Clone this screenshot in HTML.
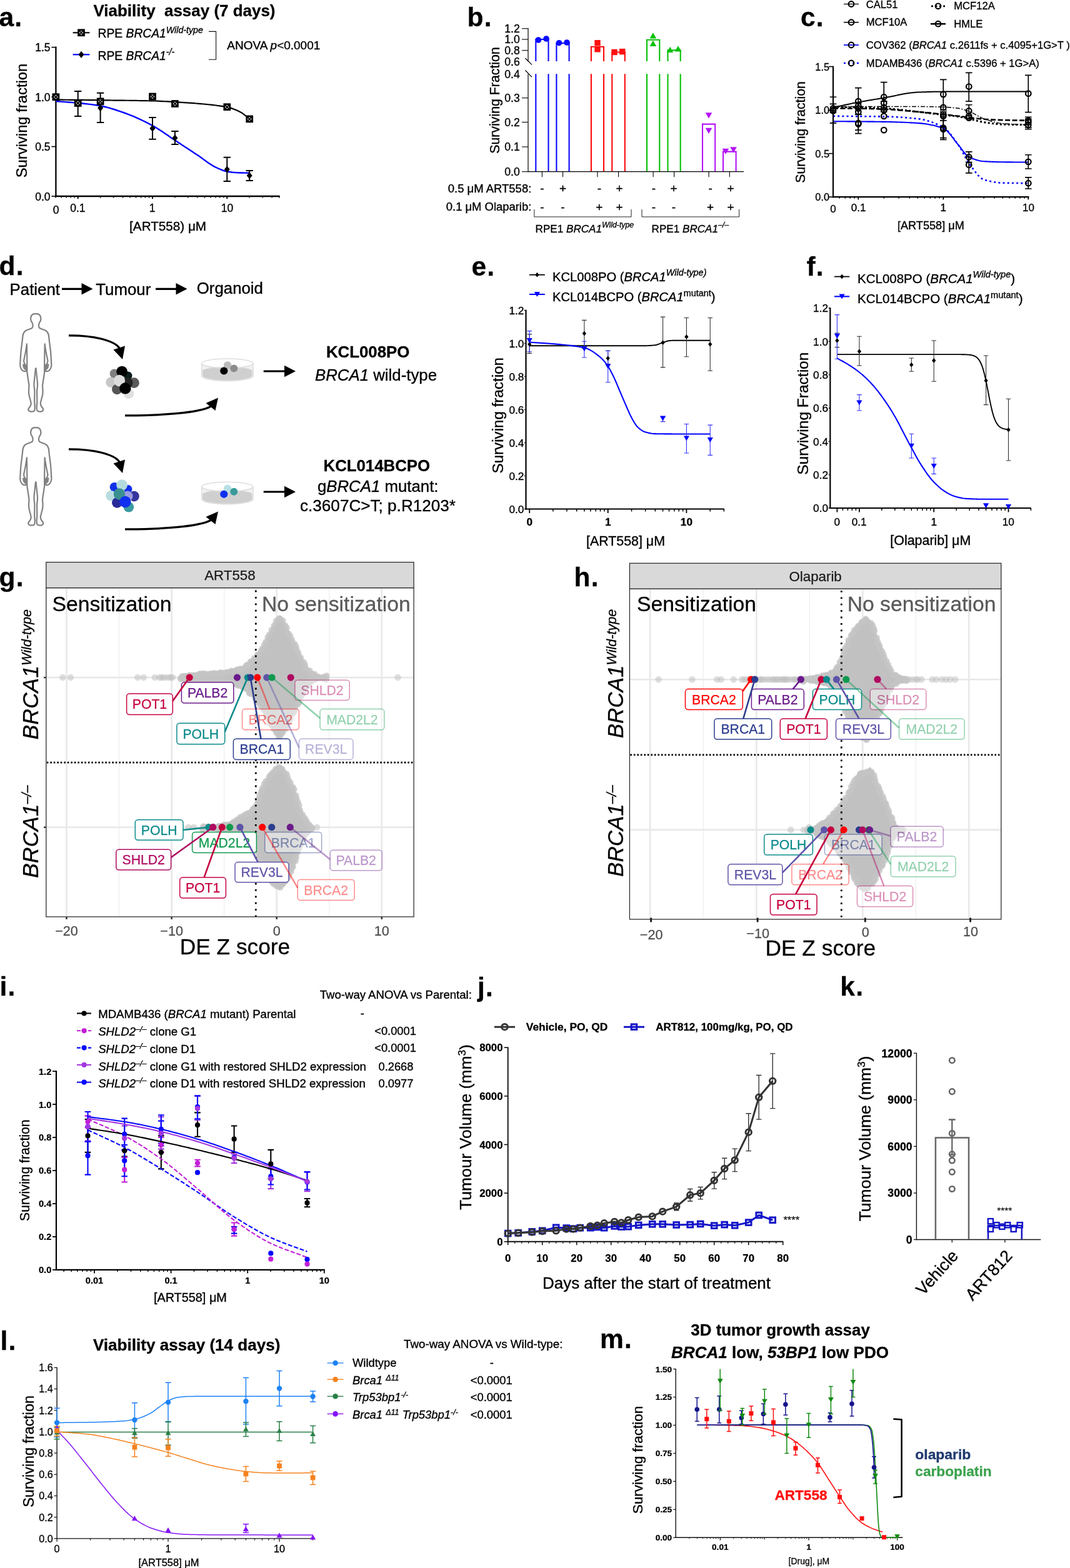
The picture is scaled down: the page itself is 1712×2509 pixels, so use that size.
<!DOCTYPE html>
<html lang="en">
<head>
<meta charset="utf-8">
<title>Figure</title>
<style>
html,body{margin:0;padding:0;background:#fff;}
body{width:1712px;height:2509px;overflow:hidden;}
svg{display:block;font-family:"Liberation Sans", sans-serif;}
svg text{font-family:"Liberation Sans", sans-serif;}
</style>
</head>
<body>
<svg width="1712" height="2509" viewBox="0 0 1712 2509" role="img" aria-label="Figure with panels a to m">
<rect x="0" y="0" width="1712" height="2509" fill="#ffffff"/>
<g id="panel-a">
<text x="-1.5" y="42.2" font-size="42.5" stroke="#000" stroke-width="0.3" font-weight="bold" letter-spacing="1.2">a.</text>
<text x="295" y="26" font-size="26" stroke="#000" stroke-width="0.3" text-anchor="middle" font-weight="bold" textLength="291" lengthAdjust="spacingAndGlyphs" xml:space="preserve">Viability  assay (7 days)</text>
<line x1="89.4" y1="74.55" x2="89.4" y2="315.15" stroke="#000" stroke-width="2.3" />
<line x1="88.3" y1="314" x2="447.7" y2="314" stroke="#000" stroke-width="2.3" />
<line x1="82.4" y1="314" x2="89.4" y2="314" stroke="#000" stroke-width="1.6" />
<text x="80.5" y="320.5" font-size="17.5" stroke="#000" stroke-width="0.34" text-anchor="end">0.0</text>
<line x1="82.4" y1="234.55" x2="89.4" y2="234.55" stroke="#000" stroke-width="1.6" />
<text x="80.5" y="241.05" font-size="17.5" stroke="#000" stroke-width="0.34" text-anchor="end">0.5</text>
<line x1="82.4" y1="155.1" x2="89.4" y2="155.1" stroke="#000" stroke-width="1.6" />
<text x="80.5" y="161.6" font-size="17.5" stroke="#000" stroke-width="0.34" text-anchor="end">1.0</text>
<line x1="82.4" y1="75.65" x2="89.4" y2="75.65" stroke="#000" stroke-width="1.6" />
<text x="80.5" y="82.15" font-size="17.5" stroke="#000" stroke-width="0.34" text-anchor="end">1.5</text>
<line x1="88.79" y1="314" x2="88.79" y2="316.6" stroke="#000" stroke-width="1.5" />
<line x1="98.23" y1="314" x2="98.23" y2="316.6" stroke="#000" stroke-width="1.5" />
<line x1="106.22" y1="314" x2="106.22" y2="316.6" stroke="#000" stroke-width="1.5" />
<line x1="113.14" y1="314" x2="113.14" y2="316.6" stroke="#000" stroke-width="1.5" />
<line x1="119.24" y1="314" x2="119.24" y2="316.6" stroke="#000" stroke-width="1.5" />
<line x1="124.7" y1="314" x2="124.7" y2="318.2" stroke="#000" stroke-width="2" />
<line x1="160.61" y1="314" x2="160.61" y2="316.6" stroke="#000" stroke-width="1.5" />
<line x1="181.62" y1="314" x2="181.62" y2="316.6" stroke="#000" stroke-width="1.5" />
<line x1="196.53" y1="314" x2="196.53" y2="316.6" stroke="#000" stroke-width="1.5" />
<line x1="208.09" y1="314" x2="208.09" y2="316.6" stroke="#000" stroke-width="1.5" />
<line x1="217.53" y1="314" x2="217.53" y2="316.6" stroke="#000" stroke-width="1.5" />
<line x1="225.52" y1="314" x2="225.52" y2="316.6" stroke="#000" stroke-width="1.5" />
<line x1="232.44" y1="314" x2="232.44" y2="316.6" stroke="#000" stroke-width="1.5" />
<line x1="238.54" y1="314" x2="238.54" y2="316.6" stroke="#000" stroke-width="1.5" />
<line x1="244" y1="314" x2="244" y2="318.2" stroke="#000" stroke-width="2" />
<line x1="279.91" y1="314" x2="279.91" y2="316.6" stroke="#000" stroke-width="1.5" />
<line x1="300.92" y1="314" x2="300.92" y2="316.6" stroke="#000" stroke-width="1.5" />
<line x1="315.83" y1="314" x2="315.83" y2="316.6" stroke="#000" stroke-width="1.5" />
<line x1="327.39" y1="314" x2="327.39" y2="316.6" stroke="#000" stroke-width="1.5" />
<line x1="336.83" y1="314" x2="336.83" y2="316.6" stroke="#000" stroke-width="1.5" />
<line x1="344.82" y1="314" x2="344.82" y2="316.6" stroke="#000" stroke-width="1.5" />
<line x1="351.74" y1="314" x2="351.74" y2="316.6" stroke="#000" stroke-width="1.5" />
<line x1="357.84" y1="314" x2="357.84" y2="316.6" stroke="#000" stroke-width="1.5" />
<line x1="363.3" y1="314" x2="363.3" y2="318.2" stroke="#000" stroke-width="2" />
<line x1="399.21" y1="314" x2="399.21" y2="316.6" stroke="#000" stroke-width="1.5" />
<line x1="420.22" y1="314" x2="420.22" y2="316.6" stroke="#000" stroke-width="1.5" />
<line x1="435.13" y1="314" x2="435.13" y2="316.6" stroke="#000" stroke-width="1.5" />
<line x1="446.69" y1="314" x2="446.69" y2="316.6" stroke="#000" stroke-width="1.5" />
<text x="89.6" y="341.5" font-size="17.5" stroke="#000" stroke-width="0.34" text-anchor="middle">0</text>
<text x="124.4" y="339" font-size="17.5" stroke="#000" stroke-width="0.34" text-anchor="middle">0.1</text>
<text x="243.7" y="339" font-size="17.5" stroke="#000" stroke-width="0.34" text-anchor="middle">1</text>
<text x="363.5" y="339" font-size="17.5" stroke="#000" stroke-width="0.34" text-anchor="middle">10</text>
<text x="268.6" y="369.3" font-size="20.5" stroke="#000" stroke-width="0.35" text-anchor="middle" textLength="123" lengthAdjust="spacingAndGlyphs">[ART558) μM</text>
<text x="0" y="0" font-size="23.8" stroke="#000" stroke-width="0.35" text-anchor="middle" transform="translate(43 193) rotate(-90)">Surviving fraction</text>
<path d="M89.4 159.6 L93.28 159.63 L97.15 159.66 L101.03 159.7 L104.9 159.73 L108.78 159.76 L112.65 159.79 L116.53 159.82 L120.4 159.86 L124.28 159.89 L128.15 159.93 L132.03 159.97 L135.9 160.01 L139.78 160.05 L143.65 160.1 L147.53 160.14 L151.4 160.19 L155.28 160.23 L159.15 160.28 L163.03 160.32 L166.9 160.37 L170.78 160.41 L174.65 160.45 L178.53 160.49 L182.4 160.53 L186.28 160.57 L190.15 160.61 L194.03 160.65 L197.9 160.69 L201.78 160.73 L205.65 160.77 L209.53 160.82 L213.4 160.87 L217.28 160.92 L221.15 160.98 L225.03 161.04 L228.9 161.1 L232.78 161.17 L236.65 161.24 L240.53 161.32 L244.4 161.41 L248.28 161.52 L252.15 161.66 L256.02 161.83 L259.9 162.03 L263.77 162.24 L267.65 162.46 L271.52 162.69 L275.4 162.93 L279.27 163.16 L283.15 163.38 L287.02 163.62 L290.9 163.85 L294.77 164.1 L298.65 164.35 L302.52 164.62 L306.4 164.9 L310.27 165.19 L314.15 165.5 L318.02 165.83 L321.9 166.17 L325.77 166.52 L329.65 166.87 L333.52 167.25 L337.4 167.64 L341.27 168.07 L345.15 168.53 L349.02 169.04 L352.9 169.6 L356.77 170.21 L360.65 170.89 L364.52 171.66 L368.4 172.65 L372.27 173.91 L376.15 175.39 L380.02 177.08 L383.9 178.94 L387.77 181.16 L391.65 184.06 L395.52 187.28 L399.4 190.4" stroke="#000" stroke-width="2.2" fill="none" stroke-linejoin="round" />
<path d="M89.4 162 L93.28 162.3 L97.15 162.58 L101.03 162.86 L104.9 163.14 L108.78 163.43 L112.65 163.73 L116.53 164.04 L120.4 164.37 L124.28 164.73 L128.15 165.11 L132.03 165.51 L135.9 165.94 L139.78 166.39 L143.65 166.86 L147.53 167.38 L151.4 167.93 L155.28 168.53 L159.15 169.17 L163.03 169.88 L166.9 170.71 L170.78 171.64 L174.65 172.67 L178.53 173.79 L182.4 174.98 L186.28 176.24 L190.15 177.54 L194.03 178.89 L197.9 180.25 L201.78 181.64 L205.65 183.09 L209.53 184.62 L213.4 186.21 L217.28 187.88 L221.15 189.61 L225.03 191.4 L228.9 193.25 L232.78 195.16 L236.65 197.13 L240.53 199.15 L244.4 201.22 L248.28 203.41 L252.15 205.76 L256.02 208.24 L259.9 210.81 L263.77 213.44 L267.65 216.11 L271.52 218.78 L275.4 221.43 L279.27 224.02 L283.15 226.56 L287.02 229.1 L290.9 231.65 L294.77 234.19 L298.65 236.74 L302.52 239.29 L306.4 241.84 L310.27 244.39 L314.15 246.94 L318.02 249.55 L321.9 252.29 L325.77 255.1 L329.65 257.91 L333.52 260.65 L337.4 263.25 L341.27 265.62 L345.15 267.71 L349.02 269.51 L352.9 271.22 L356.77 272.74 L360.65 273.94 L364.52 274.7 L368.4 275.26 L372.27 275.73 L376.15 276.07 L380.02 276.3 L383.9 276.44 L387.77 276.55 L391.65 276.63 L395.52 276.71 L399.4 276.8" stroke="#0000ff" stroke-width="2.4" fill="none" stroke-linejoin="round" />
<path d="M124.7 146V186M119 146H130.4M119 186H130.4" stroke="#000" stroke-width="2" fill="none"/>
<path d="M160.61 148.8V196M154.91 148.8H166.31M154.91 196H166.31" stroke="#000" stroke-width="2" fill="none"/>
<path d="M244 188V222.7M238.3 188H249.7M238.3 222.7H249.7" stroke="#000" stroke-width="2" fill="none"/>
<path d="M279.91 210V231M274.21 210H285.61M274.21 231H285.61" stroke="#000" stroke-width="2" fill="none"/>
<path d="M363.3 251.7V290M357.6 251.7H369M357.6 290H369" stroke="#000" stroke-width="2" fill="none"/>
<path d="M399.21 273V289M393.51 273H404.91M393.51 289H404.91" stroke="#000" stroke-width="2" fill="none"/>
<path d="M160.61 167.2L165.09 172.8L160.61 178.4L156.13 172.8Z" fill="#000"/>
<path d="M244 199.8L248.48 205.4L244 211L239.52 205.4Z" fill="#000"/>
<path d="M279.91 215.2L284.39 220.8L279.91 226.4L275.43 220.8Z" fill="#000"/>
<path d="M363.3 265.4L367.78 271L363.3 276.6L358.82 271Z" fill="#000"/>
<path d="M399.21 275.4L403.69 281L399.21 286.6L394.73 281Z" fill="#000"/>
<rect x="85" y="150.8" width="8.8" height="8.8" fill="#fff" stroke="#000" stroke-width="2.9" rx="0" /><path d="M85 150.8L93.8 159.6M93.8 150.8L85 159.6" stroke="#000" stroke-width="1.9"/>
<rect x="120.3" y="160.6" width="8.8" height="8.8" fill="#fff" stroke="#000" stroke-width="2.9" rx="0" /><path d="M120.3 160.6L129.1 169.4M129.1 160.6L120.3 169.4" stroke="#000" stroke-width="1.9"/>
<rect x="156.21" y="158" width="8.8" height="8.8" fill="#fff" stroke="#000" stroke-width="2.9" rx="0" /><path d="M156.21 158L165.01 166.8M165.01 158L156.21 166.8" stroke="#000" stroke-width="1.9"/>
<rect x="239.6" y="150.1" width="8.8" height="8.8" fill="#fff" stroke="#000" stroke-width="2.9" rx="0" /><path d="M239.6 150.1L248.4 158.9M248.4 150.1L239.6 158.9" stroke="#000" stroke-width="1.9"/>
<rect x="275.51" y="161.6" width="8.8" height="8.8" fill="#fff" stroke="#000" stroke-width="2.9" rx="0" /><path d="M275.51 161.6L284.31 170.4M284.31 161.6L275.51 170.4" stroke="#000" stroke-width="1.9"/>
<rect x="358.9" y="166.8" width="8.8" height="8.8" fill="#fff" stroke="#000" stroke-width="2.9" rx="0" /><path d="M358.9 166.8L367.7 175.6M367.7 166.8L358.9 175.6" stroke="#000" stroke-width="1.9"/>
<rect x="394.81" y="186" width="8.8" height="8.8" fill="#fff" stroke="#000" stroke-width="2.9" rx="0" /><path d="M394.81 186L403.61 194.8M403.61 186L394.81 194.8" stroke="#000" stroke-width="1.9"/>
<line x1="116.6" y1="52.3" x2="143.4" y2="52.3" stroke="#000" stroke-width="2.1" />
<rect x="125.6" y="47.9" width="8.8" height="8.8" fill="#fff" stroke="#000" stroke-width="2.9" rx="0" /><path d="M125.6 47.9L134.4 56.7M134.4 47.9L125.6 56.7" stroke="#000" stroke-width="1.9"/>
<line x1="116.6" y1="87.3" x2="143.4" y2="87.3" stroke="#0000ff" stroke-width="2.2" />
<path d="M130 81.7L134.48 87.3L130 92.9L125.52 87.3Z" fill="#000"/>
<text x="156.5" y="60.4" font-size="19.3" stroke="#000" stroke-width="0.35">RPE <tspan font-style="italic">BRCA1</tspan><tspan font-style="italic" font-size="14.2" dy="-7.6">Wild-type</tspan></text>
<text x="156.5" y="95.5" font-size="19.3" stroke="#000" stroke-width="0.35">RPE <tspan font-style="italic">BRCA1</tspan><tspan font-style="italic" font-size="14.2" dy="-7.6">-/-</tspan></text>
<path d="M334 50.4H345.6V95.2H334" stroke="#111" stroke-width="1.1" fill="none" />
<text x="363.3" y="78.8" font-size="19" stroke="#000" stroke-width="0.35" textLength="149" lengthAdjust="spacingAndGlyphs">ANOVA <tspan font-style="italic">p</tspan>&lt;0.0001</text>
</g>
<g id="panel-b">
<text x="747.5" y="42.2" font-size="42.5" stroke="#000" stroke-width="0.3" font-weight="bold" letter-spacing="1.2">b.</text>
<line x1="845" y1="45.1" x2="845" y2="98.4" stroke="#000" stroke-width="1.2" />
<line x1="845" y1="118.2" x2="845" y2="275.3" stroke="#000" stroke-width="1.2" />
<line x1="844.4" y1="274.7" x2="1190" y2="274.7" stroke="#000" stroke-width="1.2" />
<line x1="840.5" y1="93.2" x2="851" y2="103.6" stroke="#000" stroke-width="1.2" />
<line x1="840.5" y1="112.5" x2="851" y2="123.4" stroke="#000" stroke-width="1.2" />
<line x1="835" y1="45.7" x2="845" y2="45.7" stroke="#000" stroke-width="1.1" />
<text x="831.8" y="52" font-size="17.6" stroke="#000" stroke-width="0.34" text-anchor="end">1.2</text>
<line x1="835" y1="63" x2="845" y2="63" stroke="#000" stroke-width="1.1" />
<text x="831.8" y="69.3" font-size="17.6" stroke="#000" stroke-width="0.34" text-anchor="end">1.0</text>
<line x1="835" y1="80.7" x2="845" y2="80.7" stroke="#000" stroke-width="1.1" />
<text x="831.8" y="87" font-size="17.6" stroke="#000" stroke-width="0.34" text-anchor="end">0.8</text>
<text x="831.8" y="104.7" font-size="17.6" stroke="#000" stroke-width="0.34" text-anchor="end">0.6</text>
<text x="831.8" y="124.5" font-size="17.6" stroke="#000" stroke-width="0.34" text-anchor="end">0.4</text>
<line x1="835" y1="156.7" x2="845" y2="156.7" stroke="#000" stroke-width="1.1" />
<text x="831.8" y="163" font-size="17.6" stroke="#000" stroke-width="0.34" text-anchor="end">0.3</text>
<line x1="835" y1="195.5" x2="845" y2="195.5" stroke="#000" stroke-width="1.1" />
<text x="831.8" y="201.8" font-size="17.6" stroke="#000" stroke-width="0.34" text-anchor="end">0.2</text>
<line x1="835" y1="235" x2="845" y2="235" stroke="#000" stroke-width="1.1" />
<text x="831.8" y="241.3" font-size="17.6" stroke="#000" stroke-width="0.34" text-anchor="end">0.1</text>
<line x1="835" y1="274.7" x2="845" y2="274.7" stroke="#000" stroke-width="1.1" />
<text x="831.8" y="281" font-size="17.6" stroke="#000" stroke-width="0.34" text-anchor="end">0.0</text>
<text x="0" y="0" font-size="21.3" stroke="#000" stroke-width="0.35" text-anchor="middle" transform="translate(799 160.5) rotate(-90)">Surviving Fraction</text>
<path d="M857.3 98V63H877.5V98" stroke="#0a0aff" stroke-width="2.1" fill="none" />
<path d="M857.3 118.2V274.1M877.5 118.2V274.1" stroke="#0a0aff" stroke-width="2.1" fill="none" />
<line x1="867.4" y1="274.7" x2="867.4" y2="283.2" stroke="#000" stroke-width="1.1" />
<path d="M890.4 98V69H910.6V98" stroke="#0a0aff" stroke-width="2.1" fill="none" />
<path d="M890.4 118.2V274.1M910.6 118.2V274.1" stroke="#0a0aff" stroke-width="2.1" fill="none" />
<line x1="900.5" y1="274.7" x2="900.5" y2="283.2" stroke="#000" stroke-width="1.1" />
<path d="M945.9 98V74.7H966V98" stroke="#ff0a0a" stroke-width="2.1" fill="none" />
<path d="M945.9 118.2V274.1M966 118.2V274.1" stroke="#ff0a0a" stroke-width="2.1" fill="none" />
<line x1="955.95" y1="274.7" x2="955.95" y2="283.2" stroke="#000" stroke-width="1.1" />
<path d="M979.3 98V83.5H999.8V98" stroke="#ff0a0a" stroke-width="2.1" fill="none" />
<path d="M979.3 118.2V274.1M999.8 118.2V274.1" stroke="#ff0a0a" stroke-width="2.1" fill="none" />
<line x1="989.55" y1="274.7" x2="989.55" y2="283.2" stroke="#000" stroke-width="1.1" />
<path d="M1035 98V63.7H1055.3V98" stroke="#08c008" stroke-width="2.1" fill="none" />
<path d="M1035 118.2V274.1M1055.3 118.2V274.1" stroke="#08c008" stroke-width="2.1" fill="none" />
<line x1="1045.15" y1="274.7" x2="1045.15" y2="283.2" stroke="#000" stroke-width="1.1" />
<path d="M1068.5 98V80.4H1088.7V98" stroke="#08c008" stroke-width="2.1" fill="none" />
<path d="M1068.5 118.2V274.1M1088.7 118.2V274.1" stroke="#08c008" stroke-width="2.1" fill="none" />
<line x1="1078.6" y1="274.7" x2="1078.6" y2="283.2" stroke="#000" stroke-width="1.1" />
<path d="M1124 274.1V198.6H1144.2V274.1" stroke="#b414f5" stroke-width="2.1" fill="none" />
<line x1="1134.1" y1="274.7" x2="1134.1" y2="283.2" stroke="#000" stroke-width="1.1" />
<path d="M1157 274.1V242.6H1177.6V274.1" stroke="#b414f5" stroke-width="2.1" fill="none" />
<line x1="1167.3" y1="274.7" x2="1167.3" y2="283.2" stroke="#000" stroke-width="1.1" />
<circle cx="861.4" cy="64" r="4.8" fill="#0a0aff" stroke="none" stroke-width="0" />
<circle cx="874" cy="62" r="4.8" fill="#0a0aff" stroke="none" stroke-width="0" />
<circle cx="894.5" cy="68.7" r="4.8" fill="#0a0aff" stroke="none" stroke-width="0" />
<circle cx="907" cy="68" r="4.8" fill="#0a0aff" stroke="none" stroke-width="0" />
<rect x="951.3" y="64" width="9.4" height="9.4" fill="#ff1010" stroke="none" stroke-width="0" rx="0" />
<rect x="951.3" y="74.1" width="9.4" height="9.4" fill="#ff1010" stroke="none" stroke-width="0" rx="0" />
<rect x="978.3" y="78.8" width="9.4" height="9.4" fill="#ff1010" stroke="none" stroke-width="0" rx="0" />
<rect x="991" y="77.9" width="9.4" height="9.4" fill="#ff1010" stroke="none" stroke-width="0" rx="0" />
<path d="M1044.9 52.2L1050.2 61.48L1039.6 61.48Z" fill="#08c008"/>
<path d="M1044.9 64.7L1050.2 73.97L1039.6 73.97Z" fill="#08c008"/>
<path d="M1072 74.7L1077.3 83.97L1066.7 83.97Z" fill="#08c008"/>
<path d="M1085 73.2L1090.3 82.47L1079.7 82.47Z" fill="#08c008"/>
<path d="M1134 189.6L1139.3 180.33L1128.7 180.33Z" fill="#b414f5"/>
<path d="M1134 214L1139.3 204.72L1128.7 204.72Z" fill="#b414f5"/>
<path d="M1160.9 247.1L1166.2 237.83L1155.6 237.83Z" fill="#b414f5"/>
<path d="M1173.5 244.5L1178.8 235.22L1168.2 235.22Z" fill="#b414f5"/>
<text x="850.3" y="308" font-size="18" stroke="#000" stroke-width="0.35" text-anchor="end" textLength="133.5" lengthAdjust="spacingAndGlyphs">0.5 μM ART558:</text>
<text x="850.3" y="337" font-size="18" stroke="#000" stroke-width="0.35" text-anchor="end" textLength="136.5" lengthAdjust="spacingAndGlyphs">0.1 μM Olaparib:</text>
<text x="867.4" y="307.6" font-size="19" stroke="#000" stroke-width="0.35" text-anchor="middle">-</text>
<text x="900.5" y="307.8" font-size="19" stroke="#000" stroke-width="0.35" text-anchor="middle">+</text>
<text x="958.8" y="307.6" font-size="19" stroke="#000" stroke-width="0.35" text-anchor="middle">-</text>
<text x="991" y="307.8" font-size="19" stroke="#000" stroke-width="0.35" text-anchor="middle">+</text>
<text x="1045.8" y="307.6" font-size="19" stroke="#000" stroke-width="0.35" text-anchor="middle">-</text>
<text x="1078" y="307.8" font-size="19" stroke="#000" stroke-width="0.35" text-anchor="middle">+</text>
<text x="1136.6" y="307.6" font-size="19" stroke="#000" stroke-width="0.35" text-anchor="middle">-</text>
<text x="1169" y="307.8" font-size="19" stroke="#000" stroke-width="0.35" text-anchor="middle">+</text>
<text x="867.4" y="338.1" font-size="19" stroke="#000" stroke-width="0.35" text-anchor="middle">-</text>
<text x="900.5" y="338.1" font-size="19" stroke="#000" stroke-width="0.35" text-anchor="middle">-</text>
<text x="958.8" y="338.3" font-size="19" stroke="#000" stroke-width="0.35" text-anchor="middle">+</text>
<text x="991" y="338.3" font-size="19" stroke="#000" stroke-width="0.35" text-anchor="middle">+</text>
<text x="1045.8" y="338.1" font-size="19" stroke="#000" stroke-width="0.35" text-anchor="middle">-</text>
<text x="1078" y="338.1" font-size="19" stroke="#000" stroke-width="0.35" text-anchor="middle">-</text>
<text x="1136.6" y="338.3" font-size="19" stroke="#000" stroke-width="0.35" text-anchor="middle">+</text>
<text x="1169" y="338.3" font-size="19" stroke="#000" stroke-width="0.35" text-anchor="middle">+</text>
<path d="M854.8 335V347H1010V335" stroke="#222" stroke-width="1" fill="none" />
<path d="M1027 335V347H1182.6V335" stroke="#222" stroke-width="1" fill="none" />
<text x="856.6" y="371.8" font-size="17.1" stroke="#000" stroke-width="0.33">RPE1 <tspan font-style="italic">BRCA1</tspan><tspan font-style="italic" font-size="12.3" dy="-7.6">Wild-type</tspan></text>
<text x="1042.6" y="371.8" font-size="17.1" stroke="#000" stroke-width="0.33">RPE1 <tspan font-style="italic">BRCA1</tspan><tspan font-style="italic" font-size="12.3" dy="-7.6">–/–</tspan></text>
</g>
<g id="panel-c">
<text x="1281" y="42.2" font-size="42.5" stroke="#000" stroke-width="0.3" font-weight="bold" letter-spacing="1.2">c.</text>
<line x1="1333" y1="105.75" x2="1333" y2="316.3" stroke="#000" stroke-width="2.2" />
<line x1="1331.9" y1="315.2" x2="1646.4" y2="315.2" stroke="#000" stroke-width="2.2" />
<line x1="1326" y1="315.2" x2="1333" y2="315.2" stroke="#000" stroke-width="1.6" />
<text x="1327" y="321.2" font-size="16.3" stroke="#000" stroke-width="0.32" text-anchor="end">0.0</text>
<line x1="1326" y1="245.65" x2="1333" y2="245.65" stroke="#000" stroke-width="1.6" />
<text x="1327" y="251.65" font-size="16.3" stroke="#000" stroke-width="0.32" text-anchor="end">0.5</text>
<line x1="1326" y1="176.1" x2="1333" y2="176.1" stroke="#000" stroke-width="1.6" />
<text x="1327" y="182.1" font-size="16.3" stroke="#000" stroke-width="0.32" text-anchor="end">1.0</text>
<line x1="1326" y1="106.55" x2="1333" y2="106.55" stroke="#000" stroke-width="1.6" />
<text x="1327" y="112.55" font-size="16.3" stroke="#000" stroke-width="0.32" text-anchor="end">1.5</text>
<line x1="1343.13" y1="315.2" x2="1343.13" y2="317.8" stroke="#000" stroke-width="1.4" />
<line x1="1352.23" y1="315.2" x2="1352.23" y2="317.8" stroke="#000" stroke-width="1.4" />
<line x1="1360.12" y1="315.2" x2="1360.12" y2="317.8" stroke="#000" stroke-width="1.4" />
<line x1="1367.08" y1="315.2" x2="1367.08" y2="317.8" stroke="#000" stroke-width="1.4" />
<line x1="1373.3" y1="315.2" x2="1373.3" y2="319.4" stroke="#000" stroke-width="1.8" />
<line x1="1414.24" y1="315.2" x2="1414.24" y2="317.8" stroke="#000" stroke-width="1.4" />
<line x1="1438.19" y1="315.2" x2="1438.19" y2="317.8" stroke="#000" stroke-width="1.4" />
<line x1="1455.18" y1="315.2" x2="1455.18" y2="317.8" stroke="#000" stroke-width="1.4" />
<line x1="1468.36" y1="315.2" x2="1468.36" y2="317.8" stroke="#000" stroke-width="1.4" />
<line x1="1479.13" y1="315.2" x2="1479.13" y2="317.8" stroke="#000" stroke-width="1.4" />
<line x1="1488.23" y1="315.2" x2="1488.23" y2="317.8" stroke="#000" stroke-width="1.4" />
<line x1="1496.12" y1="315.2" x2="1496.12" y2="317.8" stroke="#000" stroke-width="1.4" />
<line x1="1503.08" y1="315.2" x2="1503.08" y2="317.8" stroke="#000" stroke-width="1.4" />
<line x1="1509.3" y1="315.2" x2="1509.3" y2="319.4" stroke="#000" stroke-width="1.8" />
<line x1="1550.24" y1="315.2" x2="1550.24" y2="317.8" stroke="#000" stroke-width="1.4" />
<line x1="1574.19" y1="315.2" x2="1574.19" y2="317.8" stroke="#000" stroke-width="1.4" />
<line x1="1591.18" y1="315.2" x2="1591.18" y2="317.8" stroke="#000" stroke-width="1.4" />
<line x1="1604.36" y1="315.2" x2="1604.36" y2="317.8" stroke="#000" stroke-width="1.4" />
<line x1="1615.13" y1="315.2" x2="1615.13" y2="317.8" stroke="#000" stroke-width="1.4" />
<line x1="1624.23" y1="315.2" x2="1624.23" y2="317.8" stroke="#000" stroke-width="1.4" />
<line x1="1632.12" y1="315.2" x2="1632.12" y2="317.8" stroke="#000" stroke-width="1.4" />
<line x1="1639.08" y1="315.2" x2="1639.08" y2="317.8" stroke="#000" stroke-width="1.4" />
<line x1="1645.3" y1="315.2" x2="1645.3" y2="319.4" stroke="#000" stroke-width="1.8" />
<text x="1333" y="340.3" font-size="17" stroke="#000" stroke-width="0.33" text-anchor="middle">0</text>
<text x="1373.6" y="337.7" font-size="17" stroke="#000" stroke-width="0.33" text-anchor="middle">0.1</text>
<text x="1509.3" y="337.7" font-size="17" stroke="#000" stroke-width="0.33" text-anchor="middle">1</text>
<text x="1645.4" y="337.7" font-size="17" stroke="#000" stroke-width="0.33" text-anchor="middle">10</text>
<text x="1489.4" y="366.7" font-size="19" stroke="#000" stroke-width="0.35" text-anchor="middle" textLength="107" lengthAdjust="spacingAndGlyphs">[ART558] μM</text>
<text x="0" y="0" font-size="21.2" stroke="#000" stroke-width="0.35" text-anchor="middle" transform="translate(1288 211.5) rotate(-90)">Surviving fraction</text>
<path d="M1333 171.93 L1335.6 171.38 L1338.2 170.84 L1340.81 170.29 L1343.41 169.73 L1346.01 169.17 L1348.62 168.62 L1351.22 168.06 L1353.82 167.51 L1356.42 166.96 L1359.03 166.42 L1361.63 165.88 L1364.23 165.35 L1366.83 164.83 L1369.43 164.32 L1372.04 163.82 L1374.64 163.33 L1377.24 162.86 L1379.85 162.39 L1382.45 161.93 L1385.05 161.48 L1387.65 161.04 L1390.25 160.6 L1392.86 160.16 L1395.46 159.73 L1398.06 159.3 L1400.66 158.87 L1403.27 158.45 L1405.87 158.02 L1408.47 157.59 L1411.08 157.16 L1413.68 156.72 L1416.28 156.27 L1418.88 155.8 L1421.48 155.3 L1424.09 154.79 L1426.69 154.26 L1429.29 153.72 L1431.89 153.17 L1434.5 152.63 L1437.1 152.09 L1439.7 151.56 L1442.31 151.04 L1444.91 150.54 L1447.51 150.06 L1450.11 149.61 L1452.71 149.19 L1455.32 148.81 L1457.92 148.46 L1460.52 148.17 L1463.12 147.92 L1465.73 147.72 L1468.33 147.59 L1470.93 147.48 L1473.53 147.39 L1476.14 147.3 L1478.74 147.21 L1481.34 147.13 L1483.94 147.06 L1486.55 146.99 L1489.15 146.93 L1491.75 146.87 L1494.36 146.82 L1496.96 146.77 L1499.56 146.73 L1502.16 146.69 L1504.76 146.66 L1507.37 146.63 L1509.97 146.6 L1512.57 146.58 L1515.17 146.56 L1517.78 146.54 L1520.38 146.52 L1522.98 146.5 L1525.59 146.49 L1528.19 146.48 L1530.79 146.47 L1533.39 146.47 L1535.99 146.47 L1538.6 146.47 L1541.2 146.47 L1543.8 146.47 L1546.4 146.47 L1549.01 146.47 L1551.61 146.47 L1554.21 146.47 L1556.82 146.47 L1559.42 146.47 L1562.02 146.47 L1564.62 146.47 L1567.22 146.47 L1569.83 146.47 L1572.43 146.47 L1575.03 146.47 L1577.63 146.47 L1580.24 146.47 L1582.84 146.47 L1585.44 146.47 L1588.05 146.47 L1590.65 146.47 L1593.25 146.47 L1595.85 146.47 L1598.45 146.47 L1601.06 146.47 L1603.66 146.47 L1606.26 146.47 L1608.87 146.47 L1611.47 146.47 L1614.07 146.47 L1616.67 146.47 L1619.27 146.47 L1621.88 146.47 L1624.48 146.47 L1627.08 146.47 L1629.68 146.47 L1632.29 146.47 L1634.89 146.47 L1637.49 146.47 L1640.1 146.47 L1642.7 146.47 L1645.3 146.47" stroke="#000" stroke-width="2" fill="none" stroke-linejoin="round" />
<path d="M1333 170.54 L1335.6 170.54 L1338.2 170.54 L1340.81 170.54 L1343.41 170.54 L1346.01 170.54 L1348.62 170.54 L1351.22 170.54 L1353.82 170.54 L1356.42 170.54 L1359.03 170.54 L1361.63 170.54 L1364.23 170.54 L1366.83 170.54 L1369.43 170.54 L1372.04 170.54 L1374.64 170.54 L1377.24 170.54 L1379.85 170.54 L1382.45 170.54 L1385.05 170.54 L1387.65 170.54 L1390.25 170.54 L1392.86 170.54 L1395.46 170.54 L1398.06 170.54 L1400.66 170.54 L1403.27 170.54 L1405.87 170.54 L1408.47 170.54 L1411.08 170.54 L1413.68 170.54 L1416.28 170.54 L1418.88 170.54 L1421.48 170.54 L1424.09 170.54 L1426.69 170.54 L1429.29 170.54 L1431.89 170.54 L1434.5 170.54 L1437.1 170.54 L1439.7 170.54 L1442.31 170.54 L1444.91 170.54 L1447.51 170.54 L1450.11 170.54 L1452.71 170.54 L1455.32 170.54 L1457.92 170.54 L1460.52 170.54 L1463.12 170.54 L1465.73 170.54 L1468.33 170.54 L1470.93 170.54 L1473.53 170.55 L1476.14 170.57 L1478.74 170.59 L1481.34 170.62 L1483.94 170.65 L1486.55 170.69 L1489.15 170.73 L1491.75 170.78 L1494.36 170.84 L1496.96 170.9 L1499.56 170.96 L1502.16 171.03 L1504.76 171.1 L1507.37 171.17 L1509.97 171.25 L1512.57 171.36 L1515.17 171.5 L1517.78 171.67 L1520.38 171.88 L1522.98 172.11 L1525.59 172.38 L1528.19 172.67 L1530.79 172.99 L1533.39 173.34 L1535.99 173.79 L1538.6 174.4 L1541.2 175.12 L1543.8 175.94 L1546.4 176.83 L1549.01 177.75 L1551.61 178.71 L1554.21 179.86 L1556.82 181.16 L1559.42 182.58 L1562.02 184.04 L1564.62 185.51 L1567.22 186.92 L1569.83 188.22 L1572.43 189.36 L1575.03 190.3 L1577.63 191.17 L1580.24 192.04 L1582.84 192.87 L1585.44 193.68 L1588.05 194.44 L1590.65 195.15 L1593.25 195.8 L1595.85 196.38 L1598.45 196.88 L1601.06 197.28 L1603.66 197.6 L1606.26 197.82 L1608.87 198.02 L1611.47 198.2 L1614.07 198.36 L1616.67 198.51 L1619.27 198.64 L1621.88 198.76 L1624.48 198.88 L1627.08 198.98 L1629.68 199.09 L1632.29 199.19 L1634.89 199.29 L1637.49 199.39 L1640.1 199.5 L1642.7 199.62 L1645.3 199.75" stroke="#000" stroke-width="1.5" fill="none" stroke-linejoin="round" stroke-dasharray="7 2.5 2 2.5"/>
<path d="M1333 173.32 L1335.6 173.34 L1338.2 173.35 L1340.81 173.37 L1343.41 173.38 L1346.01 173.4 L1348.62 173.41 L1351.22 173.43 L1353.82 173.44 L1356.42 173.46 L1359.03 173.47 L1361.63 173.49 L1364.23 173.51 L1366.83 173.53 L1369.43 173.56 L1372.04 173.58 L1374.64 173.61 L1377.24 173.65 L1379.85 173.69 L1382.45 173.74 L1385.05 173.79 L1387.65 173.85 L1390.25 173.91 L1392.86 173.98 L1395.46 174.06 L1398.06 174.13 L1400.66 174.22 L1403.27 174.3 L1405.87 174.4 L1408.47 174.49 L1411.08 174.59 L1413.68 174.69 L1416.28 174.79 L1418.88 174.92 L1421.48 175.05 L1424.09 175.2 L1426.69 175.37 L1429.29 175.54 L1431.89 175.72 L1434.5 175.92 L1437.1 176.12 L1439.7 176.33 L1442.31 176.55 L1444.91 176.77 L1447.51 177 L1450.11 177.23 L1452.71 177.47 L1455.32 177.7 L1457.92 177.94 L1460.52 178.18 L1463.12 178.41 L1465.73 178.65 L1468.33 178.88 L1470.93 179.11 L1473.53 179.35 L1476.14 179.6 L1478.74 179.85 L1481.34 180.1 L1483.94 180.36 L1486.55 180.63 L1489.15 180.89 L1491.75 181.17 L1494.36 181.44 L1496.96 181.72 L1499.56 182 L1502.16 182.28 L1504.76 182.56 L1507.37 182.84 L1509.97 183.13 L1512.57 183.42 L1515.17 183.71 L1517.78 184.01 L1520.38 184.31 L1522.98 184.62 L1525.59 184.92 L1528.19 185.23 L1530.79 185.54 L1533.39 185.85 L1535.99 186.17 L1538.6 186.49 L1541.2 186.81 L1543.8 187.14 L1546.4 187.46 L1549.01 187.78 L1551.61 188.09 L1554.21 188.42 L1556.82 188.76 L1559.42 189.11 L1562.02 189.45 L1564.62 189.77 L1567.22 190.07 L1569.83 190.34 L1572.43 190.58 L1575.03 190.76 L1577.63 190.93 L1580.24 191.09 L1582.84 191.23 L1585.44 191.37 L1588.05 191.5 L1590.65 191.62 L1593.25 191.73 L1595.85 191.83 L1598.45 191.92 L1601.06 192.01 L1603.66 192.08 L1606.26 192.14 L1608.87 192.2 L1611.47 192.26 L1614.07 192.31 L1616.67 192.36 L1619.27 192.4 L1621.88 192.44 L1624.48 192.48 L1627.08 192.52 L1629.68 192.56 L1632.29 192.59 L1634.89 192.63 L1637.49 192.67 L1640.1 192.71 L1642.7 192.75 L1645.3 192.79" stroke="#000" stroke-width="2.6" fill="none" stroke-linejoin="round" stroke-dasharray="8 3.5"/>
<path d="M1333 171.23 L1335.6 171.28 L1338.2 171.32 L1340.81 171.36 L1343.41 171.4 L1346.01 171.44 L1348.62 171.48 L1351.22 171.52 L1353.82 171.56 L1356.42 171.6 L1359.03 171.65 L1361.63 171.69 L1364.23 171.74 L1366.83 171.79 L1369.43 171.84 L1372.04 171.9 L1374.64 171.96 L1377.24 172.02 L1379.85 172.08 L1382.45 172.15 L1385.05 172.22 L1387.65 172.3 L1390.25 172.37 L1392.86 172.45 L1395.46 172.54 L1398.06 172.63 L1400.66 172.73 L1403.27 172.83 L1405.87 172.93 L1408.47 173.05 L1411.08 173.17 L1413.68 173.29 L1416.28 173.43 L1418.88 173.59 L1421.48 173.77 L1424.09 173.97 L1426.69 174.19 L1429.29 174.43 L1431.89 174.68 L1434.5 174.94 L1437.1 175.22 L1439.7 175.51 L1442.31 175.8 L1444.91 176.11 L1447.51 176.42 L1450.11 176.73 L1452.71 177.04 L1455.32 177.36 L1457.92 177.67 L1460.52 177.98 L1463.12 178.29 L1465.73 178.59 L1468.33 178.88 L1470.93 179.17 L1473.53 179.47 L1476.14 179.77 L1478.74 180.07 L1481.34 180.38 L1483.94 180.69 L1486.55 181.01 L1489.15 181.32 L1491.75 181.64 L1494.36 181.95 L1496.96 182.27 L1499.56 182.59 L1502.16 182.9 L1504.76 183.21 L1507.37 183.52 L1509.97 183.83 L1512.57 184.12 L1515.17 184.4 L1517.78 184.67 L1520.38 184.95 L1522.98 185.23 L1525.59 185.52 L1528.19 185.84 L1530.79 186.18 L1533.39 186.55 L1535.99 186.99 L1538.6 187.48 L1541.2 188.01 L1543.8 188.58 L1546.4 189.16 L1549.01 189.74 L1551.61 190.32 L1554.21 190.93 L1556.82 191.58 L1559.42 192.25 L1562.02 192.92 L1564.62 193.58 L1567.22 194.2 L1569.83 194.77 L1572.43 195.28 L1575.03 195.71 L1577.63 196.11 L1580.24 196.51 L1582.84 196.9 L1585.44 197.27 L1588.05 197.63 L1590.65 197.95 L1593.25 198.25 L1595.85 198.51 L1598.45 198.73 L1601.06 198.91 L1603.66 199.03 L1606.26 199.11 L1608.87 199.18 L1611.47 199.24 L1614.07 199.29 L1616.67 199.34 L1619.27 199.39 L1621.88 199.43 L1624.48 199.46 L1627.08 199.5 L1629.68 199.53 L1632.29 199.56 L1634.89 199.6 L1637.49 199.63 L1640.1 199.67 L1642.7 199.7 L1645.3 199.75" stroke="#000" stroke-width="3" fill="none" stroke-linejoin="round" stroke-dasharray="3 3.4"/>
<path d="M1333 194.18 L1335.6 194.2 L1338.2 194.22 L1340.81 194.24 L1343.41 194.25 L1346.01 194.27 L1348.62 194.29 L1351.22 194.3 L1353.82 194.32 L1356.42 194.34 L1359.03 194.35 L1361.63 194.37 L1364.23 194.39 L1366.83 194.41 L1369.43 194.43 L1372.04 194.45 L1374.64 194.47 L1377.24 194.49 L1379.85 194.51 L1382.45 194.53 L1385.05 194.56 L1387.65 194.58 L1390.25 194.6 L1392.86 194.62 L1395.46 194.65 L1398.06 194.67 L1400.66 194.7 L1403.27 194.73 L1405.87 194.76 L1408.47 194.79 L1411.08 194.83 L1413.68 194.87 L1416.28 194.91 L1418.88 194.96 L1421.48 195.01 L1424.09 195.07 L1426.69 195.13 L1429.29 195.19 L1431.89 195.27 L1434.5 195.34 L1437.1 195.43 L1439.7 195.52 L1442.31 195.61 L1444.91 195.72 L1447.51 195.82 L1450.11 195.94 L1452.71 196.06 L1455.32 196.19 L1457.92 196.33 L1460.52 196.48 L1463.12 196.63 L1465.73 196.79 L1468.33 196.96 L1470.93 197.16 L1473.53 197.39 L1476.14 197.66 L1478.74 197.97 L1481.34 198.33 L1483.94 198.73 L1486.55 199.17 L1489.15 199.67 L1491.75 200.22 L1494.36 200.81 L1496.96 201.46 L1499.56 202.17 L1502.16 202.93 L1504.76 203.74 L1507.37 204.62 L1509.97 205.58 L1512.57 207.12 L1515.17 209.3 L1517.78 212.01 L1520.38 215.12 L1522.98 218.48 L1525.59 221.97 L1528.19 225.46 L1530.79 228.82 L1533.39 231.9 L1535.99 235.1 L1538.6 238.59 L1541.2 242.13 L1543.8 245.46 L1546.4 248.34 L1549.01 250.51 L1551.61 251.86 L1554.21 253.01 L1556.82 254.07 L1559.42 255.02 L1562.02 255.87 L1564.62 256.59 L1567.22 257.2 L1569.83 257.68 L1572.43 258.02 L1575.03 258.23 L1577.63 258.39 L1580.24 258.53 L1582.84 258.67 L1585.44 258.79 L1588.05 258.89 L1590.65 258.98 L1593.25 259.06 L1595.85 259.13 L1598.45 259.19 L1601.06 259.24 L1603.66 259.27 L1606.26 259.3 L1608.87 259.33 L1611.47 259.35 L1614.07 259.38 L1616.67 259.4 L1619.27 259.41 L1621.88 259.43 L1624.48 259.45 L1627.08 259.46 L1629.68 259.47 L1632.29 259.49 L1634.89 259.5 L1637.49 259.51 L1640.1 259.53 L1642.7 259.54 L1645.3 259.56" stroke="#0000ff" stroke-width="2.1" fill="none" stroke-linejoin="round" />
<path d="M1333 185.84 L1335.6 185.85 L1338.2 185.87 L1340.81 185.89 L1343.41 185.91 L1346.01 185.92 L1348.62 185.94 L1351.22 185.96 L1353.82 185.97 L1356.42 185.99 L1359.03 186.01 L1361.63 186.03 L1364.23 186.05 L1366.83 186.06 L1369.43 186.08 L1372.04 186.1 L1374.64 186.13 L1377.24 186.15 L1379.85 186.17 L1382.45 186.19 L1385.05 186.21 L1387.65 186.23 L1390.25 186.25 L1392.86 186.27 L1395.46 186.29 L1398.06 186.32 L1400.66 186.35 L1403.27 186.38 L1405.87 186.41 L1408.47 186.44 L1411.08 186.48 L1413.68 186.52 L1416.28 186.57 L1418.88 186.63 L1421.48 186.7 L1424.09 186.78 L1426.69 186.88 L1429.29 186.99 L1431.89 187.1 L1434.5 187.24 L1437.1 187.38 L1439.7 187.53 L1442.31 187.7 L1444.91 187.87 L1447.51 188.06 L1450.11 188.27 L1452.71 188.48 L1455.32 188.7 L1457.92 188.94 L1460.52 189.19 L1463.12 189.45 L1465.73 189.72 L1468.33 190.01 L1470.93 190.34 L1473.53 190.75 L1476.14 191.23 L1478.74 191.8 L1481.34 192.44 L1483.94 193.16 L1486.55 193.95 L1489.15 194.82 L1491.75 195.76 L1494.36 196.77 L1496.96 197.85 L1499.56 199.01 L1502.16 200.23 L1504.76 201.52 L1507.37 202.87 L1509.97 204.31 L1512.57 206.14 L1515.17 208.44 L1517.78 211.15 L1520.38 214.18 L1522.98 217.48 L1525.59 220.97 L1528.19 224.59 L1530.79 228.27 L1533.39 231.94 L1535.99 235.98 L1538.6 240.55 L1541.2 245.4 L1543.8 250.29 L1546.4 254.97 L1549.01 259.19 L1551.61 262.83 L1554.21 266.48 L1556.82 270.14 L1559.42 273.7 L1562.02 277.07 L1564.62 280.15 L1567.22 282.84 L1569.83 285.05 L1572.43 286.67 L1575.03 287.64 L1577.63 288.4 L1580.24 289.11 L1582.84 289.76 L1585.44 290.34 L1588.05 290.87 L1590.65 291.33 L1593.25 291.73 L1595.85 292.06 L1598.45 292.33 L1601.06 292.52 L1603.66 292.64 L1606.26 292.71 L1608.87 292.77 L1611.47 292.82 L1614.07 292.87 L1616.67 292.91 L1619.27 292.95 L1621.88 292.98 L1624.48 293.01 L1627.08 293.03 L1629.68 293.06 L1632.29 293.08 L1634.89 293.11 L1637.49 293.13 L1640.1 293.16 L1642.7 293.19 L1645.3 293.22" stroke="#0000ff" stroke-width="2.6" fill="none" stroke-linejoin="round" stroke-dasharray="3 4.2"/>
<path d="M1333 155.24V196.97M1327.7 155.24H1338.3M1327.7 196.97H1338.3" stroke="#000" stroke-width="1.7" fill="none"/>
<path d="M1333 166.36V180.27M1327.7 166.36H1338.3M1327.7 180.27H1338.3" stroke="#000" stroke-width="1.7" fill="none"/>
<path d="M1373.3 140.63V183.06M1368 140.63H1378.6M1368 183.06H1378.6" stroke="#000" stroke-width="1.7" fill="none"/>
<path d="M1373.3 164.97V213.66M1368 164.97H1378.6M1368 213.66H1378.6" stroke="#000" stroke-width="1.7" fill="none"/>
<path d="M1373.3 183.06V208.09M1368 183.06H1378.6M1368 208.09H1378.6" stroke="#000" stroke-width="1.7" fill="none"/>
<path d="M1414.24 131.59V176.1M1408.94 131.59H1419.54M1408.94 176.1H1419.54" stroke="#000" stroke-width="1.7" fill="none"/>
<path d="M1414.24 162.19V178.88M1408.94 162.19H1419.54M1408.94 178.88H1419.54" stroke="#000" stroke-width="1.7" fill="none"/>
<path d="M1509.3 127.41V176.1M1504 127.41H1514.6M1504 176.1H1514.6" stroke="#000" stroke-width="1.7" fill="none"/>
<path d="M1509.3 192.79V223.39M1504 192.79H1514.6M1504 223.39H1514.6" stroke="#000" stroke-width="1.7" fill="none"/>
<path d="M1509.3 178.88V220.61M1504 178.88H1514.6M1504 220.61H1514.6" stroke="#000" stroke-width="1.7" fill="none"/>
<path d="M1550.24 116.29V162.19M1544.94 116.29H1555.54M1544.94 162.19H1555.54" stroke="#000" stroke-width="1.7" fill="none"/>
<path d="M1550.24 167.75V190.01M1544.94 167.75H1555.54M1544.94 190.01H1555.54" stroke="#000" stroke-width="1.7" fill="none"/>
<path d="M1550.24 242.87V259.56M1544.94 242.87H1555.54M1544.94 259.56H1555.54" stroke="#000" stroke-width="1.7" fill="none"/>
<path d="M1550.24 251.21V276.95M1544.94 251.21H1555.54M1544.94 276.95H1555.54" stroke="#000" stroke-width="1.7" fill="none"/>
<path d="M1645.3 120.46V179.58M1640 120.46H1650.6M1640 179.58H1650.6" stroke="#000" stroke-width="1.7" fill="none"/>
<path d="M1645.3 187.23V203.92M1640 187.23H1650.6M1640 203.92H1650.6" stroke="#000" stroke-width="1.7" fill="none"/>
<path d="M1645.3 190.01V206.7M1640 190.01H1650.6M1640 206.7H1650.6" stroke="#000" stroke-width="1.7" fill="none"/>
<path d="M1645.3 247.74V269.99M1640 247.74H1650.6M1640 269.99H1650.6" stroke="#000" stroke-width="1.7" fill="none"/>
<path d="M1645.3 283.9V301.99M1640 283.9H1650.6M1640 301.99H1650.6" stroke="#000" stroke-width="1.7" fill="none"/>
<circle cx="1333" cy="173.32" r="4.3" fill="none" stroke="#000" stroke-width="2.2" />
<circle cx="1333" cy="176.1" r="4.3" fill="none" stroke="#000" stroke-width="2.2" />
<circle cx="1333" cy="177.49" r="4.3" fill="none" stroke="#000" stroke-width="2.2" />
<circle cx="1373.3" cy="162.19" r="4.3" fill="none" stroke="#000" stroke-width="2.2" />
<circle cx="1373.3" cy="169.14" r="4.3" fill="none" stroke="#000" stroke-width="2.2" />
<circle cx="1373.3" cy="173.32" r="4.3" fill="none" stroke="#000" stroke-width="2.2" />
<circle cx="1373.3" cy="178.88" r="4.3" fill="none" stroke="#000" stroke-width="2.2" />
<circle cx="1373.3" cy="196.97" r="4.3" fill="none" stroke="#000" stroke-width="2.2" />
<circle cx="1373.3" cy="198.36" r="4.3" fill="none" stroke="#000" stroke-width="2.2" />
<circle cx="1414.24" cy="155.24" r="4.3" fill="none" stroke="#000" stroke-width="2.2" />
<circle cx="1414.24" cy="164.97" r="4.3" fill="none" stroke="#000" stroke-width="2.2" />
<circle cx="1414.24" cy="171.93" r="4.3" fill="none" stroke="#000" stroke-width="2.2" />
<circle cx="1414.24" cy="176.1" r="4.3" fill="none" stroke="#000" stroke-width="2.2" />
<circle cx="1414.24" cy="185.84" r="4.3" fill="none" stroke="#000" stroke-width="2.2" />
<circle cx="1414.24" cy="208.09" r="4.3" fill="none" stroke="#000" stroke-width="2.2" />
<circle cx="1509.3" cy="151.06" r="4.3" fill="none" stroke="#000" stroke-width="2.2" />
<circle cx="1509.3" cy="171.93" r="4.3" fill="none" stroke="#000" stroke-width="2.2" />
<circle cx="1509.3" cy="183.06" r="4.3" fill="none" stroke="#000" stroke-width="2.2" />
<circle cx="1509.3" cy="185.84" r="4.3" fill="none" stroke="#000" stroke-width="2.2" />
<circle cx="1509.3" cy="204.62" r="4.3" fill="none" stroke="#000" stroke-width="2.2" />
<circle cx="1509.3" cy="206.7" r="4.3" fill="none" stroke="#000" stroke-width="2.2" />
<circle cx="1550.24" cy="138.54" r="4.3" fill="none" stroke="#000" stroke-width="2.2" />
<circle cx="1550.24" cy="177.49" r="4.3" fill="none" stroke="#000" stroke-width="2.2" />
<circle cx="1550.24" cy="185.84" r="4.3" fill="none" stroke="#000" stroke-width="2.2" />
<circle cx="1550.24" cy="188.62" r="4.3" fill="none" stroke="#000" stroke-width="2.2" />
<circle cx="1550.24" cy="251.21" r="4.3" fill="none" stroke="#000" stroke-width="2.2" />
<circle cx="1550.24" cy="263.73" r="4.3" fill="none" stroke="#000" stroke-width="2.2" />
<circle cx="1645.3" cy="149.67" r="4.3" fill="none" stroke="#000" stroke-width="2.2" />
<circle cx="1645.3" cy="192.79" r="4.3" fill="none" stroke="#000" stroke-width="2.2" />
<circle cx="1645.3" cy="195.57" r="4.3" fill="none" stroke="#000" stroke-width="2.2" />
<circle cx="1645.3" cy="199.75" r="4.3" fill="none" stroke="#000" stroke-width="2.2" />
<circle cx="1645.3" cy="258.86" r="4.3" fill="none" stroke="#000" stroke-width="2.2" />
<circle cx="1645.3" cy="293.22" r="4.3" fill="none" stroke="#000" stroke-width="2.2" />
<line x1="1350" y1="6.5" x2="1374" y2="6.5" stroke="#000" stroke-width="1.3" />
<circle cx="1362" cy="6.5" r="4.3" fill="none" stroke="#000" stroke-width="2.2" />
<text x="1385.8" y="12.5" font-size="16.6" stroke="#000" stroke-width="0.32">CAL51</text>
<line x1="1490" y1="9.8" x2="1512" y2="9.8" stroke="#000" stroke-width="2.8" stroke-dasharray="3 3.4"/>
<circle cx="1501" cy="9.8" r="4.3" fill="none" stroke="#000" stroke-width="2.2" />
<text x="1526.3" y="14.9" font-size="16.6" stroke="#000" stroke-width="0.32">MCF12A</text>
<line x1="1350" y1="35.7" x2="1374" y2="35.7" stroke="#000" stroke-width="1.6" />
<circle cx="1362" cy="35.7" r="4.3" fill="none" stroke="#000" stroke-width="2.2" />
<text x="1385.8" y="41.2" font-size="16.6" stroke="#000" stroke-width="0.32">MCF10A</text>
<line x1="1489" y1="38.2" x2="1513" y2="38.2" stroke="#000" stroke-width="2.6" />
<circle cx="1501" cy="38.2" r="4.3" fill="none" stroke="#000" stroke-width="2.2" />
<text x="1526.3" y="44.2" font-size="16.6" stroke="#000" stroke-width="0.32">HMLE</text>
<line x1="1350" y1="72" x2="1374" y2="72" stroke="#0000ff" stroke-width="1.7" />
<circle cx="1362" cy="72" r="4.3" fill="none" stroke="#000" stroke-width="2.2" />
<text x="1385.8" y="77.6" font-size="16.6" stroke="#000" stroke-width="0.32" textLength="326" lengthAdjust="spacingAndGlyphs">COV362 (<tspan font-style="italic">BRCA1</tspan> c.2611fs + c.4095+1G&gt;T )</text>
<line x1="1350" y1="101" x2="1374" y2="101" stroke="#0000ff" stroke-width="2.6" stroke-dasharray="3 4"/>
<circle cx="1362" cy="101" r="4.3" fill="none" stroke="#000" stroke-width="2.2" />
<text x="1385.8" y="106.6" font-size="16.6" stroke="#000" stroke-width="0.32" textLength="277" lengthAdjust="spacingAndGlyphs">MDAMB436 (<tspan font-style="italic">BRCA1</tspan> c.5396 + 1G&gt;A)</text>
</g>
<g id="panel-d">
<text x="-1.5" y="439.5" font-size="42.5" stroke="#000" stroke-width="0.3" font-weight="bold" letter-spacing="1.2">d.</text>
<text x="15.6" y="471.6" font-size="25.8" stroke="#000" stroke-width="0.35">Patient</text>
<line x1="99" y1="462.3" x2="136.5" y2="462.3" stroke="#000" stroke-width="3.2" /><path d="M148.5 462.3L130.5 453V471.6Z" fill="#000"/>
<text x="153.3" y="471.9" font-size="25.8" stroke="#000" stroke-width="0.35">Tumour</text>
<line x1="249" y1="462.3" x2="287.5" y2="462.3" stroke="#000" stroke-width="3.2" /><path d="M299.5 462.3L281.5 453V471.6Z" fill="#000"/>
<text x="314.8" y="470.3" font-size="25.8" stroke="#000" stroke-width="0.35">Organoid</text>
<g transform="translate(10 490.58) scale(0.07746)" fill="none" stroke="#828282" stroke-width="29" stroke-linejoin="round" stroke-linecap="round"><path d="M610 150 C560 148 520 165 512 215 C500 250 508 300 535 330 C550 370 560 420 530 445 C490 465 450 478 415 490 C365 515 340 560 338 640 C330 730 312 850 302 940 C295 1030 290 1120 286 1210 C290 1280 330 1330 370 1338 C390 1336 410 1330 428 1335 C440 1440 460 1540 472 1640 C465 1700 462 1760 468 1810 C480 1880 505 1940 512 1995 C515 2040 490 2075 462 2105 C445 2135 465 2165 500 2168 C530 2172 565 2172 582 2150 C595 2110 592 2050 585 2000 C580 1900 590 1800 585 1720 C570 1640 570 1600 578 1540 C588 1450 598 1360 605 1280 L610 1280"/><path d="M424 772 C428 950 432 1150 430 1335 M424 772 C410 900 385 1010 362 1120 C362 1150 375 1175 392 1195"/><path d="M340 1192 C370 1185 410 1200 430 1205 L430 1325 C400 1320 370 1300 352 1265 Z" fill="#828282" stroke-width="8"/><path d="M610 150 C660 148 700 165 708 215 C720 250 712 300 685 330 C670 370 660 420 690 445 C730 465 770 478 805 490 C855 515 880 560 882 640 C890 730 908 850 918 940 C925 1030 930 1120 934 1210 C930 1280 890 1330 850 1338 C830 1336 810 1330 792 1335 C780 1440 760 1540 748 1640 C755 1700 758 1760 752 1810 C740 1880 715 1940 708 1995 C705 2040 730 2075 758 2105 C775 2135 755 2165 720 2168 C690 2172 655 2172 638 2150 C625 2110 628 2050 635 2000 C640 1900 630 1800 635 1720 C650 1640 650 1600 642 1540 C632 1450 622 1360 615 1280 L610 1280"/><path d="M796 772 C792 950 788 1150 790 1335 M796 772 C810 900 835 1010 858 1120 C858 1150 845 1175 828 1195"/><path d="M880 1192 C850 1185 810 1200 790 1205 L790 1325 C820 1320 850 1300 868 1265 Z" fill="#828282" stroke-width="8"/></g>
<path d="M110 536.8 C150 536.5 183 545 191 557" stroke="#000" stroke-width="3.2" fill="none" />
<path d="M196 575 L181.5 559.5 L200 553.5Z" fill="#000"/>
<path d="M200 664.8 C255 665 318 661 337 650.5" stroke="#000" stroke-width="3.2" fill="none" />
<path d="M349 636.5 L329.5 645 L344.5 657Z" fill="#000"/>
<circle cx="205.91" cy="629.78" r="8.32" fill="#e0e0e0" stroke="none" stroke-width="0" />
<circle cx="183.16" cy="597.87" r="7.49" fill="#808080" stroke="none" stroke-width="0" />
<circle cx="177.61" cy="611.75" r="8.32" fill="#c8c8c8" stroke="none" stroke-width="0" />
<circle cx="187.32" cy="622.84" r="8.32" fill="#555555" stroke="none" stroke-width="0" />
<circle cx="214.51" cy="612.58" r="8.32" fill="#5a5a5a" stroke="none" stroke-width="0" />
<circle cx="204.8" cy="601.2" r="6.66" fill="#0d1c1c" stroke="none" stroke-width="0" />
<circle cx="195.09" cy="594.54" r="8.88" fill="#000000" stroke="none" stroke-width="0" />
<circle cx="203.97" cy="612.58" r="8.6" fill="#232323" stroke="none" stroke-width="0" />
<circle cx="190.93" cy="608.97" r="9.16" fill="#dcdcdc" stroke="none" stroke-width="0" />
<circle cx="200.36" cy="621.46" r="9.16" fill="#000000" stroke="none" stroke-width="0" />
<path d="M322.6 581.5 V601.5 A41.2 8 0 0 0 405 601.5 V581.5 A41.2 7.5 0 0 1 322.6 581.5Z" fill="#f1f1f1" stroke="#d9d9d9" stroke-width="1.3"/>
<path d="M324.1 593.5 A39.7 6.5 0 0 1 403.5 593.5 V601 A39.7 7.5 0 0 1 324.1 601Z" fill="#cfcfcf"/>
<ellipse cx="363.8" cy="581.5" rx="41.2" ry="7.5" fill="none" stroke="#dedede" stroke-width="1.6"/>
<circle cx="364.1" cy="584.5" r="6.2" fill="#bdbdbd" stroke="none" stroke-width="0" />
<circle cx="374.3" cy="589.5" r="6" fill="#8c8c8c" stroke="none" stroke-width="0" />
<circle cx="358.3" cy="593.5" r="6.1" fill="#000" stroke="none" stroke-width="0" />
<line x1="421.7" y1="594" x2="461" y2="594" stroke="#000" stroke-width="3.2" /><path d="M473 594L455 584.7V603.3Z" fill="#000"/>
<g transform="translate(10 672.58) scale(0.07746)" fill="none" stroke="#828282" stroke-width="29" stroke-linejoin="round" stroke-linecap="round"><path d="M610 150 C560 148 520 165 512 215 C500 250 508 300 535 330 C550 370 560 420 530 445 C490 465 450 478 415 490 C365 515 340 560 338 640 C330 730 312 850 302 940 C295 1030 290 1120 286 1210 C290 1280 330 1330 370 1338 C390 1336 410 1330 428 1335 C440 1440 460 1540 472 1640 C465 1700 462 1760 468 1810 C480 1880 505 1940 512 1995 C515 2040 490 2075 462 2105 C445 2135 465 2165 500 2168 C530 2172 565 2172 582 2150 C595 2110 592 2050 585 2000 C580 1900 590 1800 585 1720 C570 1640 570 1600 578 1540 C588 1450 598 1360 605 1280 L610 1280"/><path d="M424 772 C428 950 432 1150 430 1335 M424 772 C410 900 385 1010 362 1120 C362 1150 375 1175 392 1195"/><path d="M340 1192 C370 1185 410 1200 430 1205 L430 1325 C400 1320 370 1300 352 1265 Z" fill="#828282" stroke-width="8"/><path d="M610 150 C660 148 700 165 708 215 C720 250 712 300 685 330 C670 370 660 420 690 445 C730 465 770 478 805 490 C855 515 880 560 882 640 C890 730 908 850 918 940 C925 1030 930 1120 934 1210 C930 1280 890 1330 850 1338 C830 1336 810 1330 792 1335 C780 1440 760 1540 748 1640 C755 1700 758 1760 752 1810 C740 1880 715 1940 708 1995 C705 2040 730 2075 758 2105 C775 2135 755 2165 720 2168 C690 2172 655 2172 638 2150 C625 2110 628 2050 635 2000 C640 1900 630 1800 635 1720 C650 1640 650 1600 642 1540 C632 1450 622 1360 615 1280 L610 1280"/><path d="M796 772 C792 950 788 1150 790 1335 M796 772 C810 900 835 1010 858 1120 C858 1150 845 1175 828 1195"/><path d="M880 1192 C850 1185 810 1200 790 1205 L790 1325 C820 1320 850 1300 868 1265 Z" fill="#828282" stroke-width="8"/></g>
<path d="M110 718.8 C150 718.5 183 727 191 739" stroke="#000" stroke-width="3.2" fill="none" />
<path d="M196 757 L181.5 741.5 L200 735.5Z" fill="#000"/>
<path d="M200 846.8 C255 847 318 843 337 832.5" stroke="#000" stroke-width="3.2" fill="none" />
<path d="M349 818.5 L329.5 827 L344.5 839Z" fill="#000"/>
<circle cx="205.91" cy="811.28" r="8.32" fill="#3a9aa0" stroke="none" stroke-width="0" />
<circle cx="183.16" cy="779.37" r="7.49" fill="#1030e8" stroke="none" stroke-width="0" />
<circle cx="177.61" cy="793.25" r="8.32" fill="#b8dce0" stroke="none" stroke-width="0" />
<circle cx="187.32" cy="804.34" r="8.32" fill="#2a2a9a" stroke="none" stroke-width="0" />
<circle cx="214.51" cy="794.08" r="8.32" fill="#34349c" stroke="none" stroke-width="0" />
<circle cx="204.8" cy="782.7" r="6.66" fill="#1030e8" stroke="none" stroke-width="0" />
<circle cx="195.09" cy="776.04" r="8.88" fill="#b4dcde" stroke="none" stroke-width="0" />
<circle cx="203.97" cy="794.08" r="8.6" fill="#9a9ae0" stroke="none" stroke-width="0" />
<circle cx="190.93" cy="790.47" r="9.16" fill="#3a9090" stroke="none" stroke-width="0" />
<circle cx="200.36" cy="802.96" r="9.16" fill="#1030f0" stroke="none" stroke-width="0" />
<path d="M322.6 778.8 V798.8 A41.2 8 0 0 0 405 798.8 V778.8 A41.2 7.5 0 0 1 322.6 778.8Z" fill="#f1f1f1" stroke="#d9d9d9" stroke-width="1.3"/>
<path d="M324.1 790.8 A39.7 6.5 0 0 1 403.5 790.8 V798.3 A39.7 7.5 0 0 1 324.1 798.3Z" fill="#cfcfcf"/>
<ellipse cx="363.8" cy="778.8" rx="41.2" ry="7.5" fill="none" stroke="#dedede" stroke-width="1.6"/>
<circle cx="364.1" cy="781.8" r="6.2" fill="#b8e0e4" stroke="none" stroke-width="0" />
<circle cx="374.3" cy="786.8" r="6" fill="#3a9a9a" stroke="none" stroke-width="0" />
<circle cx="358.3" cy="790.8" r="6.1" fill="#1030f0" stroke="none" stroke-width="0" />
<line x1="421.7" y1="787" x2="461" y2="787" stroke="#000" stroke-width="3.2" /><path d="M473 787L455 777.7V796.3Z" fill="#000"/>
<text x="588.6" y="571.6" font-size="25.8" stroke="#000" stroke-width="0.3" text-anchor="middle" font-weight="bold">KCL008PO</text>
<text x="601.5" y="608.6" font-size="25.8" stroke="#000" stroke-width="0.35" text-anchor="middle"><tspan font-style="italic">BRCA1</tspan> wild-type</text>
<text x="602.8" y="753.7" font-size="25.8" stroke="#000" stroke-width="0.3" text-anchor="middle" font-weight="bold">KCL014BCPO</text>
<text x="604.7" y="787.3" font-size="25.8" stroke="#000" stroke-width="0.35" text-anchor="middle">g<tspan font-style="italic">BRCA1</tspan> mutant:</text>
<text x="604.5" y="818" font-size="25.8" stroke="#000" stroke-width="0.35" text-anchor="middle" textLength="249" lengthAdjust="spacingAndGlyphs">c.3607C&gt;T; p.R1203*</text>
</g>
<g id="panel-e">
<text x="754.5" y="441" font-size="42.5" stroke="#000" stroke-width="0.3" font-weight="bold" letter-spacing="1.2">e.</text>
<line x1="841.5" y1="495.7" x2="841.5" y2="815.6" stroke="#000" stroke-width="2.2" />
<line x1="840.4" y1="814.5" x2="1158.7" y2="814.5" stroke="#000" stroke-width="2.2" />
<line x1="838.9" y1="814.5" x2="841.5" y2="814.5" stroke="#000" stroke-width="1.3" />
<text x="838.3" y="820.8" font-size="17.2" stroke="#000" stroke-width="0.33" text-anchor="end">0.0</text>
<line x1="838.9" y1="761.5" x2="841.5" y2="761.5" stroke="#000" stroke-width="1.3" />
<text x="838.3" y="767.8" font-size="17.2" stroke="#000" stroke-width="0.33" text-anchor="end">0.2</text>
<line x1="838.9" y1="708.5" x2="841.5" y2="708.5" stroke="#000" stroke-width="1.3" />
<text x="838.3" y="714.8" font-size="17.2" stroke="#000" stroke-width="0.33" text-anchor="end">0.4</text>
<line x1="838.9" y1="655.5" x2="841.5" y2="655.5" stroke="#000" stroke-width="1.3" />
<text x="838.3" y="661.8" font-size="17.2" stroke="#000" stroke-width="0.33" text-anchor="end">0.6</text>
<line x1="838.9" y1="602.5" x2="841.5" y2="602.5" stroke="#000" stroke-width="1.3" />
<text x="838.3" y="608.8" font-size="17.2" stroke="#000" stroke-width="0.33" text-anchor="end">0.8</text>
<line x1="838.9" y1="549.5" x2="841.5" y2="549.5" stroke="#000" stroke-width="1.3" />
<text x="838.3" y="555.8" font-size="17.2" stroke="#000" stroke-width="0.33" text-anchor="end">1.0</text>
<line x1="838.9" y1="496.5" x2="841.5" y2="496.5" stroke="#000" stroke-width="1.3" />
<text x="838.3" y="502.8" font-size="17.2" stroke="#000" stroke-width="0.33" text-anchor="end">1.2</text>
<line x1="884.84" y1="814.5" x2="884.84" y2="818.5" stroke="#000" stroke-width="1.5" />
<line x1="906.97" y1="814.5" x2="906.97" y2="818.5" stroke="#000" stroke-width="1.5" />
<line x1="922.68" y1="814.5" x2="922.68" y2="818.5" stroke="#000" stroke-width="1.5" />
<line x1="934.86" y1="814.5" x2="934.86" y2="818.5" stroke="#000" stroke-width="1.5" />
<line x1="944.81" y1="814.5" x2="944.81" y2="818.5" stroke="#000" stroke-width="1.5" />
<line x1="953.23" y1="814.5" x2="953.23" y2="818.5" stroke="#000" stroke-width="1.5" />
<line x1="960.52" y1="814.5" x2="960.52" y2="818.5" stroke="#000" stroke-width="1.5" />
<line x1="966.95" y1="814.5" x2="966.95" y2="818.5" stroke="#000" stroke-width="1.5" />
<line x1="972.7" y1="814.5" x2="972.7" y2="821" stroke="#000" stroke-width="1.8" />
<line x1="1010.54" y1="814.5" x2="1010.54" y2="818.5" stroke="#000" stroke-width="1.5" />
<line x1="1032.67" y1="814.5" x2="1032.67" y2="818.5" stroke="#000" stroke-width="1.5" />
<line x1="1048.38" y1="814.5" x2="1048.38" y2="818.5" stroke="#000" stroke-width="1.5" />
<line x1="1060.56" y1="814.5" x2="1060.56" y2="818.5" stroke="#000" stroke-width="1.5" />
<line x1="1070.51" y1="814.5" x2="1070.51" y2="818.5" stroke="#000" stroke-width="1.5" />
<line x1="1078.93" y1="814.5" x2="1078.93" y2="818.5" stroke="#000" stroke-width="1.5" />
<line x1="1086.22" y1="814.5" x2="1086.22" y2="818.5" stroke="#000" stroke-width="1.5" />
<line x1="1092.65" y1="814.5" x2="1092.65" y2="818.5" stroke="#000" stroke-width="1.5" />
<line x1="1098.4" y1="814.5" x2="1098.4" y2="821" stroke="#000" stroke-width="1.8" />
<line x1="1136.24" y1="814.5" x2="1136.24" y2="818.5" stroke="#000" stroke-width="1.5" />
<line x1="1158.37" y1="814.5" x2="1158.37" y2="818.5" stroke="#000" stroke-width="1.5" />
<line x1="847.2" y1="814.5" x2="847.2" y2="821" stroke="#000" stroke-width="1.8" />
<text x="847.2" y="841" font-size="17.2" stroke="#000" stroke-width="0.29" text-anchor="middle" font-weight="bold">0</text>
<text x="972.7" y="841" font-size="17.2" stroke="#000" stroke-width="0.29" text-anchor="middle" font-weight="bold">1</text>
<text x="1098.4" y="841" font-size="17.2" stroke="#000" stroke-width="0.29" text-anchor="middle" font-weight="bold">10</text>
<text x="1001" y="873" font-size="21.3" stroke="#000" stroke-width="0.35" text-anchor="middle" textLength="126" lengthAdjust="spacingAndGlyphs">[ART558] μM</text>
<text x="0" y="0" font-size="24.2" stroke="#000" stroke-width="0.35" text-anchor="middle" transform="translate(804.5 664.8) rotate(-90)">Surviving fraction</text>
<path d="M847.2 553.21 L849.13 553.21 L851.05 553.21 L852.98 553.21 L854.91 553.21 L856.83 553.21 L858.76 553.21 L860.69 553.21 L862.62 553.21 L864.54 553.21 L866.47 553.21 L868.4 553.21 L870.32 553.21 L872.25 553.21 L874.18 553.21 L876.1 553.21 L878.03 553.21 L879.96 553.21 L881.88 553.21 L883.81 553.21 L885.74 553.21 L887.67 553.21 L889.59 553.21 L891.52 553.21 L893.45 553.21 L895.37 553.21 L897.3 553.21 L899.23 553.21 L901.15 553.21 L903.08 553.21 L905.01 553.21 L906.93 553.21 L908.86 553.21 L910.79 553.21 L912.72 553.21 L914.64 553.21 L916.57 553.21 L918.5 553.21 L920.42 553.21 L922.35 553.21 L924.28 553.21 L926.2 553.21 L928.13 553.21 L930.06 553.21 L931.98 553.21 L933.91 553.21 L935.84 553.21 L937.77 553.21 L939.69 553.21 L941.62 553.21 L943.55 553.21 L945.47 553.21 L947.4 553.21 L949.33 553.21 L951.25 553.21 L953.18 553.21 L955.11 553.21 L957.03 553.21 L958.96 553.21 L960.89 553.21 L962.82 553.21 L964.74 553.21 L966.67 553.21 L968.6 553.21 L970.52 553.21 L972.45 553.21 L974.38 553.21 L976.3 553.21 L978.23 553.21 L980.16 553.21 L982.09 553.21 L984.01 553.21 L985.94 553.21 L987.87 553.21 L989.79 553.21 L991.72 553.21 L993.65 553.21 L995.57 553.21 L997.5 553.21 L999.43 553.21 L1001.35 553.21 L1003.28 553.21 L1005.21 553.21 L1007.14 553.21 L1009.06 553.21 L1010.99 553.21 L1012.92 553.21 L1014.84 553.21 L1016.77 553.21 L1018.7 553.21 L1020.62 553.21 L1022.55 553.21 L1024.48 553.21 L1026.4 553.21 L1028.33 553.21 L1030.26 553.21 L1032.19 553.21 L1034.11 553.2 L1036.04 553.15 L1037.97 553.07 L1039.89 552.95 L1041.82 552.81 L1043.75 552.64 L1045.67 552.45 L1047.6 552.24 L1049.53 551.97 L1051.45 551.5 L1053.38 550.86 L1055.31 550.13 L1057.24 549.37 L1059.16 548.64 L1061.09 548.01 L1063.02 547.35 L1064.94 546.66 L1066.87 546.03 L1068.8 545.53 L1070.72 545.24 L1072.65 545.05 L1074.58 544.9 L1076.5 544.79 L1078.43 544.73 L1080.36 544.73 L1082.29 544.73 L1084.21 544.73 L1086.14 544.73 L1088.07 544.73 L1089.99 544.73 L1091.92 544.73 L1093.85 544.73 L1095.77 544.73 L1097.7 544.73 L1099.63 544.73 L1101.55 544.73 L1103.48 544.73 L1105.41 544.73 L1107.34 544.73 L1109.26 544.73 L1111.19 544.73 L1113.12 544.73 L1115.04 544.73 L1116.97 544.73 L1118.9 544.73 L1120.82 544.73 L1122.75 544.73 L1124.68 544.73 L1126.6 544.73 L1128.53 544.73 L1130.46 544.73 L1132.39 544.73 L1134.31 544.73 L1136.24 544.73" stroke="#000" stroke-width="1.9" fill="none" stroke-linejoin="round" />
<path d="M847.2 547.54 L849.13 547.68 L851.05 547.82 L852.98 547.96 L854.91 548.1 L856.83 548.23 L858.76 548.36 L860.69 548.49 L862.62 548.62 L864.54 548.75 L866.47 548.88 L868.4 549 L870.32 549.14 L872.25 549.27 L874.18 549.4 L876.1 549.54 L878.03 549.67 L879.96 549.82 L881.88 549.96 L883.81 550.11 L885.74 550.26 L887.67 550.42 L889.59 550.58 L891.52 550.75 L893.45 550.92 L895.37 551.1 L897.3 551.29 L899.23 551.48 L901.15 551.67 L903.08 551.86 L905.01 552.06 L906.93 552.25 L908.86 552.45 L910.79 552.66 L912.72 552.88 L914.64 553.11 L916.57 553.35 L918.5 553.6 L920.42 553.87 L922.35 554.16 L924.28 554.46 L926.2 554.79 L928.13 555.13 L930.06 555.5 L931.98 555.9 L933.91 556.32 L935.84 556.78 L937.77 557.34 L939.69 558.03 L941.62 558.85 L943.55 559.79 L945.47 560.83 L947.4 561.97 L949.33 563.2 L951.25 564.52 L953.18 565.9 L955.11 567.35 L957.03 568.86 L958.96 570.4 L960.89 571.99 L962.82 573.74 L964.74 575.74 L966.67 577.96 L968.6 580.37 L970.52 582.96 L972.45 585.7 L974.38 588.68 L976.3 592.04 L978.23 595.7 L980.16 599.56 L982.09 603.54 L984.01 607.63 L985.94 612.01 L987.87 616.59 L989.79 621.24 L991.72 625.84 L993.65 630.36 L995.57 634.91 L997.5 639.45 L999.43 643.95 L1001.35 648.36 L1003.28 652.74 L1005.21 657.17 L1007.14 661.51 L1009.06 665.61 L1010.99 669.31 L1012.92 672.72 L1014.84 676.03 L1016.77 679.08 L1018.7 681.71 L1020.62 683.77 L1022.55 685.44 L1024.48 686.98 L1026.4 688.36 L1028.33 689.56 L1030.26 690.56 L1032.19 691.32 L1034.11 691.85 L1036.04 692.32 L1037.97 692.75 L1039.89 693.14 L1041.82 693.48 L1043.75 693.75 L1045.67 693.96 L1047.6 694.09 L1049.53 694.15 L1051.45 694.18 L1053.38 694.21 L1055.31 694.24 L1057.24 694.27 L1059.16 694.29 L1061.09 694.31 L1063.02 694.33 L1064.94 694.35 L1066.87 694.37 L1068.8 694.39 L1070.72 694.4 L1072.65 694.41 L1074.58 694.42 L1076.5 694.43 L1078.43 694.44 L1080.36 694.44 L1082.29 694.45 L1084.21 694.45 L1086.14 694.45 L1088.07 694.45 L1089.99 694.45 L1091.92 694.45 L1093.85 694.45 L1095.77 694.45 L1097.7 694.45 L1099.63 694.45 L1101.55 694.45 L1103.48 694.45 L1105.41 694.45 L1107.34 694.45 L1109.26 694.45 L1111.19 694.45 L1113.12 694.45 L1115.04 694.45 L1116.97 694.45 L1118.9 694.45 L1120.82 694.45 L1122.75 694.45 L1124.68 694.45 L1126.6 694.45 L1128.53 694.45 L1130.46 694.45 L1132.39 694.45 L1134.31 694.45 L1136.24 694.45" stroke="#0000ff" stroke-width="2.1" fill="none" stroke-linejoin="round" />
<path d="M847.2 534.92V565.4M843.4 534.92H851M843.4 565.4H851" stroke="#333333" stroke-width="1.1" fill="none"/>
<path d="M934.86 512.4V557.45M931.06 512.4H938.66M931.06 557.45H938.66" stroke="#333333" stroke-width="1.1" fill="none"/>
<path d="M972.7 561.42V582.62M968.9 561.42H976.5M968.9 582.62H976.5" stroke="#333333" stroke-width="1.1" fill="none"/>
<path d="M1060.56 507.1V587.92M1056.76 507.1H1064.36M1056.76 587.92H1064.36" stroke="#333333" stroke-width="1.1" fill="none"/>
<path d="M1098.4 508.43V570.7M1094.6 508.43H1102.2M1094.6 570.7H1102.2" stroke="#333333" stroke-width="1.1" fill="none"/>
<path d="M1136.24 508.43V593.23M1132.44 508.43H1140.04M1132.44 593.23H1140.04" stroke="#333333" stroke-width="1.1" fill="none"/>
<path d="M847.2 529.62V562.75M843.4 529.62H851M843.4 562.75H851" stroke="#3333ff" stroke-width="1.1" fill="none"/>
<path d="M934.86 546.32V572.02M931.06 546.32H938.66M931.06 572.02H938.66" stroke="#3333ff" stroke-width="1.1" fill="none"/>
<path d="M972.7 561.42V611.77M968.9 561.42H976.5M968.9 611.77H976.5" stroke="#3333ff" stroke-width="1.1" fill="none"/>
<path d="M1060.56 667.42V674.58M1056.76 667.42H1064.36M1056.76 674.58H1064.36" stroke="#3333ff" stroke-width="1.1" fill="none"/>
<path d="M1098.4 678.56V724.93M1094.6 678.56H1102.2M1094.6 724.93H1102.2" stroke="#3333ff" stroke-width="1.1" fill="none"/>
<path d="M1136.24 680.14V728.38M1132.44 680.14H1140.04M1132.44 728.38H1140.04" stroke="#3333ff" stroke-width="1.1" fill="none"/>
<path d="M847.2 546.93L850.32 550.83L847.2 554.73L844.08 550.83Z" fill="#000"/>
<path d="M934.86 529.7L937.98 533.6L934.86 537.5L931.74 533.6Z" fill="#000"/>
<path d="M972.7 569.45L975.82 573.35L972.7 577.25L969.58 573.35Z" fill="#000"/>
<path d="M1060.56 544.27L1063.68 548.17L1060.56 552.07L1057.44 548.17Z" fill="#000"/>
<path d="M1098.4 535L1101.52 538.9L1098.4 542.8L1095.28 538.9Z" fill="#000"/>
<path d="M1136.24 546.93L1139.36 550.83L1136.24 554.73L1133.12 550.83Z" fill="#000"/>
<path d="M847.2 549.13L851.8 541.08L842.6 541.08Z" fill="#0000ff"/>
<path d="M934.86 562.38L939.46 554.32L930.26 554.32Z" fill="#0000ff"/>
<path d="M972.7 590.2L977.3 582.15L968.1 582.15Z" fill="#0000ff"/>
<path d="M1060.56 673.68L1065.16 665.62L1055.96 665.62Z" fill="#0000ff"/>
<path d="M1098.4 705.48L1103 697.42L1093.8 697.42Z" fill="#0000ff"/>
<path d="M1136.24 708.12L1140.84 700.07L1131.64 700.07Z" fill="#0000ff"/>
<line x1="847" y1="439.7" x2="871.8" y2="439.7" stroke="#000" stroke-width="1.8" />
<path d="M859.4 435.8L862.52 439.7L859.4 443.6L856.28 439.7Z" fill="#000"/>
<line x1="847" y1="471" x2="871.8" y2="471" stroke="#0000ff" stroke-width="2.1" />
<path d="M859.4 475.1L864 467.05L854.8 467.05Z" fill="#0000ff"/>
<text x="884" y="449.8" font-size="20.2" stroke="#000" stroke-width="0.35">KCL008PO (<tspan font-style="italic">BRCA1</tspan><tspan font-style="italic" font-size="14.4" dy="-8.4">Wild-type)</tspan></text>
<text x="884" y="482" font-size="20.2" stroke="#000" stroke-width="0.35">KCL014BCPO (<tspan font-style="italic">BRCA1</tspan><tspan font-size="14.4" dy="-8.4">mutant</tspan><tspan dy="8.4">)</tspan></text>
</g>
<g id="panel-f">
<text x="1290.5" y="441" font-size="42.5" stroke="#000" stroke-width="0.3" font-weight="bold" letter-spacing="1.2">f.</text>
<line x1="1328.3" y1="492.16" x2="1328.3" y2="814.1" stroke="#000" stroke-width="2.2" />
<line x1="1327.2" y1="813" x2="1649.8" y2="813" stroke="#000" stroke-width="2.2" />
<line x1="1325.7" y1="813" x2="1328.3" y2="813" stroke="#000" stroke-width="1.3" />
<text x="1325" y="819.3" font-size="17.2" stroke="#000" stroke-width="0.33" text-anchor="end">0.0</text>
<line x1="1325.7" y1="759.66" x2="1328.3" y2="759.66" stroke="#000" stroke-width="1.3" />
<text x="1325" y="765.96" font-size="17.2" stroke="#000" stroke-width="0.33" text-anchor="end">0.2</text>
<line x1="1325.7" y1="706.32" x2="1328.3" y2="706.32" stroke="#000" stroke-width="1.3" />
<text x="1325" y="712.62" font-size="17.2" stroke="#000" stroke-width="0.33" text-anchor="end">0.4</text>
<line x1="1325.7" y1="652.98" x2="1328.3" y2="652.98" stroke="#000" stroke-width="1.3" />
<text x="1325" y="659.28" font-size="17.2" stroke="#000" stroke-width="0.33" text-anchor="end">0.6</text>
<line x1="1325.7" y1="599.64" x2="1328.3" y2="599.64" stroke="#000" stroke-width="1.3" />
<text x="1325" y="605.94" font-size="17.2" stroke="#000" stroke-width="0.33" text-anchor="end">0.8</text>
<line x1="1325.7" y1="546.3" x2="1328.3" y2="546.3" stroke="#000" stroke-width="1.3" />
<text x="1325" y="552.6" font-size="17.2" stroke="#000" stroke-width="0.33" text-anchor="end">1.0</text>
<line x1="1325.7" y1="492.96" x2="1328.3" y2="492.96" stroke="#000" stroke-width="1.3" />
<text x="1325" y="499.26" font-size="17.2" stroke="#000" stroke-width="0.33" text-anchor="end">1.2</text>
<line x1="1348.43" y1="813" x2="1348.43" y2="817" stroke="#000" stroke-width="1.5" />
<line x1="1356.42" y1="813" x2="1356.42" y2="817" stroke="#000" stroke-width="1.5" />
<line x1="1363.34" y1="813" x2="1363.34" y2="817" stroke="#000" stroke-width="1.5" />
<line x1="1369.44" y1="813" x2="1369.44" y2="817" stroke="#000" stroke-width="1.5" />
<line x1="1374.9" y1="813" x2="1374.9" y2="819.5" stroke="#000" stroke-width="1.8" />
<line x1="1410.81" y1="813" x2="1410.81" y2="817" stroke="#000" stroke-width="1.5" />
<line x1="1431.82" y1="813" x2="1431.82" y2="817" stroke="#000" stroke-width="1.5" />
<line x1="1446.73" y1="813" x2="1446.73" y2="817" stroke="#000" stroke-width="1.5" />
<line x1="1458.29" y1="813" x2="1458.29" y2="817" stroke="#000" stroke-width="1.5" />
<line x1="1467.73" y1="813" x2="1467.73" y2="817" stroke="#000" stroke-width="1.5" />
<line x1="1475.72" y1="813" x2="1475.72" y2="817" stroke="#000" stroke-width="1.5" />
<line x1="1482.64" y1="813" x2="1482.64" y2="817" stroke="#000" stroke-width="1.5" />
<line x1="1488.74" y1="813" x2="1488.74" y2="817" stroke="#000" stroke-width="1.5" />
<line x1="1494.2" y1="813" x2="1494.2" y2="819.5" stroke="#000" stroke-width="1.8" />
<line x1="1530.11" y1="813" x2="1530.11" y2="817" stroke="#000" stroke-width="1.5" />
<line x1="1551.12" y1="813" x2="1551.12" y2="817" stroke="#000" stroke-width="1.5" />
<line x1="1566.03" y1="813" x2="1566.03" y2="817" stroke="#000" stroke-width="1.5" />
<line x1="1577.59" y1="813" x2="1577.59" y2="817" stroke="#000" stroke-width="1.5" />
<line x1="1587.03" y1="813" x2="1587.03" y2="817" stroke="#000" stroke-width="1.5" />
<line x1="1595.02" y1="813" x2="1595.02" y2="817" stroke="#000" stroke-width="1.5" />
<line x1="1601.94" y1="813" x2="1601.94" y2="817" stroke="#000" stroke-width="1.5" />
<line x1="1608.04" y1="813" x2="1608.04" y2="817" stroke="#000" stroke-width="1.5" />
<line x1="1613.5" y1="813" x2="1613.5" y2="819.5" stroke="#000" stroke-width="1.8" />
<line x1="1649.41" y1="813" x2="1649.41" y2="817" stroke="#000" stroke-width="1.5" />
<line x1="1339.4" y1="813" x2="1339.4" y2="819.5" stroke="#000" stroke-width="1.8" />
<text x="1339.4" y="841" font-size="17.2" stroke="#000" stroke-width="0.33" text-anchor="middle">0</text>
<text x="1374.7" y="841" font-size="17.2" stroke="#000" stroke-width="0.33" text-anchor="middle">0.1</text>
<text x="1494.2" y="841" font-size="17.2" stroke="#000" stroke-width="0.33" text-anchor="middle">1</text>
<text x="1613.3" y="841" font-size="17.2" stroke="#000" stroke-width="0.33" text-anchor="middle">10</text>
<text x="1488.8" y="872.3" font-size="21.3" stroke="#000" stroke-width="0.35" text-anchor="middle" textLength="129" lengthAdjust="spacingAndGlyphs">[Olaparib] μM</text>
<text x="0" y="0" font-size="24.5" stroke="#000" stroke-width="0.35" text-anchor="middle" transform="translate(1292.5 661.7) rotate(-90)">Surviving Fraction</text>
<path d="M1339.4 567.1 L1341.23 567.1 L1343.05 567.1 L1344.88 567.1 L1346.71 567.1 L1348.54 567.1 L1350.36 567.1 L1352.19 567.1 L1354.02 567.1 L1355.85 567.1 L1357.67 567.1 L1359.5 567.1 L1361.33 567.1 L1363.16 567.1 L1364.98 567.1 L1366.81 567.1 L1368.64 567.1 L1370.46 567.1 L1372.29 567.1 L1374.12 567.1 L1375.95 567.1 L1377.77 567.1 L1379.6 567.1 L1381.43 567.1 L1383.26 567.1 L1385.08 567.1 L1386.91 567.1 L1388.74 567.1 L1390.57 567.1 L1392.39 567.1 L1394.22 567.1 L1396.05 567.1 L1397.87 567.1 L1399.7 567.1 L1401.53 567.1 L1403.36 567.1 L1405.18 567.1 L1407.01 567.1 L1408.84 567.1 L1410.67 567.1 L1412.49 567.1 L1414.32 567.1 L1416.15 567.1 L1417.98 567.1 L1419.8 567.1 L1421.63 567.1 L1423.46 567.1 L1425.28 567.1 L1427.11 567.1 L1428.94 567.1 L1430.77 567.1 L1432.59 567.1 L1434.42 567.1 L1436.25 567.1 L1438.08 567.1 L1439.9 567.1 L1441.73 567.1 L1443.56 567.1 L1445.39 567.1 L1447.21 567.1 L1449.04 567.1 L1450.87 567.1 L1452.69 567.1 L1454.52 567.1 L1456.35 567.1 L1458.18 567.1 L1460 567.1 L1461.83 567.1 L1463.66 567.1 L1465.49 567.1 L1467.31 567.1 L1469.14 567.1 L1470.97 567.1 L1472.8 567.1 L1474.62 567.1 L1476.45 567.1 L1478.28 567.1 L1480.1 567.1 L1481.93 567.1 L1483.76 567.1 L1485.59 567.1 L1487.41 567.1 L1489.24 567.1 L1491.07 567.1 L1492.9 567.1 L1494.72 567.1 L1496.55 567.1 L1498.38 567.1 L1500.21 567.1 L1502.03 567.1 L1503.86 567.1 L1505.69 567.1 L1507.51 567.1 L1509.34 567.1 L1511.17 567.1 L1513 567.1 L1514.82 567.1 L1516.65 567.1 L1518.48 567.1 L1520.31 567.11 L1522.13 567.11 L1523.96 567.11 L1525.79 567.11 L1527.62 567.11 L1529.44 567.12 L1531.27 567.12 L1533.1 567.13 L1534.92 567.14 L1536.75 567.16 L1538.58 567.18 L1540.41 567.21 L1542.23 567.24 L1544.06 567.3 L1545.89 567.37 L1547.72 567.47 L1549.54 567.6 L1551.37 567.79 L1553.2 568.04 L1555.03 568.39 L1556.85 568.86 L1558.68 569.51 L1560.51 570.39 L1562.33 571.57 L1564.16 573.15 L1565.99 575.26 L1567.82 578.03 L1569.64 581.62 L1571.47 586.18 L1573.3 591.84 L1575.13 598.67 L1576.95 606.6 L1578.78 615.43 L1580.61 624.84 L1582.44 634.37 L1584.26 643.57 L1586.09 652.01 L1587.92 659.43 L1589.74 665.71 L1591.57 670.85 L1593.4 674.94 L1595.23 678.12 L1597.05 680.56 L1598.88 682.4 L1600.71 683.79 L1602.54 684.81 L1604.36 685.57 L1606.19 686.13 L1608.02 686.54 L1609.85 686.84 L1611.67 687.06 L1613.5 687.22" stroke="#000" stroke-width="1.9" fill="none" stroke-linejoin="round" />
<path d="M1339.4 573.41 L1341.23 574.39 L1343.05 575.36 L1344.88 576.32 L1346.71 577.28 L1348.54 578.25 L1350.36 579.25 L1352.19 580.29 L1354.02 581.37 L1355.85 582.47 L1357.67 583.6 L1359.5 584.75 L1361.33 585.93 L1363.16 587.13 L1364.98 588.36 L1366.81 589.62 L1368.64 590.91 L1370.46 592.25 L1372.29 593.61 L1374.12 595.02 L1375.95 596.48 L1377.77 597.98 L1379.6 599.53 L1381.43 601.14 L1383.26 602.79 L1385.08 604.48 L1386.91 606.23 L1388.74 608.03 L1390.57 609.87 L1392.39 611.76 L1394.22 613.7 L1396.05 615.69 L1397.87 617.75 L1399.7 619.89 L1401.53 622.09 L1403.36 624.36 L1405.18 626.68 L1407.01 629.06 L1408.84 631.5 L1410.67 633.97 L1412.49 636.49 L1414.32 639.05 L1416.15 641.65 L1417.98 644.28 L1419.8 646.99 L1421.63 649.77 L1423.46 652.62 L1425.28 655.54 L1427.11 658.53 L1428.94 661.57 L1430.77 664.67 L1432.59 667.82 L1434.42 671.05 L1436.25 674.41 L1438.08 677.86 L1439.9 681.38 L1441.73 684.93 L1443.56 688.5 L1445.39 692.06 L1447.21 695.58 L1449.04 699.04 L1450.87 702.49 L1452.69 705.94 L1454.52 709.37 L1456.35 712.77 L1458.18 716.13 L1460 719.49 L1461.83 722.88 L1463.66 726.27 L1465.49 729.63 L1467.31 732.94 L1469.14 736.17 L1470.97 739.29 L1472.8 742.27 L1474.62 745.11 L1476.45 747.9 L1478.28 750.66 L1480.1 753.37 L1481.93 756.01 L1483.76 758.59 L1485.59 761.08 L1487.41 763.48 L1489.24 765.78 L1491.07 767.97 L1492.9 770.03 L1494.72 771.96 L1496.55 773.82 L1498.38 775.61 L1500.21 777.33 L1502.03 778.98 L1503.86 780.56 L1505.69 782.05 L1507.51 783.46 L1509.34 784.77 L1511.17 785.99 L1513 787.13 L1514.82 788.24 L1516.65 789.31 L1518.48 790.32 L1520.31 791.27 L1522.13 792.15 L1523.96 792.93 L1525.79 793.61 L1527.62 794.18 L1529.44 794.69 L1531.27 795.19 L1533.1 795.67 L1534.92 796.11 L1536.75 796.51 L1538.58 796.88 L1540.41 797.2 L1542.23 797.47 L1544.06 797.69 L1545.89 797.84 L1547.72 797.95 L1549.54 798.05 L1551.37 798.15 L1553.2 798.24 L1555.03 798.33 L1556.85 798.41 L1558.68 798.48 L1560.51 798.55 L1562.33 798.61 L1564.16 798.66 L1565.99 798.7 L1567.82 798.74 L1569.64 798.77 L1571.47 798.79 L1573.3 798.8 L1575.13 798.8 L1576.95 798.8 L1578.78 798.8 L1580.61 798.8 L1582.44 798.8 L1584.26 798.8 L1586.09 798.8 L1587.92 798.8 L1589.74 798.8 L1591.57 798.8 L1593.4 798.8 L1595.23 798.8 L1597.05 798.8 L1598.88 798.8 L1600.71 798.8 L1602.54 798.8 L1604.36 798.8 L1606.19 798.8 L1608.02 798.8 L1609.85 798.8 L1611.67 798.8 L1613.5 798.8" stroke="#0000ff" stroke-width="2.1" fill="none" stroke-linejoin="round" />
<path d="M1339.4 532.96V555.63M1335.6 532.96H1343.2M1335.6 555.63H1343.2" stroke="#333333" stroke-width="1.1" fill="none"/>
<path d="M1374.9 538.3V584.97M1371.1 538.3H1378.7M1371.1 584.97H1378.7" stroke="#333333" stroke-width="1.1" fill="none"/>
<path d="M1458.29 572.97V594.31M1454.49 572.97H1462.09M1454.49 594.31H1462.09" stroke="#333333" stroke-width="1.1" fill="none"/>
<path d="M1494.2 544.97V610.31M1490.4 544.97H1498M1490.4 610.31H1498" stroke="#333333" stroke-width="1.1" fill="none"/>
<path d="M1577.59 568.97V647.65M1573.79 568.97H1581.39M1573.79 647.65H1581.39" stroke="#333333" stroke-width="1.1" fill="none"/>
<path d="M1613.5 638.31V736.99M1609.7 638.31H1617.3M1609.7 736.99H1617.3" stroke="#333333" stroke-width="1.1" fill="none"/>
<path d="M1339.4 503.63V574.3M1335.6 503.63H1343.2M1335.6 574.3H1343.2" stroke="#3333ff" stroke-width="1.1" fill="none"/>
<path d="M1374.9 631.64V656.98M1371.1 631.64H1378.7M1371.1 656.98H1378.7" stroke="#3333ff" stroke-width="1.1" fill="none"/>
<path d="M1458.29 694.32V732.99M1454.49 694.32H1462.09M1454.49 732.99H1462.09" stroke="#3333ff" stroke-width="1.1" fill="none"/>
<path d="M1494.2 732.99V758.33M1490.4 732.99H1498M1490.4 758.33H1498" stroke="#3333ff" stroke-width="1.1" fill="none"/>
<path d="M1339.4 541.07L1342.52 544.97L1339.4 548.87L1336.28 544.97Z" fill="#000"/>
<path d="M1374.9 558.4L1378.02 562.3L1374.9 566.2L1371.78 562.3Z" fill="#000"/>
<path d="M1458.29 579.74L1461.41 583.64L1458.29 587.54L1455.17 583.64Z" fill="#000"/>
<path d="M1494.2 573.07L1497.32 576.97L1494.2 580.87L1491.08 576.97Z" fill="#000"/>
<path d="M1577.59 605.07L1580.71 608.97L1577.59 612.87L1574.47 608.97Z" fill="#000"/>
<path d="M1613.5 683.75L1616.62 687.65L1613.5 691.55L1610.38 687.65Z" fill="#000"/>
<path d="M1339.4 541.9L1344 533.85L1334.8 533.85Z" fill="#0000ff"/>
<path d="M1374.9 648.58L1379.5 640.53L1370.3 640.53Z" fill="#0000ff"/>
<path d="M1458.29 717.92L1462.89 709.87L1453.69 709.87Z" fill="#0000ff"/>
<path d="M1494.2 749.93L1498.8 741.88L1489.6 741.88Z" fill="#0000ff"/>
<path d="M1577.59 813.4L1582.19 805.35L1572.99 805.35Z" fill="#0000ff"/>
<path d="M1613.5 815L1618.1 806.95L1608.9 806.95Z" fill="#0000ff"/>
<line x1="1335" y1="442.6" x2="1359.2" y2="442.6" stroke="#000" stroke-width="1.8" />
<path d="M1347.1 438.7L1350.22 442.6L1347.1 446.5L1343.98 442.6Z" fill="#000"/>
<line x1="1335" y1="474.4" x2="1359.2" y2="474.4" stroke="#0000ff" stroke-width="2.1" />
<path d="M1347.1 478.5L1351.7 470.45L1342.5 470.45Z" fill="#0000ff"/>
<text x="1372" y="452.6" font-size="20.5" stroke="#000" stroke-width="0.35">KCL008PO (<tspan font-style="italic">BRCA1</tspan><tspan font-style="italic" font-size="14.6" dy="-8.4">Wild-type</tspan><tspan dy="8.4">)</tspan></text>
<text x="1372" y="485" font-size="20.5" stroke="#000" stroke-width="0.35">KCL014BCPO (<tspan font-style="italic">BRCA1</tspan><tspan font-size="14.6" dy="-8.4">mutant</tspan><tspan dy="8.4">)</tspan></text>
</g>
<g id="panel-g">
<text x="-1.5" y="937.5" font-size="42.5" stroke="#000" stroke-width="0.3" font-weight="bold" letter-spacing="1.2">g.</text>
<rect x="73.8" y="940.6" width="588.3" height="526.4" fill="#fff" stroke="none" stroke-width="0" rx="0" />
<line x1="190.55" y1="940.6" x2="190.55" y2="1467" stroke="#efefef" stroke-width="1.3" />
<line x1="358.65" y1="940.6" x2="358.65" y2="1467" stroke="#efefef" stroke-width="1.3" />
<line x1="526.75" y1="940.6" x2="526.75" y2="1467" stroke="#efefef" stroke-width="1.3" />
<line x1="106.5" y1="940.6" x2="106.5" y2="1467" stroke="#e8e8e8" stroke-width="2.6" />
<line x1="274.6" y1="940.6" x2="274.6" y2="1467" stroke="#e8e8e8" stroke-width="2.6" />
<line x1="442.7" y1="940.6" x2="442.7" y2="1467" stroke="#e8e8e8" stroke-width="2.6" />
<line x1="610.8" y1="940.6" x2="610.8" y2="1467" stroke="#e8e8e8" stroke-width="2.6" />
<line x1="73.8" y1="1084.1" x2="662.1" y2="1084.1" stroke="#e8e8e8" stroke-width="2.6" />
<line x1="73.8" y1="1323.7" x2="662.1" y2="1323.7" stroke="#e8e8e8" stroke-width="2.6" />
<g fill="#bdbdbd" fill-opacity="0.5"><circle cx="100.3" cy="1084.1" r="5.3"/><circle cx="112.8" cy="1084.1" r="5.3"/><circle cx="220.2" cy="1084.1" r="5.3"/><circle cx="229.7" cy="1084.1" r="5.3"/><circle cx="247.8" cy="1084.1" r="5.3"/><circle cx="255.4" cy="1084.1" r="5.3"/><circle cx="259" cy="1084.1" r="5.3"/><circle cx="263" cy="1084.1" r="5.3"/><circle cx="268.6" cy="1084.1" r="5.3"/><circle cx="273" cy="1084.1" r="5.3"/><circle cx="276.2" cy="1084.1" r="5.3"/><circle cx="520.2" cy="1084.1" r="5.3"/><circle cx="636.4" cy="1084.1" r="5.3"/></g>
<path d="M288.37 1083.08 L290.26 1078.73 L316.74 1075.9 L345.11 1074 L365.92 1072.11 L381.05 1068.33 L392.4 1064.55 L399.97 1056.04 L405.64 1051.31 L411.31 1046.58 L416.99 1039.01 L422.66 1029.56 L428.34 1018.21 L434.01 1006.86 L439.69 995.51 L444.41 987.94 L447.25 985.67 L451.03 987.94 L454.82 995.51 L460.49 1006.86 L466.17 1018.21 L471.84 1029.56 L477.51 1040.9 L483.19 1052.25 L488.86 1063.6 L496.43 1073.06 L505.89 1077.79 L513.45 1080.62 L523.85 1083.65 L523.85 1084.6 L513.45 1087.43 L505.89 1090.27 L496.43 1095 L488.86 1104.46 L483.19 1115.8 L477.51 1127.15 L471.84 1138.5 L466.17 1149.85 L460.49 1161.2 L454.82 1172.55 L447.25 1182.76 L439.69 1172.55 L434.01 1163.09 L428.34 1151.74 L422.66 1140.39 L416.99 1130.94 L411.31 1123.37 L405.64 1117.7 L399.97 1112.4 L392.4 1104.83 L381.05 1099.54 L365.92 1095.76 L345.11 1093.86 L316.74 1091.97 L290.26 1089.7 L288.37 1085.16Z" fill="#c1c1c1" stroke="#c1c1c1" stroke-width="1" stroke-linejoin="round"/>
<g fill="#c4c4c4" fill-opacity="0.8"><circle cx="289.07" cy="1086.15" r="5.3"/><circle cx="292" cy="1082.32" r="5.3"/><circle cx="296.26" cy="1081.95" r="5.3"/><circle cx="303.15" cy="1080.49" r="5.3"/><circle cx="306.98" cy="1080.98" r="5.3"/><circle cx="312.37" cy="1080.98" r="5.3"/><circle cx="319.09" cy="1078.67" r="5.3"/><circle cx="321.57" cy="1078.3" r="5.3"/><circle cx="326.42" cy="1077.88" r="5.3"/><circle cx="332.37" cy="1079.13" r="5.3"/><circle cx="337.6" cy="1078.12" r="5.3"/><circle cx="342.51" cy="1077.33" r="5.3"/><circle cx="349.54" cy="1077.95" r="5.3"/><circle cx="352.6" cy="1076.36" r="5.3"/><circle cx="355.88" cy="1077.1" r="5.3"/><circle cx="362.73" cy="1075.83" r="5.3"/><circle cx="369.86" cy="1073.87" r="5.3"/><circle cx="372.36" cy="1074.21" r="5.3"/><circle cx="379.31" cy="1071.47" r="5.3"/><circle cx="384" cy="1070.64" r="5.3"/><circle cx="386.8" cy="1070.85" r="5.3"/><circle cx="393.8" cy="1065.38" r="5.3"/><circle cx="395.75" cy="1064.18" r="5.3"/><circle cx="400.77" cy="1058.94" r="5.3"/><circle cx="406.77" cy="1053.54" r="5.3"/><circle cx="411.98" cy="1048.32" r="5.3"/><circle cx="414.21" cy="1046.77" r="5.3"/><circle cx="418.27" cy="1040.72" r="5.3"/><circle cx="420.08" cy="1037.9" r="5.3"/><circle cx="423.3" cy="1031.58" r="5.3"/><circle cx="425.54" cy="1027.18" r="5.3"/><circle cx="428.66" cy="1019.65" r="5.3"/><circle cx="431.49" cy="1015.26" r="5.3"/><circle cx="435" cy="1007.98" r="5.3"/><circle cx="438.73" cy="1001.12" r="5.3"/><circle cx="442.05" cy="993.83" r="5.3"/><circle cx="446.73" cy="989.6" r="5.3"/><circle cx="448.14" cy="990.46" r="5.3"/><circle cx="452.28" cy="993.35" r="5.3"/><circle cx="455.89" cy="1000.71" r="5.3"/><circle cx="458.47" cy="1004.41" r="5.3"/><circle cx="461.5" cy="1013.9" r="5.3"/><circle cx="464.18" cy="1017.85" r="5.3"/><circle cx="466.91" cy="1024.12" r="5.3"/><circle cx="470.68" cy="1029.93" r="5.3"/><circle cx="473.06" cy="1033.68" r="5.3"/><circle cx="474.34" cy="1038.79" r="5.3"/><circle cx="477.12" cy="1044.48" r="5.3"/><circle cx="480.9" cy="1052.18" r="5.3"/><circle cx="485.73" cy="1059.71" r="5.3"/><circle cx="487.53" cy="1063.55" r="5.3"/><circle cx="488.18" cy="1068.14" r="5.3"/><circle cx="495.24" cy="1073.29" r="5.3"/><circle cx="498.51" cy="1078.17" r="5.3"/><circle cx="503.01" cy="1078.7" r="5.3"/><circle cx="509.16" cy="1083.27" r="5.3"/><circle cx="516.46" cy="1085.59" r="5.3"/><circle cx="521.75" cy="1087.08" r="5.3"/><circle cx="290.16" cy="1084.59" r="5.3"/><circle cx="293.78" cy="1086.21" r="5.3"/><circle cx="297.69" cy="1086.59" r="5.3"/><circle cx="302.44" cy="1086.93" r="5.3"/><circle cx="310.44" cy="1087.32" r="5.3"/><circle cx="313.26" cy="1087.88" r="5.3"/><circle cx="318.74" cy="1089.3" r="5.3"/><circle cx="323.2" cy="1088.65" r="5.3"/><circle cx="327.36" cy="1088.71" r="5.3"/><circle cx="332.76" cy="1088.59" r="5.3"/><circle cx="335.72" cy="1090.09" r="5.3"/><circle cx="342.15" cy="1090.76" r="5.3"/><circle cx="348.67" cy="1090.68" r="5.3"/><circle cx="353.29" cy="1090.7" r="5.3"/><circle cx="356.13" cy="1090.66" r="5.3"/><circle cx="364.66" cy="1092.22" r="5.3"/><circle cx="367.69" cy="1093.4" r="5.3"/><circle cx="373.26" cy="1093.16" r="5.3"/><circle cx="379.24" cy="1095.75" r="5.3"/><circle cx="381.64" cy="1096.7" r="5.3"/><circle cx="387.44" cy="1098.73" r="5.3"/><circle cx="393.41" cy="1101.86" r="5.3"/><circle cx="398.71" cy="1108.47" r="5.3"/><circle cx="400.69" cy="1109.83" r="5.3"/><circle cx="408.57" cy="1117.29" r="5.3"/><circle cx="412.12" cy="1122.59" r="5.3"/><circle cx="414.29" cy="1124.1" r="5.3"/><circle cx="416.89" cy="1129.03" r="5.3"/><circle cx="420.99" cy="1133.89" r="5.3"/><circle cx="424.46" cy="1138.48" r="5.3"/><circle cx="426.38" cy="1145.24" r="5.3"/><circle cx="427.91" cy="1148.91" r="5.3"/><circle cx="432.08" cy="1157.11" r="5.3"/><circle cx="435.01" cy="1160.59" r="5.3"/><circle cx="438.48" cy="1166.47" r="5.3"/><circle cx="442.43" cy="1172.6" r="5.3"/><circle cx="446.29" cy="1178.13" r="5.3"/><circle cx="448.65" cy="1176.72" r="5.3"/><circle cx="452.14" cy="1171.95" r="5.3"/><circle cx="457.11" cy="1165.86" r="5.3"/><circle cx="458.48" cy="1160.24" r="5.3"/><circle cx="462.34" cy="1153.91" r="5.3"/><circle cx="464.39" cy="1150.12" r="5.3"/><circle cx="468.17" cy="1141.79" r="5.3"/><circle cx="470.3" cy="1138.59" r="5.3"/><circle cx="471.86" cy="1133.64" r="5.3"/><circle cx="476.2" cy="1127.07" r="5.3"/><circle cx="478.07" cy="1124.31" r="5.3"/><circle cx="481.42" cy="1115.03" r="5.3"/><circle cx="484.18" cy="1109.78" r="5.3"/><circle cx="487.41" cy="1103.8" r="5.3"/><circle cx="491.4" cy="1098.59" r="5.3"/><circle cx="494.5" cy="1093.54" r="5.3"/><circle cx="497.84" cy="1090.07" r="5.3"/><circle cx="503.31" cy="1087.29" r="5.3"/><circle cx="508.55" cy="1085.8" r="5.3"/><circle cx="517.17" cy="1083.58" r="5.3"/><circle cx="522.5" cy="1081.52" r="5.3"/></g>
<g fill="#bdbdbd" fill-opacity="0.5"><circle cx="301.53" cy="1323.7" r="5.3"/><circle cx="310.23" cy="1323.7" r="5.3"/><circle cx="327.25" cy="1323.7" r="5.3"/><circle cx="506.95" cy="1323.7" r="5.3"/></g>
<path d="M322.42 1323.76 L326.2 1321.3 L345.11 1319.41 L362.14 1316.57 L373.49 1312.79 L382.94 1306.17 L392.4 1300.49 L401.86 1293.87 L409.42 1287.25 L413.21 1275.9 L416.99 1266.45 L422.66 1253.21 L428.34 1241.86 L435.9 1232.4 L441.58 1226.73 L446.31 1224.84 L451.03 1226.35 L456.71 1232.4 L460.49 1241.86 L466.17 1253.21 L471.84 1264.56 L475.62 1277.8 L479.41 1291.04 L485.08 1302.38 L490.75 1311.84 L496.43 1319.41 L501.16 1323.57 L501.16 1325.08 L496.43 1329.05 L490.75 1336.62 L485.08 1346.08 L479.41 1357.42 L475.62 1370.66 L471.84 1383.9 L466.17 1395.25 L460.49 1406.6 L456.71 1416.06 L446.31 1423.62 L435.9 1416.06 L428.34 1406.6 L422.66 1395.25 L416.99 1382.01 L413.21 1372.56 L409.42 1361.21 L401.86 1354.4 L392.4 1347.78 L382.94 1342.1 L373.49 1335.48 L362.14 1331.7 L345.11 1328.86 L326.2 1326.97 L322.42 1324.7Z" fill="#c1c1c1" stroke="#c1c1c1" stroke-width="1" stroke-linejoin="round"/>
<g fill="#c4c4c4" fill-opacity="0.8"><circle cx="323.93" cy="1326.87" r="5.3"/><circle cx="325.89" cy="1324.6" r="5.3"/><circle cx="332.33" cy="1324.72" r="5.3"/><circle cx="337.74" cy="1324.08" r="5.3"/><circle cx="340.77" cy="1322.76" r="5.3"/><circle cx="348.01" cy="1323.04" r="5.3"/><circle cx="351.38" cy="1321.69" r="5.3"/><circle cx="358.62" cy="1319.88" r="5.3"/><circle cx="363.04" cy="1320.11" r="5.3"/><circle cx="368.95" cy="1319.05" r="5.3"/><circle cx="373.74" cy="1315.4" r="5.3"/><circle cx="379.44" cy="1311.68" r="5.3"/><circle cx="384.53" cy="1307.73" r="5.3"/><circle cx="390.21" cy="1305.15" r="5.3"/><circle cx="394.34" cy="1302.48" r="5.3"/><circle cx="397.59" cy="1301.65" r="5.3"/><circle cx="404.7" cy="1294.92" r="5.3"/><circle cx="406.91" cy="1293.67" r="5.3"/><circle cx="409.15" cy="1290.13" r="5.3"/><circle cx="412.49" cy="1283.15" r="5.3"/><circle cx="413.76" cy="1279.27" r="5.3"/><circle cx="415.34" cy="1272.91" r="5.3"/><circle cx="417.94" cy="1268.05" r="5.3"/><circle cx="419.09" cy="1264.33" r="5.3"/><circle cx="420.46" cy="1260.79" r="5.3"/><circle cx="423.21" cy="1254.2" r="5.3"/><circle cx="425.57" cy="1250.26" r="5.3"/><circle cx="430.85" cy="1243.2" r="5.3"/><circle cx="433.24" cy="1239.9" r="5.3"/><circle cx="437.05" cy="1236.07" r="5.3"/><circle cx="441.23" cy="1230.86" r="5.3"/><circle cx="447.02" cy="1227.81" r="5.3"/><circle cx="451.38" cy="1231.09" r="5.3"/><circle cx="458.04" cy="1238.35" r="5.3"/><circle cx="459.49" cy="1242.46" r="5.3"/><circle cx="461.33" cy="1248.05" r="5.3"/><circle cx="464.48" cy="1252.55" r="5.3"/><circle cx="468.68" cy="1259.89" r="5.3"/><circle cx="470.18" cy="1263.19" r="5.3"/><circle cx="473.11" cy="1272.92" r="5.3"/><circle cx="474.21" cy="1277.61" r="5.3"/><circle cx="476.25" cy="1282.97" r="5.3"/><circle cx="478.31" cy="1288.47" r="5.3"/><circle cx="479.78" cy="1296.55" r="5.3"/><circle cx="483.55" cy="1303.37" r="5.3"/><circle cx="487.41" cy="1309" r="5.3"/><circle cx="489.73" cy="1313.24" r="5.3"/><circle cx="491.66" cy="1316.71" r="5.3"/><circle cx="495.15" cy="1320.21" r="5.3"/><circle cx="499.43" cy="1325.67" r="5.3"/><circle cx="325.45" cy="1322.46" r="5.3"/><circle cx="328.62" cy="1324.44" r="5.3"/><circle cx="331.8" cy="1323.09" r="5.3"/><circle cx="338" cy="1324.3" r="5.3"/><circle cx="340.85" cy="1324.43" r="5.3"/><circle cx="346.27" cy="1325.71" r="5.3"/><circle cx="352.37" cy="1327.14" r="5.3"/><circle cx="356.52" cy="1326.82" r="5.3"/><circle cx="365.41" cy="1328.24" r="5.3"/><circle cx="368.51" cy="1330.5" r="5.3"/><circle cx="374.44" cy="1332.58" r="5.3"/><circle cx="378.93" cy="1336.33" r="5.3"/><circle cx="385.28" cy="1340.66" r="5.3"/><circle cx="388.12" cy="1342.03" r="5.3"/><circle cx="393.8" cy="1344.69" r="5.3"/><circle cx="398.9" cy="1349.18" r="5.3"/><circle cx="404.01" cy="1352.74" r="5.3"/><circle cx="407.43" cy="1354.64" r="5.3"/><circle cx="409.79" cy="1357.99" r="5.3"/><circle cx="412.12" cy="1364.53" r="5.3"/><circle cx="414.58" cy="1371.81" r="5.3"/><circle cx="415.93" cy="1375.2" r="5.3"/><circle cx="417.43" cy="1380.34" r="5.3"/><circle cx="418.62" cy="1383.16" r="5.3"/><circle cx="420.38" cy="1387.41" r="5.3"/><circle cx="423.93" cy="1392.59" r="5.3"/><circle cx="426.87" cy="1398.08" r="5.3"/><circle cx="428.59" cy="1403.78" r="5.3"/><circle cx="434.53" cy="1409.95" r="5.3"/><circle cx="437.59" cy="1414.02" r="5.3"/><circle cx="442.39" cy="1417.55" r="5.3"/><circle cx="448.25" cy="1419.63" r="5.3"/><circle cx="451.86" cy="1414.76" r="5.3"/><circle cx="456.69" cy="1410.06" r="5.3"/><circle cx="460.27" cy="1405.12" r="5.3"/><circle cx="461.64" cy="1400.81" r="5.3"/><circle cx="465.58" cy="1394.47" r="5.3"/><circle cx="467.15" cy="1388.54" r="5.3"/><circle cx="468.5" cy="1386.6" r="5.3"/><circle cx="472.46" cy="1377.61" r="5.3"/><circle cx="473.67" cy="1372.11" r="5.3"/><circle cx="475.79" cy="1363.88" r="5.3"/><circle cx="478.14" cy="1357.9" r="5.3"/><circle cx="481.18" cy="1351.23" r="5.3"/><circle cx="483.45" cy="1345.36" r="5.3"/><circle cx="485.72" cy="1341.16" r="5.3"/><circle cx="488.98" cy="1334.53" r="5.3"/><circle cx="492.3" cy="1331.34" r="5.3"/><circle cx="495.78" cy="1326.85" r="5.3"/><circle cx="497.94" cy="1323.82" r="5.3"/></g>
<line x1="409.3" y1="944.6" x2="409.3" y2="1467" stroke="#000" stroke-width="2.8" stroke-dasharray="2.8 7.6"/>
<line x1="74.8" y1="1220.1" x2="662.1" y2="1220.1" stroke="#000" stroke-width="2.6" stroke-dasharray="2.6 2.9"/>
<circle cx="303.2" cy="1084.1" r="5.6" fill="#c5003e" stroke="none" stroke-width="0" />
<circle cx="379.5" cy="1084.1" r="5.6" fill="#6a1b8a" stroke="none" stroke-width="0" />
<circle cx="396.3" cy="1084.1" r="5.6" fill="#0b8a8a" stroke="none" stroke-width="0" />
<circle cx="400.7" cy="1084.1" r="5.6" fill="#2b3d8f" stroke="none" stroke-width="0" />
<circle cx="411.8" cy="1084.1" r="5.6" fill="#ff0000" stroke="none" stroke-width="0" />
<circle cx="426.8" cy="1084.1" r="5.6" fill="#5e54a8" stroke="none" stroke-width="0" />
<circle cx="435.1" cy="1084.1" r="5.6" fill="#109a4e" stroke="none" stroke-width="0" />
<circle cx="465.2" cy="1084.1" r="5.6" fill="#b00a60" stroke="none" stroke-width="0" />
<circle cx="334" cy="1323.7" r="5.6" fill="#0b8a8a" stroke="none" stroke-width="0" />
<circle cx="340.7" cy="1323.7" r="5.6" fill="#b00a60" stroke="none" stroke-width="0" />
<circle cx="355.3" cy="1323.7" r="5.6" fill="#c5003e" stroke="none" stroke-width="0" />
<circle cx="367.6" cy="1323.7" r="5.6" fill="#109a4e" stroke="none" stroke-width="0" />
<circle cx="384" cy="1323.7" r="5.6" fill="#5e54a8" stroke="none" stroke-width="0" />
<circle cx="419.7" cy="1323.7" r="5.6" fill="#ff0000" stroke="none" stroke-width="0" />
<circle cx="434.7" cy="1323.7" r="5.6" fill="#2b3d8f" stroke="none" stroke-width="0" />
<circle cx="464.3" cy="1323.7" r="5.6" fill="#6a1b8a" stroke="none" stroke-width="0" />
<g><rect x="202.6" y="1110" width="73.7" height="33.5" rx="4.5" fill="#fff" stroke="#c5003e" stroke-width="1.5"/><text x="239.45" y="1134.35" font-size="21.2" stroke="#c5003e" stroke-width="0.25" text-anchor="middle" fill="#c5003e">POT1</text></g>
<g><rect x="290.4" y="1091.8" width="83.4" height="33.2" rx="4.5" fill="#fff" stroke="#6a1b8a" stroke-width="1.5"/><text x="332.1" y="1116" font-size="21.2" stroke="#6a1b8a" stroke-width="0.25" text-anchor="middle" fill="#6a1b8a">PALB2</text></g>
<g><rect x="282.9" y="1157.2" width="76.8" height="33.5" rx="4.5" fill="#fff" stroke="#0b8a8a" stroke-width="1.5"/><text x="321.3" y="1181.55" font-size="21.2" stroke="#0b8a8a" stroke-width="0.25" text-anchor="middle" fill="#0b8a8a">POLH</text></g>
<g opacity="0.45"><rect x="387.5" y="1134.6" width="90.9" height="33.1" rx="4.5" fill="#fff" stroke="#ff0000" stroke-width="1.5"/><text x="432.95" y="1158.75" font-size="21.2" stroke="#ff0000" stroke-width="0.25" text-anchor="middle" fill="#ff0000">BRCA2</text></g>
<g opacity="0.45"><rect x="478.4" y="1182.3" width="86.5" height="33.1" rx="4.5" fill="#fff" stroke="#5e54a8" stroke-width="1.5"/><text x="521.65" y="1206.45" font-size="21.2" stroke="#5e54a8" stroke-width="0.25" text-anchor="middle" fill="#5e54a8">REV3L</text></g>
<g opacity="0.45"><rect x="512" y="1134.6" width="102.8" height="33.1" rx="4.5" fill="#fff" stroke="#109a4e" stroke-width="1.5"/><text x="563.4" y="1158.75" font-size="21.2" stroke="#109a4e" stroke-width="0.25" text-anchor="middle" fill="#109a4e">MAD2L2</text></g>
<g opacity="0.45"><rect x="471.8" y="1088.3" width="87.4" height="32.2" rx="4.5" fill="#fff" stroke="#b00a60" stroke-width="1.5"/><text x="515.5" y="1112" font-size="21.2" stroke="#b00a60" stroke-width="0.25" text-anchor="middle" fill="#b00a60">SHLD2</text></g>
<g><rect x="373.4" y="1182.3" width="90.9" height="33.1" rx="4.5" fill="#fff" stroke="#2b3d8f" stroke-width="1.5"/><text x="418.85" y="1206.45" font-size="21.2" stroke="#2b3d8f" stroke-width="0.25" text-anchor="middle" fill="#2b3d8f">BRCA1</text></g>
<g><rect x="216.3" y="1311.7" width="76.7" height="32.6" rx="4.5" fill="#fff" stroke="#0b8a8a" stroke-width="1.5"/><text x="254.65" y="1335.6" font-size="21.2" stroke="#0b8a8a" stroke-width="0.25" text-anchor="middle" fill="#0b8a8a">POLH</text></g>
<g><rect x="307.6" y="1331.5" width="102.8" height="33.1" rx="4.5" fill="#fff" stroke="#109a4e" stroke-width="1.5"/><text x="359" y="1355.65" font-size="21.2" stroke="#109a4e" stroke-width="0.25" text-anchor="middle" fill="#109a4e">MAD2L2</text></g>
<g><rect x="185.8" y="1359.3" width="87.8" height="32.7" rx="4.5" fill="#fff" stroke="#b00a60" stroke-width="1.5"/><text x="229.7" y="1383.25" font-size="21.2" stroke="#b00a60" stroke-width="0.25" text-anchor="middle" fill="#b00a60">SHLD2</text></g>
<g><rect x="287.7" y="1403.9" width="73.7" height="33.1" rx="4.5" fill="#fff" stroke="#c5003e" stroke-width="1.5"/><text x="324.55" y="1428.05" font-size="21.2" stroke="#c5003e" stroke-width="0.25" text-anchor="middle" fill="#c5003e">POT1</text></g>
<g opacity="0.45"><rect x="423.7" y="1331.5" width="90.9" height="33.1" rx="4.5" fill="#fff" stroke="#2b3d8f" stroke-width="1.5"/><text x="469.15" y="1355.65" font-size="21.2" stroke="#2b3d8f" stroke-width="0.25" text-anchor="middle" fill="#2b3d8f">BRCA1</text></g>
<g opacity="0.45"><rect x="528.2" y="1360.2" width="83" height="32.7" rx="4.5" fill="#fff" stroke="#6a1b8a" stroke-width="1.5"/><text x="569.7" y="1384.15" font-size="21.2" stroke="#6a1b8a" stroke-width="0.25" text-anchor="middle" fill="#6a1b8a">PALB2</text></g>
<g opacity="0.45"><rect x="476.2" y="1407.4" width="90.9" height="33.1" rx="4.5" fill="#fff" stroke="#ff0000" stroke-width="1.5"/><text x="521.65" y="1431.55" font-size="21.2" stroke="#ff0000" stroke-width="0.25" text-anchor="middle" fill="#ff0000">BRCA2</text></g>
<g><rect x="376" y="1379.6" width="86" height="32.2" rx="4.5" fill="#fff" stroke="#5e54a8" stroke-width="1.5"/><text x="419" y="1403.3" font-size="21.2" stroke="#5e54a8" stroke-width="0.25" text-anchor="middle" fill="#5e54a8">REV3L</text></g>
<line x1="303.2" y1="1084.1" x2="276.3" y2="1121.8" stroke="#c5003e" stroke-width="2.6"/>

<line x1="396.3" y1="1084.1" x2="359.7" y2="1171.3" stroke="#0b8a8a" stroke-width="2.6"/>
<line x1="411.8" y1="1084.1" x2="431.6" y2="1134.6" stroke="#ff0000" stroke-width="2.6" opacity="0.45"/>
<line x1="426.8" y1="1084.1" x2="478.4" y2="1196.4" stroke="#5e54a8" stroke-width="2.6" opacity="0.45"/>
<line x1="435.1" y1="1084.1" x2="512" y2="1149.2" stroke="#109a4e" stroke-width="2.6" opacity="0.45"/>

<line x1="400.7" y1="1084.1" x2="417.5" y2="1182.3" stroke="#2b3d8f" stroke-width="2.6"/>
<line x1="334" y1="1323.7" x2="293" y2="1328" stroke="#0b8a8a" stroke-width="2.6"/>

<line x1="340.7" y1="1323.7" x2="273.6" y2="1372" stroke="#b00a60" stroke-width="2.6"/>
<line x1="355.3" y1="1323.7" x2="326.6" y2="1403.9" stroke="#c5003e" stroke-width="2.6"/>

<line x1="464.3" y1="1323.7" x2="528.2" y2="1375.2" stroke="#6a1b8a" stroke-width="2.6" opacity="0.45"/>
<line x1="419.7" y1="1323.7" x2="476.2" y2="1420.7" stroke="#ff0000" stroke-width="2.6" opacity="0.45"/>
<line x1="384" y1="1323.7" x2="412.6" y2="1379.6" stroke="#5e54a8" stroke-width="2.6"/>
<text x="83.5" y="978" font-size="33.7" stroke="#000" stroke-width="0.3">Sensitization</text>
<text x="419" y="978" font-size="33.7" stroke="#595959" stroke-width="0.3" fill="#595959">No sensitization</text>
<rect x="73.8" y="940.6" width="588.3" height="526.4" fill="none" stroke="#2e2e2e" stroke-width="1.3" rx="0" />
<rect x="73.8" y="899.6" width="588.3" height="41" fill="#d9d9d9" stroke="#2e2e2e" stroke-width="1.3" rx="0" />
<text x="367.95" y="927.7" font-size="22.3" stroke="#1a1a1a" stroke-width="0.25" text-anchor="middle" fill="#1a1a1a">ART558</text>
<line x1="106.5" y1="1467" x2="106.5" y2="1471" stroke="#333" stroke-width="2.5" />
<text x="106.5" y="1496.8" font-size="21.6" stroke="#4d4d4d" stroke-width="0.25" text-anchor="middle" fill="#4d4d4d">−20</text>
<line x1="274.6" y1="1467" x2="274.6" y2="1471" stroke="#333" stroke-width="2.5" />
<text x="274.6" y="1496.8" font-size="21.6" stroke="#4d4d4d" stroke-width="0.25" text-anchor="middle" fill="#4d4d4d">−10</text>
<line x1="442.7" y1="1467" x2="442.7" y2="1471" stroke="#333" stroke-width="2.5" />
<text x="442.7" y="1496.8" font-size="21.6" stroke="#4d4d4d" stroke-width="0.25" text-anchor="middle" fill="#4d4d4d">0</text>
<line x1="610.8" y1="1467" x2="610.8" y2="1471" stroke="#333" stroke-width="2.5" />
<text x="610.8" y="1496.8" font-size="21.6" stroke="#4d4d4d" stroke-width="0.25" text-anchor="middle" fill="#4d4d4d">10</text>
<line x1="70" y1="1084.1" x2="73.8" y2="1084.1" stroke="#333" stroke-width="2.4" />
<line x1="70" y1="1323.7" x2="73.8" y2="1323.7" stroke="#333" stroke-width="2.4" />
<text x="376" y="1526.8" font-size="35.3" stroke="#000" stroke-width="0.3" text-anchor="middle">DE Z score</text>
<text x="0" y="0" font-size="35.6" stroke="#000" stroke-width="0.3" text-anchor="middle" transform="translate(60.6 1079.3) rotate(-90)"><tspan font-style="italic">BRCA1</tspan><tspan font-style="italic" font-size="21.6" dy="-10.5">Wild-type</tspan></text>
<text x="0" y="0" font-size="35.6" stroke="#000" stroke-width="0.3" text-anchor="middle" transform="translate(60.6 1330.7) rotate(-90)"><tspan font-style="italic">BRCA1</tspan><tspan font-style="italic" font-size="21.6" dy="-10.5">–/–</tspan></text>
</g>
<g id="panel-h">
<text x="918.5" y="937.5" font-size="42.5" stroke="#000" stroke-width="0.3" font-weight="bold" letter-spacing="1.2">h.</text>
<rect x="1007.4" y="942.2" width="594.4" height="528.8" fill="#fff" stroke="none" stroke-width="0" rx="0" />
<line x1="1125.3" y1="942.2" x2="1125.3" y2="1471" stroke="#efefef" stroke-width="1.3" />
<line x1="1295.3" y1="942.2" x2="1295.3" y2="1471" stroke="#efefef" stroke-width="1.3" />
<line x1="1465.3" y1="942.2" x2="1465.3" y2="1471" stroke="#efefef" stroke-width="1.3" />
<line x1="1040.3" y1="942.2" x2="1040.3" y2="1471" stroke="#e8e8e8" stroke-width="2.6" />
<line x1="1210.3" y1="942.2" x2="1210.3" y2="1471" stroke="#e8e8e8" stroke-width="2.6" />
<line x1="1380.3" y1="942.2" x2="1380.3" y2="1471" stroke="#e8e8e8" stroke-width="2.6" />
<line x1="1550.3" y1="942.2" x2="1550.3" y2="1471" stroke="#e8e8e8" stroke-width="2.6" />
<line x1="1007.4" y1="1087.2" x2="1601.8" y2="1087.2" stroke="#e8e8e8" stroke-width="2.6" />
<line x1="1007.4" y1="1327.9" x2="1601.8" y2="1327.9" stroke="#e8e8e8" stroke-width="2.6" />
<g fill="#bdbdbd" fill-opacity="0.5"><circle cx="1053.7" cy="1087.2" r="5.3"/><circle cx="1107.5" cy="1087.2" r="5.3"/><circle cx="1147.3" cy="1087.2" r="5.3"/><circle cx="1153.9" cy="1087.2" r="5.3"/><circle cx="1173.8" cy="1087.2" r="5.3"/><circle cx="1187" cy="1087.2" r="5.3"/><circle cx="1191.2" cy="1087.2" r="5.3"/><circle cx="1195.8" cy="1087.2" r="5.3"/><circle cx="1200.6" cy="1087.2" r="5.3"/><circle cx="1205.9" cy="1087.2" r="5.3"/><circle cx="1210.4" cy="1087.2" r="5.3"/><circle cx="1215.7" cy="1087.2" r="5.3"/><circle cx="1217.8" cy="1087.2" r="5.3"/><circle cx="1221.4" cy="1087.2" r="5.3"/><circle cx="1226.7" cy="1087.2" r="5.3"/><circle cx="1231" cy="1087.2" r="5.3"/><circle cx="1236.1" cy="1087.2" r="5.3"/><circle cx="1238.5" cy="1087.2" r="5.3"/><circle cx="1242.2" cy="1087.2" r="5.3"/><circle cx="1245" cy="1087.2" r="5.3"/><circle cx="1248.9" cy="1087.2" r="5.3"/><circle cx="1252.9" cy="1087.2" r="5.3"/><circle cx="1255" cy="1087.2" r="5.3"/><circle cx="1257.8" cy="1087.2" r="5.3"/><circle cx="1260.7" cy="1087.2" r="5.3"/><circle cx="1265.9" cy="1087.2" r="5.3"/><circle cx="1270.6" cy="1087.2" r="5.3"/><circle cx="1273.2" cy="1087.2" r="5.3"/><circle cx="1278" cy="1087.2" r="5.3"/><circle cx="1280.5" cy="1087.2" r="5.3"/><circle cx="1284.6" cy="1087.2" r="5.3"/><circle cx="1287.1" cy="1087.2" r="5.3"/><circle cx="1289.1" cy="1087.2" r="5.3"/><circle cx="1447" cy="1087.2" r="5.3"/><circle cx="1450.2" cy="1087.2" r="5.3"/><circle cx="1453.5" cy="1087.2" r="5.3"/><circle cx="1459.4" cy="1087.2" r="5.3"/><circle cx="1465" cy="1087.2" r="5.3"/><circle cx="1468.5" cy="1087.2" r="5.3"/><circle cx="1474.4" cy="1087.2" r="5.3"/><circle cx="1491.6" cy="1087.2" r="5.3"/><circle cx="1498.2" cy="1087.2" r="5.3"/><circle cx="1507" cy="1087.2" r="5.3"/><circle cx="1513.6" cy="1087.2" r="5.3"/><circle cx="1520.3" cy="1087.2" r="5.3"/><circle cx="1528.2" cy="1087.2" r="5.3"/></g>
<path d="M1285.92 1087.06 L1293.49 1083.65 L1308.62 1080.62 L1323.75 1076.84 L1335.1 1070.41 L1342.66 1059.44 L1348.34 1047.71 L1352.12 1035.23 L1357.79 1021.99 L1363.47 1010.64 L1369.14 1003.08 L1376.71 993.62 L1385.22 987 L1391.84 991.73 L1397.51 1001.18 L1401.3 1012.53 L1405.08 1025.77 L1410.75 1039.01 L1416.43 1052.25 L1422.1 1063.6 L1427.78 1074.95 L1437.23 1080.25 L1448.58 1083.65 L1454.26 1087.06 L1454.26 1087.43 L1448.58 1090.84 L1437.23 1094.24 L1427.78 1099.54 L1422.1 1110.89 L1416.43 1122.24 L1410.75 1135.48 L1405.08 1148.72 L1401.3 1161.96 L1397.51 1173.3 L1391.84 1182.76 L1385.22 1187.49 L1376.71 1180.87 L1369.14 1171.41 L1363.47 1163.85 L1357.79 1152.5 L1352.12 1139.26 L1348.34 1126.78 L1342.66 1115.05 L1335.1 1104.08 L1323.75 1097.65 L1308.62 1093.86 L1293.49 1090.84 L1285.92 1087.43Z" fill="#c1c1c1" stroke="#c1c1c1" stroke-width="1" stroke-linejoin="round"/>
<g fill="#c4c4c4" fill-opacity="0.8"><circle cx="1285.37" cy="1090.41" r="5.3"/><circle cx="1295.32" cy="1085.99" r="5.3"/><circle cx="1299.76" cy="1085.37" r="5.3"/><circle cx="1306.45" cy="1083.98" r="5.3"/><circle cx="1310.43" cy="1083.58" r="5.3"/><circle cx="1316.53" cy="1081.12" r="5.3"/><circle cx="1321.87" cy="1080.27" r="5.3"/><circle cx="1324.84" cy="1080.61" r="5.3"/><circle cx="1329.81" cy="1076.92" r="5.3"/><circle cx="1337.27" cy="1072.59" r="5.3"/><circle cx="1339.35" cy="1067.83" r="5.3"/><circle cx="1343.88" cy="1059.45" r="5.3"/><circle cx="1347.47" cy="1053.05" r="5.3"/><circle cx="1349.76" cy="1047.22" r="5.3"/><circle cx="1350.63" cy="1041.35" r="5.3"/><circle cx="1352.3" cy="1037.58" r="5.3"/><circle cx="1355.41" cy="1033.34" r="5.3"/><circle cx="1357.99" cy="1027.57" r="5.3"/><circle cx="1357.89" cy="1024.62" r="5.3"/><circle cx="1361.99" cy="1016.93" r="5.3"/><circle cx="1364.53" cy="1013.93" r="5.3"/><circle cx="1367.04" cy="1008.42" r="5.3"/><circle cx="1371.79" cy="1004.65" r="5.3"/><circle cx="1373.38" cy="1001.9" r="5.3"/><circle cx="1378.5" cy="996.31" r="5.3"/><circle cx="1380.67" cy="994.6" r="5.3"/><circle cx="1385.28" cy="990.66" r="5.3"/><circle cx="1393.82" cy="997.64" r="5.3"/><circle cx="1396.13" cy="1001.26" r="5.3"/><circle cx="1398.19" cy="1006.54" r="5.3"/><circle cx="1398.84" cy="1009.89" r="5.3"/><circle cx="1402.57" cy="1020.44" r="5.3"/><circle cx="1403.81" cy="1026.84" r="5.3"/><circle cx="1406.14" cy="1031.44" r="5.3"/><circle cx="1407.12" cy="1034.3" r="5.3"/><circle cx="1408.32" cy="1039.07" r="5.3"/><circle cx="1411" cy="1042.18" r="5.3"/><circle cx="1413.42" cy="1047.22" r="5.3"/><circle cx="1414.71" cy="1052.4" r="5.3"/><circle cx="1418.05" cy="1057.74" r="5.3"/><circle cx="1420.65" cy="1063.53" r="5.3"/><circle cx="1423.47" cy="1069.32" r="5.3"/><circle cx="1425.64" cy="1073.86" r="5.3"/><circle cx="1431.2" cy="1080.46" r="5.3"/><circle cx="1433.62" cy="1080.74" r="5.3"/><circle cx="1438.35" cy="1084.11" r="5.3"/><circle cx="1444.01" cy="1086.34" r="5.3"/><circle cx="1450.32" cy="1089.1" r="5.3"/><circle cx="1290.34" cy="1086.52" r="5.3"/><circle cx="1296.29" cy="1088.15" r="5.3"/><circle cx="1299.75" cy="1088.66" r="5.3"/><circle cx="1305.5" cy="1089.77" r="5.3"/><circle cx="1308.86" cy="1090.75" r="5.3"/><circle cx="1315.91" cy="1091.6" r="5.3"/><circle cx="1318.54" cy="1092.59" r="5.3"/><circle cx="1325.65" cy="1094.26" r="5.3"/><circle cx="1330.02" cy="1098.82" r="5.3"/><circle cx="1336.05" cy="1102.38" r="5.3"/><circle cx="1338.1" cy="1106.23" r="5.3"/><circle cx="1343.85" cy="1113.73" r="5.3"/><circle cx="1346.5" cy="1119.14" r="5.3"/><circle cx="1348.81" cy="1123.5" r="5.3"/><circle cx="1350.66" cy="1132.59" r="5.3"/><circle cx="1352.38" cy="1137.69" r="5.3"/><circle cx="1355.44" cy="1141.4" r="5.3"/><circle cx="1357.16" cy="1146.47" r="5.3"/><circle cx="1358.85" cy="1150.33" r="5.3"/><circle cx="1360.93" cy="1154.81" r="5.3"/><circle cx="1364.28" cy="1161.79" r="5.3"/><circle cx="1368.5" cy="1166.91" r="5.3"/><circle cx="1372.22" cy="1171.94" r="5.3"/><circle cx="1373.57" cy="1172.37" r="5.3"/><circle cx="1376.4" cy="1177.97" r="5.3"/><circle cx="1380.95" cy="1180.61" r="5.3"/><circle cx="1386.69" cy="1183.39" r="5.3"/><circle cx="1393.34" cy="1176.54" r="5.3"/><circle cx="1395.92" cy="1172.05" r="5.3"/><circle cx="1398.97" cy="1166.74" r="5.3"/><circle cx="1398.97" cy="1162.64" r="5.3"/><circle cx="1401.48" cy="1157.27" r="5.3"/><circle cx="1403.44" cy="1150.41" r="5.3"/><circle cx="1406.63" cy="1141.52" r="5.3"/><circle cx="1407.39" cy="1140.68" r="5.3"/><circle cx="1409.9" cy="1134.58" r="5.3"/><circle cx="1412.34" cy="1128.24" r="5.3"/><circle cx="1413.3" cy="1125.57" r="5.3"/><circle cx="1414.56" cy="1121.48" r="5.3"/><circle cx="1418.75" cy="1115.92" r="5.3"/><circle cx="1419.59" cy="1111.77" r="5.3"/><circle cx="1423.88" cy="1103.85" r="5.3"/><circle cx="1425.39" cy="1100.19" r="5.3"/><circle cx="1428.41" cy="1095.85" r="5.3"/><circle cx="1434.02" cy="1093.47" r="5.3"/><circle cx="1439.6" cy="1089.17" r="5.3"/><circle cx="1444.41" cy="1088.76" r="5.3"/><circle cx="1448.25" cy="1086.45" r="5.3"/></g>
<g fill="#bdbdbd" fill-opacity="0.5"><circle cx="1265.1" cy="1327.9" r="5.3"/><circle cx="1285.9" cy="1327.9" r="5.3"/><circle cx="1291.6" cy="1327.9" r="5.3"/><circle cx="1446" cy="1327.9" r="5.3"/></g>
<path d="M1293.49 1327.54 L1295.38 1325.08 L1304.83 1321.3 L1316.18 1313.73 L1327.53 1306.17 L1335.1 1298.6 L1342.66 1289.14 L1350.23 1279.69 L1355.9 1270.23 L1361.58 1258.88 L1367.25 1247.53 L1372.93 1236.18 L1378.6 1232.4 L1385.22 1233.91 L1391.84 1227.67 L1397.51 1234.29 L1401.3 1247.53 L1406.97 1260.77 L1412.65 1274.01 L1418.32 1287.25 L1423.99 1300.49 L1429.67 1313.73 L1435.34 1323.19 L1444.8 1327.54 L1444.8 1328.49 L1435.34 1333.78 L1429.67 1343.24 L1423.99 1354.59 L1420.21 1365.94 L1414.54 1381.07 L1408.86 1392.42 L1403.19 1403.76 L1397.51 1415.11 L1388.06 1424.95 L1380.49 1426.46 L1372.93 1418.9 L1367.25 1409.44 L1361.58 1398.09 L1355.9 1386.74 L1350.23 1377.28 L1342.66 1367.83 L1335.1 1358.37 L1327.53 1350.8 L1316.18 1343.24 L1304.83 1336.05 L1295.38 1330.76 L1293.49 1328.49Z" fill="#c1c1c1" stroke="#c1c1c1" stroke-width="1" stroke-linejoin="round"/>
<g fill="#c4c4c4" fill-opacity="0.8"><circle cx="1293.13" cy="1330.61" r="5.3"/><circle cx="1298.35" cy="1327.93" r="5.3"/><circle cx="1300.45" cy="1327.34" r="5.3"/><circle cx="1307.62" cy="1324.28" r="5.3"/><circle cx="1311.18" cy="1320.64" r="5.3"/><circle cx="1315.9" cy="1317.46" r="5.3"/><circle cx="1325.74" cy="1312.22" r="5.3"/><circle cx="1327.4" cy="1308.47" r="5.3"/><circle cx="1333.28" cy="1302.71" r="5.3"/><circle cx="1334.43" cy="1301.21" r="5.3"/><circle cx="1339.28" cy="1295.92" r="5.3"/><circle cx="1344.59" cy="1290.3" r="5.3"/><circle cx="1348.51" cy="1285.72" r="5.3"/><circle cx="1351.9" cy="1280.2" r="5.3"/><circle cx="1353.31" cy="1277.27" r="5.3"/><circle cx="1357.75" cy="1269.05" r="5.3"/><circle cx="1360.19" cy="1266.15" r="5.3"/><circle cx="1362.32" cy="1258.82" r="5.3"/><circle cx="1365.01" cy="1253.78" r="5.3"/><circle cx="1367.53" cy="1248.68" r="5.3"/><circle cx="1370.82" cy="1245.81" r="5.3"/><circle cx="1376.69" cy="1238.17" r="5.3"/><circle cx="1382.79" cy="1236.97" r="5.3"/><circle cx="1387.14" cy="1235.04" r="5.3"/><circle cx="1394.22" cy="1235.32" r="5.3"/><circle cx="1398.36" cy="1240.9" r="5.3"/><circle cx="1399.68" cy="1247" r="5.3"/><circle cx="1400.54" cy="1252.04" r="5.3"/><circle cx="1404.72" cy="1257.94" r="5.3"/><circle cx="1406.25" cy="1261.78" r="5.3"/><circle cx="1406.91" cy="1265.42" r="5.3"/><circle cx="1408.87" cy="1268.46" r="5.3"/><circle cx="1412.47" cy="1274.82" r="5.3"/><circle cx="1413.81" cy="1279.99" r="5.3"/><circle cx="1415.54" cy="1285.47" r="5.3"/><circle cx="1417.22" cy="1285.91" r="5.3"/><circle cx="1418.94" cy="1291.31" r="5.3"/><circle cx="1421.53" cy="1297.11" r="5.3"/><circle cx="1421.96" cy="1300.94" r="5.3"/><circle cx="1424.86" cy="1307.01" r="5.3"/><circle cx="1427.13" cy="1308.91" r="5.3"/><circle cx="1428.48" cy="1315.58" r="5.3"/><circle cx="1429.26" cy="1318.53" r="5.3"/><circle cx="1434.26" cy="1324.46" r="5.3"/><circle cx="1437.15" cy="1328.11" r="5.3"/><circle cx="1443.36" cy="1329.61" r="5.3"/><circle cx="1294.51" cy="1324.23" r="5.3"/><circle cx="1295.9" cy="1327.18" r="5.3"/><circle cx="1301.28" cy="1329.78" r="5.3"/><circle cx="1307.08" cy="1334.97" r="5.3"/><circle cx="1312.94" cy="1337.97" r="5.3"/><circle cx="1316.89" cy="1339.03" r="5.3"/><circle cx="1323.31" cy="1344.15" r="5.3"/><circle cx="1328.31" cy="1349.03" r="5.3"/><circle cx="1331.38" cy="1352.36" r="5.3"/><circle cx="1335.68" cy="1355.37" r="5.3"/><circle cx="1340.47" cy="1359.94" r="5.3"/><circle cx="1342.82" cy="1364.97" r="5.3"/><circle cx="1347.76" cy="1371.28" r="5.3"/><circle cx="1351.7" cy="1375.55" r="5.3"/><circle cx="1354.25" cy="1379.67" r="5.3"/><circle cx="1358.18" cy="1388.09" r="5.3"/><circle cx="1359.07" cy="1390.02" r="5.3"/><circle cx="1361.75" cy="1395.26" r="5.3"/><circle cx="1366.17" cy="1403.2" r="5.3"/><circle cx="1368.17" cy="1406.48" r="5.3"/><circle cx="1371.11" cy="1412.36" r="5.3"/><circle cx="1373.6" cy="1415.36" r="5.3"/><circle cx="1378.33" cy="1419.4" r="5.3"/><circle cx="1384.95" cy="1422.4" r="5.3"/><circle cx="1388.16" cy="1420.78" r="5.3"/><circle cx="1395.77" cy="1413.46" r="5.3"/><circle cx="1398.97" cy="1408.98" r="5.3"/><circle cx="1400.46" cy="1406.23" r="5.3"/><circle cx="1403.51" cy="1399.2" r="5.3"/><circle cx="1406.86" cy="1393.12" r="5.3"/><circle cx="1410.81" cy="1385.72" r="5.3"/><circle cx="1412.05" cy="1383.13" r="5.3"/><circle cx="1415.37" cy="1376.65" r="5.3"/><circle cx="1417.96" cy="1371.06" r="5.3"/><circle cx="1419.78" cy="1364.57" r="5.3"/><circle cx="1420.55" cy="1359.97" r="5.3"/><circle cx="1423.62" cy="1353.36" r="5.3"/><circle cx="1424.17" cy="1350.38" r="5.3"/><circle cx="1428.3" cy="1341.11" r="5.3"/><circle cx="1430.64" cy="1337.3" r="5.3"/><circle cx="1433.28" cy="1334.06" r="5.3"/><circle cx="1435.62" cy="1329.19" r="5.3"/><circle cx="1442.65" cy="1326.68" r="5.3"/></g>
<line x1="1346.3" y1="945" x2="1346.3" y2="1471" stroke="#000" stroke-width="2.8" stroke-dasharray="2.8 7.6"/>
<line x1="1008.4" y1="1207.9" x2="1601.8" y2="1207.9" stroke="#000" stroke-width="2.6" stroke-dasharray="2.6 2.9"/>
<circle cx="1201.6" cy="1087.2" r="5.6" fill="#ff0000" stroke="none" stroke-width="0" />
<circle cx="1207.7" cy="1087.2" r="5.6" fill="#2b3d8f" stroke="none" stroke-width="0" />
<circle cx="1281.4" cy="1087.2" r="5.6" fill="#6a1b8a" stroke="none" stroke-width="0" />
<circle cx="1314" cy="1087.2" r="5.6" fill="#c5003e" stroke="none" stroke-width="0" />
<circle cx="1322.5" cy="1087.2" r="5.6" fill="#0b8a8a" stroke="none" stroke-width="0" />
<circle cx="1338.4" cy="1087.2" r="5.6" fill="#5e54a8" stroke="none" stroke-width="0" />
<circle cx="1353.8" cy="1087.2" r="5.6" fill="#109a4e" stroke="none" stroke-width="0" />
<circle cx="1404" cy="1087.2" r="5.6" fill="#b00a60" stroke="none" stroke-width="0" />
<circle cx="1296.9" cy="1327.9" r="5.6" fill="#0b8a8a" stroke="none" stroke-width="0" />
<circle cx="1318.6" cy="1327.9" r="5.6" fill="#5e54a8" stroke="none" stroke-width="0" />
<circle cx="1329.4" cy="1327.9" r="5.6" fill="#c5003e" stroke="none" stroke-width="0" />
<circle cx="1350" cy="1327.9" r="5.6" fill="#ff0000" stroke="none" stroke-width="0" />
<circle cx="1374.4" cy="1327.9" r="5.6" fill="#2b3d8f" stroke="none" stroke-width="0" />
<circle cx="1389.5" cy="1327.9" r="5.6" fill="#109a4e" stroke="none" stroke-width="0" />
<circle cx="1380.1" cy="1327.9" r="5.6" fill="#b00a60" stroke="none" stroke-width="0" />
<circle cx="1391.5" cy="1327.9" r="5.6" fill="#6a1b8a" stroke="none" stroke-width="0" />
<g><rect x="1096.5" y="1102.6" width="91.8" height="33" rx="4.5" fill="#fff" stroke="#ff0000" stroke-width="1.5"/><text x="1142.4" y="1126.7" font-size="21.2" stroke="#ff0000" stroke-width="0.25" text-anchor="middle" fill="#ff0000">BRCA2</text></g>
<g><rect x="1202.4" y="1102.6" width="83.9" height="33" rx="4.5" fill="#fff" stroke="#6a1b8a" stroke-width="1.5"/><text x="1244.35" y="1126.7" font-size="21.2" stroke="#6a1b8a" stroke-width="0.25" text-anchor="middle" fill="#6a1b8a">PALB2</text></g>
<g><rect x="1300.4" y="1102.6" width="78.1" height="33" rx="4.5" fill="#fff" stroke="#0b8a8a" stroke-width="1.5"/><text x="1339.45" y="1126.7" font-size="21.2" stroke="#0b8a8a" stroke-width="0.25" text-anchor="middle" fill="#0b8a8a">POLH</text></g>
<g opacity="0.45"><rect x="1392.2" y="1102.6" width="89.6" height="33" rx="4.5" fill="#fff" stroke="#b00a60" stroke-width="1.5"/><text x="1437" y="1126.7" font-size="21.2" stroke="#b00a60" stroke-width="0.25" text-anchor="middle" fill="#b00a60">SHLD2</text></g>
<g><rect x="1142.9" y="1150" width="91.8" height="33" rx="4.5" fill="#fff" stroke="#2b3d8f" stroke-width="1.5"/><text x="1188.8" y="1174.1" font-size="21.2" stroke="#2b3d8f" stroke-width="0.25" text-anchor="middle" fill="#2b3d8f">BRCA1</text></g>
<g><rect x="1248.3" y="1150" width="75.1" height="33" rx="4.5" fill="#fff" stroke="#c5003e" stroke-width="1.5"/><text x="1285.85" y="1174.1" font-size="21.2" stroke="#c5003e" stroke-width="0.25" text-anchor="middle" fill="#c5003e">POT1</text></g>
<g><rect x="1337.5" y="1150" width="87.8" height="33" rx="4.5" fill="#fff" stroke="#5e54a8" stroke-width="1.5"/><text x="1381.4" y="1174.1" font-size="21.2" stroke="#5e54a8" stroke-width="0.25" text-anchor="middle" fill="#5e54a8">REV3L</text></g>
<g opacity="0.45"><rect x="1438.5" y="1150" width="104.6" height="33" rx="4.5" fill="#fff" stroke="#109a4e" stroke-width="1.5"/><text x="1490.8" y="1174.1" font-size="21.2" stroke="#109a4e" stroke-width="0.25" text-anchor="middle" fill="#109a4e">MAD2L2</text></g>
<g><rect x="1222.7" y="1335" width="77.7" height="33.1" rx="4.5" fill="#fff" stroke="#0b8a8a" stroke-width="1.5"/><text x="1261.55" y="1359.15" font-size="21.2" stroke="#0b8a8a" stroke-width="0.25" text-anchor="middle" fill="#0b8a8a">POLH</text></g>
<g opacity="0.45"><rect x="1319.4" y="1335" width="91.8" height="33.1" rx="4.5" fill="#fff" stroke="#2b3d8f" stroke-width="1.5"/><text x="1365.3" y="1359.15" font-size="21.2" stroke="#2b3d8f" stroke-width="0.25" text-anchor="middle" fill="#2b3d8f">BRCA1</text></g>
<g opacity="0.45"><rect x="1424.9" y="1322.2" width="84.3" height="33.1" rx="4.5" fill="#fff" stroke="#6a1b8a" stroke-width="1.5"/><text x="1467.05" y="1346.35" font-size="21.2" stroke="#6a1b8a" stroke-width="0.25" text-anchor="middle" fill="#6a1b8a">PALB2</text></g>
<g><rect x="1164.9" y="1382.7" width="87" height="33.1" rx="4.5" fill="#fff" stroke="#5e54a8" stroke-width="1.5"/><text x="1208.4" y="1406.85" font-size="21.2" stroke="#5e54a8" stroke-width="0.25" text-anchor="middle" fill="#5e54a8">REV3L</text></g>
<g opacity="0.45"><rect x="1266.9" y="1382.7" width="91.3" height="33.1" rx="4.5" fill="#fff" stroke="#ff0000" stroke-width="1.5"/><text x="1312.55" y="1406.85" font-size="21.2" stroke="#ff0000" stroke-width="0.25" text-anchor="middle" fill="#ff0000">BRCA2</text></g>
<g opacity="0.45"><rect x="1425.3" y="1370" width="103.7" height="33" rx="4.5" fill="#fff" stroke="#109a4e" stroke-width="1.5"/><text x="1477.15" y="1394.1" font-size="21.2" stroke="#109a4e" stroke-width="0.25" text-anchor="middle" fill="#109a4e">MAD2L2</text></g>
<g><rect x="1232.5" y="1430.8" width="74.5" height="33.2" rx="4.5" fill="#fff" stroke="#c5003e" stroke-width="1.5"/><text x="1269.75" y="1455" font-size="21.2" stroke="#c5003e" stroke-width="0.25" text-anchor="middle" fill="#c5003e">POT1</text></g>
<g opacity="0.45"><rect x="1371.5" y="1417.6" width="89.1" height="33.1" rx="4.5" fill="#fff" stroke="#b00a60" stroke-width="1.5"/><text x="1416.05" y="1441.75" font-size="21.2" stroke="#b00a60" stroke-width="0.25" text-anchor="middle" fill="#b00a60">SHLD2</text></g>
<line x1="1201.6" y1="1087.2" x2="1188.3" y2="1106" stroke="#ff0000" stroke-width="2.6"/>
<line x1="1281.4" y1="1087.2" x2="1268.6" y2="1102.6" stroke="#6a1b8a" stroke-width="2.6"/>
<line x1="1322.5" y1="1087.2" x2="1334.2" y2="1102.6" stroke="#0b8a8a" stroke-width="2.6"/>
<line x1="1404" y1="1087.2" x2="1418.3" y2="1102.6" stroke="#b00a60" stroke-width="2.6" opacity="0.45"/>
<line x1="1207.7" y1="1087.2" x2="1189.2" y2="1150" stroke="#2b3d8f" stroke-width="2.6"/>
<line x1="1314" y1="1087.2" x2="1288.5" y2="1150" stroke="#c5003e" stroke-width="2.6"/>
<line x1="1338.4" y1="1087.2" x2="1374.5" y2="1150" stroke="#5e54a8" stroke-width="2.6"/>
<line x1="1353.8" y1="1087.2" x2="1438.5" y2="1164.6" stroke="#109a4e" stroke-width="2.6" opacity="0.45"/>


<line x1="1391.5" y1="1327.9" x2="1424.9" y2="1337.7" stroke="#6a1b8a" stroke-width="2.6" opacity="0.45"/>
<line x1="1318.6" y1="1327.9" x2="1251.9" y2="1396.4" stroke="#5e54a8" stroke-width="2.6"/>
<line x1="1350" y1="1327.9" x2="1317.2" y2="1382.7" stroke="#ff0000" stroke-width="2.6" opacity="0.45"/>
<line x1="1389.5" y1="1327.9" x2="1425.3" y2="1383" stroke="#109a4e" stroke-width="2.6" opacity="0.45"/>
<line x1="1329.4" y1="1327.9" x2="1273" y2="1430.8" stroke="#c5003e" stroke-width="2.6"/>
<line x1="1380.1" y1="1327.9" x2="1414.3" y2="1417.6" stroke="#b00a60" stroke-width="2.6" opacity="0.45"/>
<text x="1019" y="978" font-size="33.7" stroke="#000" stroke-width="0.3">Sensitization</text>
<text x="1355.7" y="978" font-size="33.7" stroke="#595959" stroke-width="0.3" fill="#595959">No sensitization</text>
<rect x="1007.4" y="942.2" width="594.4" height="528.8" fill="none" stroke="#2e2e2e" stroke-width="1.3" rx="0" />
<rect x="1007.4" y="901.3" width="594.4" height="40.9" fill="#d9d9d9" stroke="#2e2e2e" stroke-width="1.3" rx="0" />
<text x="1304.6" y="929.9" font-size="22.3" stroke="#1a1a1a" stroke-width="0.25" text-anchor="middle" fill="#1a1a1a">Olaparib</text>
<line x1="1041.6" y1="1468.5" x2="1041.6" y2="1475.5" stroke="#1a1a1a" stroke-width="2.8" />
<text x="1042.1" y="1503" font-size="21.6" stroke="#4d4d4d" stroke-width="0.25" text-anchor="middle" fill="#4d4d4d">−20</text>
<line x1="1212.1" y1="1468.5" x2="1212.1" y2="1475.5" stroke="#1a1a1a" stroke-width="2.8" />
<text x="1212.6" y="1501" font-size="21.6" stroke="#4d4d4d" stroke-width="0.25" text-anchor="middle" fill="#4d4d4d">−10</text>
<line x1="1384.3" y1="1468.5" x2="1384.3" y2="1475.5" stroke="#1a1a1a" stroke-width="2.8" />
<text x="1384.8" y="1499" font-size="21.6" stroke="#4d4d4d" stroke-width="0.25" text-anchor="middle" fill="#4d4d4d">0</text>
<line x1="1552.6" y1="1468.5" x2="1552.6" y2="1475.5" stroke="#1a1a1a" stroke-width="2.8" />
<text x="1553.1" y="1498" font-size="21.6" stroke="#4d4d4d" stroke-width="0.25" text-anchor="middle" fill="#4d4d4d">10</text>
<text x="1312.8" y="1529" font-size="35.3" stroke="#000" stroke-width="0.3" text-anchor="middle">DE Z score</text>
<text x="0" y="0" font-size="35" stroke="#000" stroke-width="0.3" text-anchor="middle" transform="translate(996.6 1078) rotate(-90)"><tspan font-style="italic">BRCA1</tspan><tspan font-style="italic" font-size="21.6" dy="-10.5">Wild-type</tspan></text>
<text x="0" y="0" font-size="35" stroke="#000" stroke-width="0.3" text-anchor="middle" transform="translate(996.6 1329.5) rotate(-90)"><tspan font-style="italic">BRCA1</tspan><tspan font-style="italic" font-size="21.6" dy="-10.5">–/–</tspan></text>
</g>
<g id="panel-i">
<text x="-0.5" y="1593" font-size="42.5" stroke="#000" stroke-width="0.3" font-weight="bold" letter-spacing="1.2">i.</text>
<line x1="90" y1="1713.34" x2="90" y2="2033" stroke="#000" stroke-width="2.2" />
<line x1="88.9" y1="2031.9" x2="519.8" y2="2031.9" stroke="#000" stroke-width="2.2" />
<line x1="84" y1="2031.9" x2="90" y2="2031.9" stroke="#000" stroke-width="1.8" />
<text x="82.3" y="2037.3" font-size="14.6" stroke="#000" stroke-width="0.24" text-anchor="end" font-weight="bold">0.0</text>
<line x1="84" y1="1978.94" x2="90" y2="1978.94" stroke="#000" stroke-width="1.8" />
<text x="82.3" y="1984.34" font-size="14.6" stroke="#000" stroke-width="0.24" text-anchor="end" font-weight="bold">0.2</text>
<line x1="84" y1="1925.98" x2="90" y2="1925.98" stroke="#000" stroke-width="1.8" />
<text x="82.3" y="1931.38" font-size="14.6" stroke="#000" stroke-width="0.24" text-anchor="end" font-weight="bold">0.4</text>
<line x1="84" y1="1873.02" x2="90" y2="1873.02" stroke="#000" stroke-width="1.8" />
<text x="82.3" y="1878.42" font-size="14.6" stroke="#000" stroke-width="0.24" text-anchor="end" font-weight="bold">0.6</text>
<line x1="84" y1="1820.06" x2="90" y2="1820.06" stroke="#000" stroke-width="1.8" />
<text x="82.3" y="1825.46" font-size="14.6" stroke="#000" stroke-width="0.24" text-anchor="end" font-weight="bold">0.8</text>
<line x1="84" y1="1767.1" x2="90" y2="1767.1" stroke="#000" stroke-width="1.8" />
<text x="82.3" y="1772.5" font-size="14.6" stroke="#000" stroke-width="0.24" text-anchor="end" font-weight="bold">1.0</text>
<line x1="84" y1="1714.14" x2="90" y2="1714.14" stroke="#000" stroke-width="1.8" />
<text x="82.3" y="1719.54" font-size="14.6" stroke="#000" stroke-width="0.24" text-anchor="end" font-weight="bold">1.2</text>
<line x1="102.21" y1="2031.9" x2="102.21" y2="2035.1" stroke="#000" stroke-width="1.5" />
<line x1="114.09" y1="2031.9" x2="114.09" y2="2035.1" stroke="#000" stroke-width="1.5" />
<line x1="123.8" y1="2031.9" x2="123.8" y2="2035.1" stroke="#000" stroke-width="1.5" />
<line x1="132.01" y1="2031.9" x2="132.01" y2="2035.1" stroke="#000" stroke-width="1.5" />
<line x1="139.12" y1="2031.9" x2="139.12" y2="2035.1" stroke="#000" stroke-width="1.5" />
<line x1="145.39" y1="2031.9" x2="145.39" y2="2035.1" stroke="#000" stroke-width="1.5" />
<line x1="151" y1="2031.9" x2="151" y2="2037.4" stroke="#000" stroke-width="1.8" />
<line x1="187.91" y1="2031.9" x2="187.91" y2="2035.1" stroke="#000" stroke-width="1.5" />
<line x1="209.5" y1="2031.9" x2="209.5" y2="2035.1" stroke="#000" stroke-width="1.5" />
<line x1="224.81" y1="2031.9" x2="224.81" y2="2035.1" stroke="#000" stroke-width="1.5" />
<line x1="236.69" y1="2031.9" x2="236.69" y2="2035.1" stroke="#000" stroke-width="1.5" />
<line x1="246.4" y1="2031.9" x2="246.4" y2="2035.1" stroke="#000" stroke-width="1.5" />
<line x1="254.61" y1="2031.9" x2="254.61" y2="2035.1" stroke="#000" stroke-width="1.5" />
<line x1="261.72" y1="2031.9" x2="261.72" y2="2035.1" stroke="#000" stroke-width="1.5" />
<line x1="267.99" y1="2031.9" x2="267.99" y2="2035.1" stroke="#000" stroke-width="1.5" />
<line x1="273.6" y1="2031.9" x2="273.6" y2="2037.4" stroke="#000" stroke-width="1.8" />
<line x1="310.51" y1="2031.9" x2="310.51" y2="2035.1" stroke="#000" stroke-width="1.5" />
<line x1="332.1" y1="2031.9" x2="332.1" y2="2035.1" stroke="#000" stroke-width="1.5" />
<line x1="347.41" y1="2031.9" x2="347.41" y2="2035.1" stroke="#000" stroke-width="1.5" />
<line x1="359.29" y1="2031.9" x2="359.29" y2="2035.1" stroke="#000" stroke-width="1.5" />
<line x1="369" y1="2031.9" x2="369" y2="2035.1" stroke="#000" stroke-width="1.5" />
<line x1="377.21" y1="2031.9" x2="377.21" y2="2035.1" stroke="#000" stroke-width="1.5" />
<line x1="384.32" y1="2031.9" x2="384.32" y2="2035.1" stroke="#000" stroke-width="1.5" />
<line x1="390.59" y1="2031.9" x2="390.59" y2="2035.1" stroke="#000" stroke-width="1.5" />
<line x1="396.2" y1="2031.9" x2="396.2" y2="2037.4" stroke="#000" stroke-width="1.8" />
<line x1="433.11" y1="2031.9" x2="433.11" y2="2035.1" stroke="#000" stroke-width="1.5" />
<line x1="454.7" y1="2031.9" x2="454.7" y2="2035.1" stroke="#000" stroke-width="1.5" />
<line x1="470.01" y1="2031.9" x2="470.01" y2="2035.1" stroke="#000" stroke-width="1.5" />
<line x1="481.89" y1="2031.9" x2="481.89" y2="2035.1" stroke="#000" stroke-width="1.5" />
<line x1="491.6" y1="2031.9" x2="491.6" y2="2035.1" stroke="#000" stroke-width="1.5" />
<line x1="499.81" y1="2031.9" x2="499.81" y2="2035.1" stroke="#000" stroke-width="1.5" />
<line x1="506.92" y1="2031.9" x2="506.92" y2="2035.1" stroke="#000" stroke-width="1.5" />
<line x1="513.19" y1="2031.9" x2="513.19" y2="2035.1" stroke="#000" stroke-width="1.5" />
<line x1="518.8" y1="2031.9" x2="518.8" y2="2037.4" stroke="#000" stroke-width="1.8" />
<text x="151" y="2054" font-size="14.6" stroke="#000" stroke-width="0.24" text-anchor="middle" font-weight="bold">0.01</text>
<text x="273.6" y="2054" font-size="14.6" stroke="#000" stroke-width="0.24" text-anchor="middle" font-weight="bold">0.1</text>
<text x="396.2" y="2054" font-size="14.6" stroke="#000" stroke-width="0.24" text-anchor="middle" font-weight="bold">1</text>
<text x="518.8" y="2054" font-size="14.6" stroke="#000" stroke-width="0.24" text-anchor="middle" font-weight="bold">10</text>
<text x="304.4" y="2083.2" font-size="19.3" stroke="#000" stroke-width="0.35" text-anchor="middle" textLength="117" lengthAdjust="spacingAndGlyphs">[ART558] μM</text>
<text x="0" y="0" font-size="21.2" stroke="#000" stroke-width="0.35" text-anchor="middle" transform="translate(46.5 1872.7) rotate(-90)">Surviving fraction</text>
<path d="M140.5 1790.93V1843.89M135.7 1790.93H145.3M135.7 1843.89H145.3" stroke="#000" stroke-width="2.1" fill="none"/>
<path d="M199.2 1831.98V1850.51M194.4 1831.98H204M194.4 1850.51H204" stroke="#000" stroke-width="2.1" fill="none"/>
<path d="M257.8 1817.41V1870.37M253 1817.41H262.6M253 1870.37H262.6" stroke="#000" stroke-width="2.1" fill="none"/>
<path d="M316 1780.34V1818.74M311.2 1780.34H320.8M311.2 1818.74H320.8" stroke="#000" stroke-width="2.1" fill="none"/>
<path d="M374.6 1801.52V1843.89M369.8 1801.52H379.4M369.8 1843.89H379.4" stroke="#000" stroke-width="2.1" fill="none"/>
<path d="M433.3 1839.92V1886.26M428.5 1839.92H438.1M428.5 1886.26H438.1" stroke="#000" stroke-width="2.1" fill="none"/>
<path d="M491.5 1918.04V1931.28M486.7 1918.04H496.3M486.7 1931.28H496.3" stroke="#000" stroke-width="2.1" fill="none"/>
<path d="M140.5 1785.64V1804.17M135.7 1785.64H145.3M135.7 1804.17H145.3" stroke="#c21fd6" stroke-width="2.1" fill="none"/>
<path d="M199.2 1851.84V1891.56M194.4 1851.84H204M194.4 1891.56H204" stroke="#c21fd6" stroke-width="2.1" fill="none"/>
<path d="M257.8 1820.06V1843.89M253 1820.06H262.6M253 1843.89H262.6" stroke="#c21fd6" stroke-width="2.1" fill="none"/>
<path d="M316 1855.81V1866.4M311.2 1855.81H320.8M311.2 1866.4H320.8" stroke="#c21fd6" stroke-width="2.1" fill="none"/>
<path d="M374.6 1956.43V1977.62M369.8 1956.43H379.4M369.8 1977.62H379.4" stroke="#c21fd6" stroke-width="2.1" fill="none"/>
<path d="M140.5 1826.68V1879.64M135.7 1826.68H145.3M135.7 1879.64H145.3" stroke="#0505ff" stroke-width="2.1" fill="none"/>
<path d="M199.2 1831.98V1882.29M194.4 1831.98H204M194.4 1882.29H204" stroke="#0505ff" stroke-width="2.1" fill="none"/>
<path d="M257.8 1793.58V1833.3M253 1793.58H262.6M253 1833.3H262.6" stroke="#0505ff" stroke-width="2.1" fill="none"/>
<path d="M374.6 1963.05V1973.64M369.8 1963.05H379.4M369.8 1973.64H379.4" stroke="#0505ff" stroke-width="2.1" fill="none"/>
<path d="M140.5 1785.64V1825.36M135.7 1785.64H145.3M135.7 1825.36H145.3" stroke="#a437e0" stroke-width="2.1" fill="none"/>
<path d="M199.2 1801.52V1841.24M194.4 1801.52H204M194.4 1841.24H204" stroke="#a437e0" stroke-width="2.1" fill="none"/>
<path d="M257.8 1786.96V1838.6M253 1786.96H262.6M253 1838.6H262.6" stroke="#a437e0" stroke-width="2.1" fill="none"/>
<path d="M316 1753.86V1792.26M311.2 1753.86H320.8M311.2 1792.26H320.8" stroke="#a437e0" stroke-width="2.1" fill="none"/>
<path d="M374.6 1846.54V1861.1M369.8 1846.54H379.4M369.8 1861.1H379.4" stroke="#a437e0" stroke-width="2.1" fill="none"/>
<path d="M433.3 1870.37V1902.15M428.5 1870.37H438.1M428.5 1902.15H438.1" stroke="#a437e0" stroke-width="2.1" fill="none"/>
<path d="M491.5 1875.67V1906.12M486.7 1875.67H496.3M486.7 1906.12H496.3" stroke="#a437e0" stroke-width="2.1" fill="none"/>
<path d="M140.5 1779.02V1826.68M135.7 1779.02H145.3M135.7 1826.68H145.3" stroke="#0a0aff" stroke-width="2.1" fill="none"/>
<path d="M199.2 1789.61V1839.92M194.4 1789.61H204M194.4 1839.92H204" stroke="#0a0aff" stroke-width="2.1" fill="none"/>
<path d="M257.8 1784.31V1829.33M253 1784.31H262.6M253 1829.33H262.6" stroke="#0a0aff" stroke-width="2.1" fill="none"/>
<path d="M316 1753.33V1790.4M311.2 1753.33H320.8M311.2 1790.4H320.8" stroke="#0a0aff" stroke-width="2.1" fill="none"/>
<path d="M433.3 1869.05V1895.53M428.5 1869.05H438.1M428.5 1895.53H438.1" stroke="#0a0aff" stroke-width="2.1" fill="none"/>
<path d="M491.5 1875.14V1903.47M486.7 1875.14H496.3M486.7 1903.47H496.3" stroke="#0a0aff" stroke-width="2.1" fill="none"/>
<path d="M140.5 1808.14 L144.01 1809.8 L147.52 1811.43 L151.03 1813.05 L154.54 1814.66 L158.05 1816.27 L161.56 1817.87 L165.07 1819.48 L168.58 1821.09 L172.09 1822.71 L175.6 1824.34 L179.11 1825.99 L182.62 1827.66 L186.13 1829.36 L189.64 1831.08 L193.15 1832.84 L196.66 1834.63 L200.17 1836.46 L203.68 1838.33 L207.19 1840.24 L210.7 1842.19 L214.21 1844.17 L217.72 1846.19 L221.23 1848.23 L224.74 1850.29 L228.25 1852.38 L231.76 1854.48 L235.27 1856.6 L238.78 1858.73 L242.29 1860.87 L245.8 1863.02 L249.31 1865.17 L252.82 1867.32 L256.33 1869.47 L259.84 1871.62 L263.35 1873.78 L266.86 1875.95 L270.37 1878.14 L273.88 1880.33 L277.39 1882.54 L280.9 1884.76 L284.41 1886.99 L287.92 1889.23 L291.43 1891.48 L294.94 1893.73 L298.45 1896 L301.96 1898.27 L305.47 1900.56 L308.98 1902.85 L312.49 1905.14 L316 1907.44 L319.51 1909.77 L323.02 1912.13 L326.53 1914.53 L330.04 1916.95 L333.55 1919.39 L337.06 1921.84 L340.57 1924.3 L344.08 1926.75 L347.59 1929.2 L351.1 1931.64 L354.61 1934.06 L358.12 1936.45 L361.63 1938.81 L365.14 1941.14 L368.65 1943.42 L372.16 1945.65 L375.67 1947.82 L379.18 1949.98 L382.69 1952.14 L386.2 1954.29 L389.71 1956.42 L393.22 1958.54 L396.73 1960.63 L400.24 1962.71 L403.75 1964.75 L407.26 1966.76 L410.77 1968.74 L414.28 1970.67 L417.79 1972.56 L421.3 1974.4 L424.81 1976.18 L428.32 1977.91 L431.83 1979.58 L435.34 1981.19 L438.85 1982.74 L442.36 1984.23 L445.87 1985.68 L449.38 1987.09 L452.89 1988.46 L456.4 1989.8 L459.91 1991.12 L463.42 1992.42 L466.93 1993.7 L470.44 1994.98 L473.95 1996.25 L477.46 1997.53 L480.97 1998.81 L484.48 2000.11 L487.99 2001.43 L491.5 2002.77" stroke="#0505ff" stroke-width="2.1" fill="none" stroke-linejoin="round" stroke-dasharray="7 3"/>
<path d="M140.5 1790.93 L144.01 1792.5 L147.52 1794.04 L151.03 1795.56 L154.54 1797.07 L158.05 1798.57 L161.56 1800.07 L165.07 1801.56 L168.58 1803.07 L172.09 1804.59 L175.6 1806.13 L179.11 1807.69 L182.62 1809.29 L186.13 1810.92 L189.64 1812.59 L193.15 1814.31 L196.66 1816.09 L200.17 1817.92 L203.68 1819.82 L207.19 1821.76 L210.7 1823.75 L214.21 1825.8 L217.72 1827.88 L221.23 1830.02 L224.74 1832.2 L228.25 1834.42 L231.76 1836.68 L235.27 1838.97 L238.78 1841.3 L242.29 1843.67 L245.8 1846.07 L249.31 1848.5 L252.82 1850.95 L256.33 1853.44 L259.84 1855.95 L263.35 1858.54 L266.86 1861.2 L270.37 1863.93 L273.88 1866.71 L277.39 1869.54 L280.9 1872.41 L284.41 1875.33 L287.92 1878.27 L291.43 1881.24 L294.94 1884.22 L298.45 1887.22 L301.96 1890.22 L305.47 1893.22 L308.98 1896.22 L312.49 1899.19 L316 1902.15 L319.51 1905.12 L323.02 1908.16 L326.53 1911.25 L330.04 1914.37 L333.55 1917.52 L337.06 1920.69 L340.57 1923.86 L344.08 1927.02 L347.59 1930.16 L351.1 1933.27 L354.61 1936.34 L358.12 1939.36 L361.63 1942.31 L365.14 1945.18 L368.65 1947.97 L372.16 1950.66 L375.67 1953.24 L379.18 1955.78 L382.69 1958.29 L386.2 1960.78 L389.71 1963.24 L393.22 1965.67 L396.73 1968.05 L400.24 1970.39 L403.75 1972.69 L407.26 1974.93 L410.77 1977.12 L414.28 1979.24 L417.79 1981.3 L421.3 1983.3 L424.81 1985.22 L428.32 1987.06 L431.83 1988.82 L435.34 1990.5 L438.85 1992.1 L442.36 1993.64 L445.87 1995.11 L449.38 1996.53 L452.89 1997.91 L456.4 1999.25 L459.91 2000.55 L463.42 2001.83 L466.93 2003.09 L470.44 2004.35 L473.95 2005.6 L477.46 2006.85 L480.97 2008.11 L484.48 2009.39 L487.99 2010.7 L491.5 2012.04" stroke="#c21fd6" stroke-width="2.1" fill="none" stroke-linejoin="round" stroke-dasharray="7 3"/>
<path d="M140.5 1805.5 L144.01 1806.05 L147.52 1806.59 L151.03 1807.13 L154.54 1807.66 L158.05 1808.19 L161.56 1808.72 L165.07 1809.26 L168.58 1809.79 L172.09 1810.33 L175.6 1810.87 L179.11 1811.42 L182.62 1811.98 L186.13 1812.54 L189.64 1813.12 L193.15 1813.71 L196.66 1814.32 L200.17 1814.94 L203.68 1815.57 L207.19 1816.23 L210.7 1816.89 L214.21 1817.57 L217.72 1818.26 L221.23 1818.97 L224.74 1819.68 L228.25 1820.4 L231.76 1821.13 L235.27 1821.86 L238.78 1822.61 L242.29 1823.35 L245.8 1824.1 L249.31 1824.86 L252.82 1825.61 L256.33 1826.36 L259.84 1827.12 L263.35 1827.88 L266.86 1828.65 L270.37 1829.42 L273.88 1830.2 L277.39 1830.98 L280.9 1831.77 L284.41 1832.57 L287.92 1833.37 L291.43 1834.17 L294.94 1834.98 L298.45 1835.79 L301.96 1836.61 L305.47 1837.43 L308.98 1838.26 L312.49 1839.09 L316 1839.92 L319.51 1840.76 L323.02 1841.6 L326.53 1842.44 L330.04 1843.29 L333.55 1844.15 L337.06 1845.01 L340.57 1845.87 L344.08 1846.74 L347.59 1847.61 L351.1 1848.49 L354.61 1849.37 L358.12 1850.26 L361.63 1851.15 L365.14 1852.05 L368.65 1852.95 L372.16 1853.85 L375.67 1854.76 L379.18 1855.67 L382.69 1856.58 L386.2 1857.5 L389.71 1858.41 L393.22 1859.33 L396.73 1860.26 L400.24 1861.19 L403.75 1862.13 L407.26 1863.07 L410.77 1864.02 L414.28 1864.98 L417.79 1865.95 L421.3 1866.93 L424.81 1867.93 L428.32 1868.93 L431.83 1869.94 L435.34 1870.97 L438.85 1872.02 L442.36 1873.09 L445.87 1874.18 L449.38 1875.28 L452.89 1876.39 L456.4 1877.51 L459.91 1878.64 L463.42 1879.78 L466.93 1880.93 L470.44 1882.08 L473.95 1883.22 L477.46 1884.37 L480.97 1885.51 L484.48 1886.65 L487.99 1887.78 L491.5 1888.91" stroke="#000" stroke-width="2.1" fill="none" stroke-linejoin="round" />
<path d="M140.5 1786.96 L144.01 1787.43 L147.52 1787.89 L151.03 1788.34 L154.54 1788.79 L158.05 1789.24 L161.56 1789.68 L165.07 1790.12 L168.58 1790.57 L172.09 1791.02 L175.6 1791.48 L179.11 1791.95 L182.62 1792.43 L186.13 1792.92 L189.64 1793.43 L193.15 1793.95 L196.66 1794.5 L200.17 1795.06 L203.68 1795.65 L207.19 1796.26 L210.7 1796.89 L214.21 1797.53 L217.72 1798.2 L221.23 1798.88 L224.74 1799.58 L228.25 1800.29 L231.76 1801.02 L235.27 1801.77 L238.78 1802.52 L242.29 1803.29 L245.8 1804.07 L249.31 1804.87 L252.82 1805.67 L256.33 1806.48 L259.84 1807.3 L263.35 1808.14 L266.86 1809 L270.37 1809.88 L273.88 1810.78 L277.39 1811.7 L280.9 1812.63 L284.41 1813.58 L287.92 1814.54 L291.43 1815.52 L294.94 1816.51 L298.45 1817.52 L301.96 1818.54 L305.47 1819.56 L308.98 1820.6 L312.49 1821.65 L316 1822.71 L319.51 1823.78 L323.02 1824.87 L326.53 1825.99 L330.04 1827.12 L333.55 1828.26 L337.06 1829.43 L340.57 1830.61 L344.08 1831.8 L347.59 1833 L351.1 1834.22 L354.61 1835.45 L358.12 1836.68 L361.63 1837.93 L365.14 1839.18 L368.65 1840.43 L372.16 1841.69 L375.67 1842.95 L379.18 1844.22 L382.69 1845.51 L386.2 1846.8 L389.71 1848.1 L393.22 1849.41 L396.73 1850.73 L400.24 1852.06 L403.75 1853.4 L407.26 1854.75 L410.77 1856.11 L414.28 1857.48 L417.79 1858.86 L421.3 1860.25 L424.81 1861.65 L428.32 1863.06 L431.83 1864.48 L435.34 1865.91 L438.85 1867.36 L442.36 1868.83 L445.87 1870.31 L449.38 1871.81 L452.89 1873.32 L456.4 1874.84 L459.91 1876.38 L463.42 1877.91 L466.93 1879.46 L470.44 1881 L473.95 1882.55 L477.46 1884.1 L480.97 1885.64 L484.48 1887.18 L487.99 1888.71 L491.5 1890.23" stroke="#0a0aff" stroke-width="2.1" fill="none" stroke-linejoin="round" />
<path d="M140.5 1789.61 L144.01 1790.16 L147.52 1790.7 L151.03 1791.24 L154.54 1791.77 L158.05 1792.31 L161.56 1792.84 L165.07 1793.37 L168.58 1793.9 L172.09 1794.44 L175.6 1794.98 L179.11 1795.53 L182.62 1796.09 L186.13 1796.66 L189.64 1797.23 L193.15 1797.82 L196.66 1798.43 L200.17 1799.05 L203.68 1799.68 L207.19 1800.32 L210.7 1800.97 L214.21 1801.63 L217.72 1802.3 L221.23 1802.98 L224.74 1803.67 L228.25 1804.38 L231.76 1805.09 L235.27 1805.82 L238.78 1806.56 L242.29 1807.31 L245.8 1808.08 L249.31 1808.85 L252.82 1809.65 L256.33 1810.45 L259.84 1811.27 L263.35 1812.11 L266.86 1812.97 L270.37 1813.85 L273.88 1814.75 L277.39 1815.67 L280.9 1816.6 L284.41 1817.55 L287.92 1818.51 L291.43 1819.49 L294.94 1820.49 L298.45 1821.49 L301.96 1822.51 L305.47 1823.54 L308.98 1824.57 L312.49 1825.62 L316 1826.68 L319.51 1827.75 L323.02 1828.85 L326.53 1829.97 L330.04 1831.11 L333.55 1832.27 L337.06 1833.45 L340.57 1834.64 L344.08 1835.84 L347.59 1837.06 L351.1 1838.28 L354.61 1839.51 L358.12 1840.74 L361.63 1841.98 L365.14 1843.22 L368.65 1844.45 L372.16 1845.69 L375.67 1846.91 L379.18 1848.14 L382.69 1849.38 L386.2 1850.62 L389.71 1851.86 L393.22 1853.11 L396.73 1854.36 L400.24 1855.62 L403.75 1856.89 L407.26 1858.15 L410.77 1859.43 L414.28 1860.7 L417.79 1861.99 L421.3 1863.28 L424.81 1864.57 L428.32 1865.87 L431.83 1867.18 L435.34 1868.49 L438.85 1869.81 L442.36 1871.14 L445.87 1872.48 L449.38 1873.83 L452.89 1875.19 L456.4 1876.55 L459.91 1877.91 L463.42 1879.28 L466.93 1880.65 L470.44 1882.02 L473.95 1883.4 L477.46 1884.77 L480.97 1886.14 L484.48 1887.51 L487.99 1888.87 L491.5 1890.23" stroke="#a437e0" stroke-width="2.1" fill="none" stroke-linejoin="round" />
<circle cx="140.5" cy="1849.19" r="4.1" fill="#0505ff" stroke="none" stroke-width="0" />
<circle cx="199.2" cy="1857.13" r="4.1" fill="#0505ff" stroke="none" stroke-width="0" />
<circle cx="257.8" cy="1813.44" r="4.1" fill="#0505ff" stroke="none" stroke-width="0" />
<circle cx="316" cy="1876.2" r="4.1" fill="#0505ff" stroke="none" stroke-width="0" />
<circle cx="374.6" cy="1967.02" r="4.1" fill="#0505ff" stroke="none" stroke-width="0" />
<circle cx="433.3" cy="2005.42" r="4.1" fill="#0505ff" stroke="none" stroke-width="0" />
<circle cx="491.5" cy="2015.22" r="4.1" fill="#0505ff" stroke="none" stroke-width="0" />
<circle cx="140.5" cy="1802.85" r="4.1" fill="#0a0aff" stroke="none" stroke-width="0" />
<circle cx="199.2" cy="1814.76" r="4.1" fill="#0a0aff" stroke="none" stroke-width="0" />
<circle cx="257.8" cy="1806.82" r="4.1" fill="#0a0aff" stroke="none" stroke-width="0" />
<circle cx="316" cy="1771.07" r="4.1" fill="#0a0aff" stroke="none" stroke-width="0" />
<circle cx="374.6" cy="1851.84" r="4.1" fill="#0a0aff" stroke="none" stroke-width="0" />
<circle cx="433.3" cy="1882.29" r="4.1" fill="#0a0aff" stroke="none" stroke-width="0" />
<circle cx="491.5" cy="1891.56" r="4.1" fill="#0a0aff" stroke="none" stroke-width="0" />
<circle cx="140.5" cy="1817.41" r="4.1" fill="#000" stroke="none" stroke-width="0" />
<circle cx="199.2" cy="1841.24" r="4.1" fill="#000" stroke="none" stroke-width="0" />
<circle cx="257.8" cy="1843.89" r="4.1" fill="#000" stroke="none" stroke-width="0" />
<circle cx="316" cy="1800.2" r="4.1" fill="#000" stroke="none" stroke-width="0" />
<circle cx="374.6" cy="1822.71" r="4.1" fill="#000" stroke="none" stroke-width="0" />
<circle cx="433.3" cy="1862.43" r="4.1" fill="#000" stroke="none" stroke-width="0" />
<circle cx="491.5" cy="1924.66" r="4.1" fill="#000" stroke="none" stroke-width="0" />
<circle cx="140.5" cy="1794.9" r="4.1" fill="#c21fd6" stroke="none" stroke-width="0" />
<circle cx="199.2" cy="1871.7" r="4.1" fill="#c21fd6" stroke="none" stroke-width="0" />
<circle cx="257.8" cy="1831.98" r="4.1" fill="#c21fd6" stroke="none" stroke-width="0" />
<circle cx="316" cy="1861.1" r="4.1" fill="#c21fd6" stroke="none" stroke-width="0" />
<circle cx="374.6" cy="1967.02" r="4.1" fill="#c21fd6" stroke="none" stroke-width="0" />
<circle cx="433.3" cy="2014.69" r="4.1" fill="#c21fd6" stroke="none" stroke-width="0" />
<circle cx="491.5" cy="2022.63" r="4.1" fill="#c21fd6" stroke="none" stroke-width="0" />
<circle cx="140.5" cy="1802.85" r="4.1" fill="#a437e0" stroke="none" stroke-width="0" />
<circle cx="199.2" cy="1821.38" r="4.1" fill="#a437e0" stroke="none" stroke-width="0" />
<circle cx="257.8" cy="1813.44" r="4.1" fill="#a437e0" stroke="none" stroke-width="0" />
<circle cx="316" cy="1773.72" r="4.1" fill="#a437e0" stroke="none" stroke-width="0" />
<circle cx="374.6" cy="1853.16" r="4.1" fill="#a437e0" stroke="none" stroke-width="0" />
<circle cx="433.3" cy="1886.26" r="4.1" fill="#a437e0" stroke="none" stroke-width="0" />
<circle cx="491.5" cy="1890.76" r="4.1" fill="#a437e0" stroke="none" stroke-width="0" />
<line x1="123" y1="1621.5" x2="146" y2="1621.5" stroke="#000" stroke-width="2.1" />
<circle cx="134.6" cy="1621.5" r="4.1" fill="#000" stroke="none" stroke-width="0" />
<text x="157.2" y="1628.6" font-size="18.6" stroke="#000" stroke-width="0.35">MDAMB436 (<tspan font-style="italic">BRCA1</tspan> mutant) Parental</text>
<line x1="123" y1="1649.3" x2="146" y2="1649.3" stroke="#c21fd6" stroke-width="2.1" stroke-dasharray="6 3"/>
<circle cx="134.6" cy="1649.3" r="4.1" fill="#c21fd6" stroke="none" stroke-width="0" />
<text x="157.2" y="1657.4" font-size="18.6" stroke="#000" stroke-width="0.35"><tspan font-style="italic">SHLD2</tspan><tspan font-style="italic" font-size="12.5" dy="-6.5">–/–</tspan><tspan dy="6.5"> clone G1</tspan></text>
<line x1="123" y1="1676.6" x2="146" y2="1676.6" stroke="#0505ff" stroke-width="2.1" stroke-dasharray="6 3"/>
<circle cx="134.6" cy="1676.6" r="4.1" fill="#0505ff" stroke="none" stroke-width="0" />
<text x="157.2" y="1684.7" font-size="18.6" stroke="#000" stroke-width="0.35"><tspan font-style="italic">SHLD2</tspan><tspan font-style="italic" font-size="12.5" dy="-6.5">–/–</tspan><tspan dy="6.5"> clone D1</tspan></text>
<line x1="123" y1="1703.9" x2="146" y2="1703.9" stroke="#a437e0" stroke-width="2.1" />
<circle cx="134.6" cy="1703.9" r="4.1" fill="#a437e0" stroke="none" stroke-width="0" />
<text x="157.2" y="1712.5" font-size="18.6" stroke="#000" stroke-width="0.35"><tspan font-style="italic">SHLD2</tspan><tspan font-style="italic" font-size="12.5" dy="-6.5">–/–</tspan><tspan dy="6.5"> clone G1 with restored SHLD2 expression</tspan></text>
<line x1="123" y1="1731.7" x2="146" y2="1731.7" stroke="#0a0aff" stroke-width="2.1" />
<circle cx="134.6" cy="1731.7" r="4.1" fill="#0a0aff" stroke="none" stroke-width="0" />
<text x="157.2" y="1739.8" font-size="18.6" stroke="#000" stroke-width="0.35"><tspan font-style="italic">SHLD2</tspan><tspan font-style="italic" font-size="12.5" dy="-6.5">–/–</tspan><tspan dy="6.5"> clone D1 with restored SHLD2 expression</tspan></text>
<text x="511.8" y="1597.5" font-size="18.5" stroke="#000" stroke-width="0.35" textLength="243" lengthAdjust="spacingAndGlyphs">Two-way ANOVA vs Parental:</text>
<text x="579.8" y="1627.5" font-size="18.3" stroke="#000" stroke-width="0.35" text-anchor="middle">-</text>
<text x="632.5" y="1656.4" font-size="18.3" stroke="#000" stroke-width="0.35" text-anchor="middle">&lt;0.0001</text>
<text x="632.5" y="1683.3" font-size="18.3" stroke="#000" stroke-width="0.35" text-anchor="middle">&lt;0.0001</text>
<text x="633.5" y="1713" font-size="18.3" stroke="#000" stroke-width="0.35" text-anchor="middle">0.2668</text>
<text x="633.5" y="1740.3" font-size="18.3" stroke="#000" stroke-width="0.35" text-anchor="middle">0.0977</text>
</g>
<g id="panel-j">
<text x="764" y="1594" font-size="42.5" stroke="#000" stroke-width="0.3" font-weight="bold" letter-spacing="1.2">j.</text>
<line x1="812.7" y1="1675.5" x2="812.7" y2="1987.8" stroke="#111" stroke-width="1.9" />
<line x1="811.7" y1="1986.8" x2="1253.3" y2="1986.8" stroke="#111" stroke-width="1.9" />
<line x1="806.7" y1="1986.8" x2="812.7" y2="1986.8" stroke="#111" stroke-width="1.6" />
<text x="804.5" y="1992.8" font-size="16.8" stroke="#000" stroke-width="0.28" text-anchor="end" font-weight="bold">0</text>
<line x1="806.7" y1="1909.15" x2="812.7" y2="1909.15" stroke="#111" stroke-width="1.6" />
<text x="804.5" y="1915.15" font-size="16.8" stroke="#000" stroke-width="0.28" text-anchor="end" font-weight="bold">2000</text>
<line x1="806.7" y1="1831.5" x2="812.7" y2="1831.5" stroke="#111" stroke-width="1.6" />
<text x="804.5" y="1837.5" font-size="16.8" stroke="#000" stroke-width="0.28" text-anchor="end" font-weight="bold">4000</text>
<line x1="806.7" y1="1753.85" x2="812.7" y2="1753.85" stroke="#111" stroke-width="1.6" />
<text x="804.5" y="1759.85" font-size="16.8" stroke="#000" stroke-width="0.28" text-anchor="end" font-weight="bold">6000</text>
<line x1="806.7" y1="1676.2" x2="812.7" y2="1676.2" stroke="#111" stroke-width="1.6" />
<text x="804.5" y="1682.2" font-size="16.8" stroke="#000" stroke-width="0.28" text-anchor="end" font-weight="bold">8000</text>
<line x1="812.7" y1="1986.8" x2="812.7" y2="1992.3" stroke="#111" stroke-width="1.6" />
<line x1="823.7" y1="1986.8" x2="823.7" y2="1989.8" stroke="#111" stroke-width="1.3" />
<line x1="834.7" y1="1986.8" x2="834.7" y2="1989.8" stroke="#111" stroke-width="1.3" />
<line x1="845.7" y1="1986.8" x2="845.7" y2="1989.8" stroke="#111" stroke-width="1.3" />
<line x1="856.7" y1="1986.8" x2="856.7" y2="1989.8" stroke="#111" stroke-width="1.3" />
<line x1="867.7" y1="1986.8" x2="867.7" y2="1992.3" stroke="#111" stroke-width="1.6" />
<line x1="878.7" y1="1986.8" x2="878.7" y2="1989.8" stroke="#111" stroke-width="1.3" />
<line x1="889.7" y1="1986.8" x2="889.7" y2="1989.8" stroke="#111" stroke-width="1.3" />
<line x1="900.7" y1="1986.8" x2="900.7" y2="1989.8" stroke="#111" stroke-width="1.3" />
<line x1="911.7" y1="1986.8" x2="911.7" y2="1989.8" stroke="#111" stroke-width="1.3" />
<line x1="922.7" y1="1986.8" x2="922.7" y2="1992.3" stroke="#111" stroke-width="1.6" />
<line x1="933.7" y1="1986.8" x2="933.7" y2="1989.8" stroke="#111" stroke-width="1.3" />
<line x1="944.7" y1="1986.8" x2="944.7" y2="1989.8" stroke="#111" stroke-width="1.3" />
<line x1="955.7" y1="1986.8" x2="955.7" y2="1989.8" stroke="#111" stroke-width="1.3" />
<line x1="966.7" y1="1986.8" x2="966.7" y2="1989.8" stroke="#111" stroke-width="1.3" />
<line x1="977.7" y1="1986.8" x2="977.7" y2="1992.3" stroke="#111" stroke-width="1.6" />
<line x1="988.7" y1="1986.8" x2="988.7" y2="1989.8" stroke="#111" stroke-width="1.3" />
<line x1="999.7" y1="1986.8" x2="999.7" y2="1989.8" stroke="#111" stroke-width="1.3" />
<line x1="1010.7" y1="1986.8" x2="1010.7" y2="1989.8" stroke="#111" stroke-width="1.3" />
<line x1="1021.7" y1="1986.8" x2="1021.7" y2="1989.8" stroke="#111" stroke-width="1.3" />
<line x1="1032.7" y1="1986.8" x2="1032.7" y2="1992.3" stroke="#111" stroke-width="1.6" />
<line x1="1043.7" y1="1986.8" x2="1043.7" y2="1989.8" stroke="#111" stroke-width="1.3" />
<line x1="1054.7" y1="1986.8" x2="1054.7" y2="1989.8" stroke="#111" stroke-width="1.3" />
<line x1="1065.7" y1="1986.8" x2="1065.7" y2="1989.8" stroke="#111" stroke-width="1.3" />
<line x1="1076.7" y1="1986.8" x2="1076.7" y2="1989.8" stroke="#111" stroke-width="1.3" />
<line x1="1087.7" y1="1986.8" x2="1087.7" y2="1992.3" stroke="#111" stroke-width="1.6" />
<line x1="1098.7" y1="1986.8" x2="1098.7" y2="1989.8" stroke="#111" stroke-width="1.3" />
<line x1="1109.7" y1="1986.8" x2="1109.7" y2="1989.8" stroke="#111" stroke-width="1.3" />
<line x1="1120.7" y1="1986.8" x2="1120.7" y2="1989.8" stroke="#111" stroke-width="1.3" />
<line x1="1131.7" y1="1986.8" x2="1131.7" y2="1989.8" stroke="#111" stroke-width="1.3" />
<line x1="1142.7" y1="1986.8" x2="1142.7" y2="1992.3" stroke="#111" stroke-width="1.6" />
<line x1="1153.7" y1="1986.8" x2="1153.7" y2="1989.8" stroke="#111" stroke-width="1.3" />
<line x1="1164.7" y1="1986.8" x2="1164.7" y2="1989.8" stroke="#111" stroke-width="1.3" />
<line x1="1175.7" y1="1986.8" x2="1175.7" y2="1989.8" stroke="#111" stroke-width="1.3" />
<line x1="1186.7" y1="1986.8" x2="1186.7" y2="1989.8" stroke="#111" stroke-width="1.3" />
<line x1="1197.7" y1="1986.8" x2="1197.7" y2="1992.3" stroke="#111" stroke-width="1.6" />
<line x1="1208.7" y1="1986.8" x2="1208.7" y2="1989.8" stroke="#111" stroke-width="1.3" />
<line x1="1219.7" y1="1986.8" x2="1219.7" y2="1989.8" stroke="#111" stroke-width="1.3" />
<line x1="1230.7" y1="1986.8" x2="1230.7" y2="1989.8" stroke="#111" stroke-width="1.3" />
<line x1="1241.7" y1="1986.8" x2="1241.7" y2="1989.8" stroke="#111" stroke-width="1.3" />
<line x1="1252.7" y1="1986.8" x2="1252.7" y2="1992.3" stroke="#111" stroke-width="1.6" />
<text x="812.7" y="2019" font-size="16.8" stroke="#000" stroke-width="0.28" text-anchor="middle" font-weight="bold">0</text>
<text x="867.7" y="2019" font-size="16.8" stroke="#000" stroke-width="0.28" text-anchor="middle" font-weight="bold">10</text>
<text x="922.7" y="2019" font-size="16.8" stroke="#000" stroke-width="0.28" text-anchor="middle" font-weight="bold">20</text>
<text x="977.7" y="2019" font-size="16.8" stroke="#000" stroke-width="0.28" text-anchor="middle" font-weight="bold">30</text>
<text x="1032.7" y="2019" font-size="16.8" stroke="#000" stroke-width="0.28" text-anchor="middle" font-weight="bold">40</text>
<text x="1087.7" y="2019" font-size="16.8" stroke="#000" stroke-width="0.28" text-anchor="middle" font-weight="bold">50</text>
<text x="1142.7" y="2019" font-size="16.8" stroke="#000" stroke-width="0.28" text-anchor="middle" font-weight="bold">60</text>
<text x="1197.7" y="2019" font-size="16.8" stroke="#000" stroke-width="0.28" text-anchor="middle" font-weight="bold">70</text>
<text x="1252.7" y="2019" font-size="16.8" stroke="#000" stroke-width="0.28" text-anchor="middle" font-weight="bold">80</text>
<text x="1050.5" y="2061.5" font-size="26" stroke="#000" stroke-width="0.35" text-anchor="middle" textLength="365" lengthAdjust="spacingAndGlyphs">Days after the start of treatment</text>
<text x="0" y="0" font-size="26.5" stroke="#000" stroke-width="0.35" text-anchor="middle" transform="translate(754.3 1803.6) rotate(-90)">Tumour Volume (mm<tspan font-size="17" dy="-9">3</tspan><tspan dy="9">)</tspan></text>
<path d="M1082.2 1925.07V1936.72M1078 1925.07H1086.4M1078 1936.72H1086.4" stroke="#333333" stroke-width="1.4" fill="none"/>
<path d="M1104.2 1902.55V1921.96M1100 1902.55H1108.4M1100 1921.96H1108.4" stroke="#333333" stroke-width="1.4" fill="none"/>
<path d="M1120.7 1899.44V1918.86M1116.5 1899.44H1124.9M1116.5 1918.86H1124.9" stroke="#333333" stroke-width="1.4" fill="none"/>
<path d="M1142.7 1875.76V1902.16M1138.5 1875.76H1146.9M1138.5 1902.16H1146.9" stroke="#333333" stroke-width="1.4" fill="none"/>
<path d="M1159.2 1853.24V1886.63M1155 1853.24H1163.4M1155 1886.63H1163.4" stroke="#333333" stroke-width="1.4" fill="none"/>
<path d="M1175.7 1838.1V1874.6M1171.5 1838.1H1179.9M1171.5 1874.6H1179.9" stroke="#333333" stroke-width="1.4" fill="none"/>
<path d="M1197.7 1781.8V1841.59M1193.5 1781.8H1201.9M1193.5 1841.59H1201.9" stroke="#333333" stroke-width="1.4" fill="none"/>
<path d="M1214.2 1720.46V1791.12M1210 1720.46H1218.4M1210 1791.12H1218.4" stroke="#333333" stroke-width="1.4" fill="none"/>
<path d="M1236.2 1685.91V1773.65M1232 1685.91H1240.4M1232 1773.65H1240.4" stroke="#333333" stroke-width="1.4" fill="none"/>
<path d="M812.7 1973.6 L829.2 1972.82 L851.2 1970.88 L867.7 1969.33 L889.7 1964.28 L906.2 1965.06 L917.2 1966.22 L928.2 1964.67 L944.7 1964.67 L955.7 1963.5 L966.7 1964.67 L983.2 1961.95 L994.2 1963.12 L1005.2 1962.73 L1021.7 1960.4 L1043.7 1958.85 L1060.2 1958.85 L1082.2 1960.01 L1104.2 1959.62 L1120.7 1958.46 L1142.7 1961.18 L1159.2 1959.62 L1175.7 1960.79 L1197.7 1956.13 L1214.2 1944.48 L1236.2 1952.25" stroke="#1414c8" stroke-width="3" fill="none" stroke-linejoin="round"/>
<rect x="808.4" y="1969.3" width="8.6" height="8.6" fill="none" stroke="#1414c8" stroke-width="3" rx="0" />
<rect x="824.9" y="1968.52" width="8.6" height="8.6" fill="none" stroke="#1414c8" stroke-width="3" rx="0" />
<rect x="846.9" y="1966.58" width="8.6" height="8.6" fill="none" stroke="#1414c8" stroke-width="3" rx="0" />
<rect x="863.4" y="1965.03" width="8.6" height="8.6" fill="none" stroke="#1414c8" stroke-width="3" rx="0" />
<rect x="885.4" y="1959.98" width="8.6" height="8.6" fill="none" stroke="#1414c8" stroke-width="3" rx="0" />
<rect x="901.9" y="1960.76" width="8.6" height="8.6" fill="none" stroke="#1414c8" stroke-width="3" rx="0" />
<rect x="912.9" y="1961.92" width="8.6" height="8.6" fill="none" stroke="#1414c8" stroke-width="3" rx="0" />
<rect x="923.9" y="1960.37" width="8.6" height="8.6" fill="none" stroke="#1414c8" stroke-width="3" rx="0" />
<rect x="940.4" y="1960.37" width="8.6" height="8.6" fill="none" stroke="#1414c8" stroke-width="3" rx="0" />
<rect x="951.4" y="1959.2" width="8.6" height="8.6" fill="none" stroke="#1414c8" stroke-width="3" rx="0" />
<rect x="962.4" y="1960.37" width="8.6" height="8.6" fill="none" stroke="#1414c8" stroke-width="3" rx="0" />
<rect x="978.9" y="1957.65" width="8.6" height="8.6" fill="none" stroke="#1414c8" stroke-width="3" rx="0" />
<rect x="989.9" y="1958.82" width="8.6" height="8.6" fill="none" stroke="#1414c8" stroke-width="3" rx="0" />
<rect x="1000.9" y="1958.43" width="8.6" height="8.6" fill="none" stroke="#1414c8" stroke-width="3" rx="0" />
<rect x="1017.4" y="1956.1" width="8.6" height="8.6" fill="none" stroke="#1414c8" stroke-width="3" rx="0" />
<rect x="1039.4" y="1954.55" width="8.6" height="8.6" fill="none" stroke="#1414c8" stroke-width="3" rx="0" />
<rect x="1055.9" y="1954.55" width="8.6" height="8.6" fill="none" stroke="#1414c8" stroke-width="3" rx="0" />
<rect x="1077.9" y="1955.71" width="8.6" height="8.6" fill="none" stroke="#1414c8" stroke-width="3" rx="0" />
<rect x="1099.9" y="1955.32" width="8.6" height="8.6" fill="none" stroke="#1414c8" stroke-width="3" rx="0" />
<rect x="1116.4" y="1954.16" width="8.6" height="8.6" fill="none" stroke="#1414c8" stroke-width="3" rx="0" />
<rect x="1138.4" y="1956.88" width="8.6" height="8.6" fill="none" stroke="#1414c8" stroke-width="3" rx="0" />
<rect x="1154.9" y="1955.32" width="8.6" height="8.6" fill="none" stroke="#1414c8" stroke-width="3" rx="0" />
<rect x="1171.4" y="1956.49" width="8.6" height="8.6" fill="none" stroke="#1414c8" stroke-width="3" rx="0" />
<rect x="1193.4" y="1951.83" width="8.6" height="8.6" fill="none" stroke="#1414c8" stroke-width="3" rx="0" />
<rect x="1209.9" y="1940.18" width="8.6" height="8.6" fill="none" stroke="#1414c8" stroke-width="3" rx="0" />
<rect x="1231.9" y="1947.95" width="8.6" height="8.6" fill="none" stroke="#1414c8" stroke-width="3" rx="0" />
<path d="M812.7 1973.6 L829.2 1972.82 L851.2 1971.66 L867.7 1970.11 L889.7 1969.33 L906.2 1966.61 L917.2 1966.61 L928.2 1964.67 L944.7 1961.95 L955.7 1960.79 L966.7 1957.29 L983.2 1954.96 L994.2 1956.52 L1005.2 1952.25 L1021.7 1947.59 L1043.7 1946.42 L1060.2 1938.66 L1082.2 1930.89 L1104.2 1912.26 L1120.7 1909.15 L1142.7 1888.96 L1159.2 1869.94 L1175.7 1856.35 L1197.7 1811.7 L1214.2 1755.79 L1236.2 1729.78" stroke="#333333" stroke-width="3" fill="none" stroke-linejoin="round"/>
<circle cx="812.7" cy="1973.6" r="4.7" fill="none" stroke="#333333" stroke-width="3" />
<circle cx="829.2" cy="1972.82" r="4.7" fill="none" stroke="#333333" stroke-width="3" />
<circle cx="851.2" cy="1971.66" r="4.7" fill="none" stroke="#333333" stroke-width="3" />
<circle cx="867.7" cy="1970.11" r="4.7" fill="none" stroke="#333333" stroke-width="3" />
<circle cx="889.7" cy="1969.33" r="4.7" fill="none" stroke="#333333" stroke-width="3" />
<circle cx="906.2" cy="1966.61" r="4.7" fill="none" stroke="#333333" stroke-width="3" />
<circle cx="917.2" cy="1966.61" r="4.7" fill="none" stroke="#333333" stroke-width="3" />
<circle cx="928.2" cy="1964.67" r="4.7" fill="none" stroke="#333333" stroke-width="3" />
<circle cx="944.7" cy="1961.95" r="4.7" fill="none" stroke="#333333" stroke-width="3" />
<circle cx="955.7" cy="1960.79" r="4.7" fill="none" stroke="#333333" stroke-width="3" />
<circle cx="966.7" cy="1957.29" r="4.7" fill="none" stroke="#333333" stroke-width="3" />
<circle cx="983.2" cy="1954.96" r="4.7" fill="none" stroke="#333333" stroke-width="3" />
<circle cx="994.2" cy="1956.52" r="4.7" fill="none" stroke="#333333" stroke-width="3" />
<circle cx="1005.2" cy="1952.25" r="4.7" fill="none" stroke="#333333" stroke-width="3" />
<circle cx="1021.7" cy="1947.59" r="4.7" fill="none" stroke="#333333" stroke-width="3" />
<circle cx="1043.7" cy="1946.42" r="4.7" fill="none" stroke="#333333" stroke-width="3" />
<circle cx="1060.2" cy="1938.66" r="4.7" fill="none" stroke="#333333" stroke-width="3" />
<circle cx="1082.2" cy="1930.89" r="4.7" fill="none" stroke="#333333" stroke-width="3" />
<circle cx="1104.2" cy="1912.26" r="4.7" fill="none" stroke="#333333" stroke-width="3" />
<circle cx="1120.7" cy="1909.15" r="4.7" fill="none" stroke="#333333" stroke-width="3" />
<circle cx="1142.7" cy="1888.96" r="4.7" fill="none" stroke="#333333" stroke-width="3" />
<circle cx="1159.2" cy="1869.94" r="4.7" fill="none" stroke="#333333" stroke-width="3" />
<circle cx="1175.7" cy="1856.35" r="4.7" fill="none" stroke="#333333" stroke-width="3" />
<circle cx="1197.7" cy="1811.7" r="4.7" fill="none" stroke="#333333" stroke-width="3" />
<circle cx="1214.2" cy="1755.79" r="4.7" fill="none" stroke="#333333" stroke-width="3" />
<circle cx="1236.2" cy="1729.78" r="4.7" fill="none" stroke="#333333" stroke-width="3" />
<text x="1266.3" y="1958" font-size="16.5" stroke="#000" stroke-width="0.2" text-anchor="middle">****</text>
<line x1="791" y1="1643.2" x2="824" y2="1643.2" stroke="#333333" stroke-width="3" />
<circle cx="807.5" cy="1643.2" r="4.7" fill="none" stroke="#333333" stroke-width="3" />
<text x="841.8" y="1649" font-size="17.2" stroke="#000" stroke-width="0.29" font-weight="bold" textLength="130.6" lengthAdjust="spacingAndGlyphs">Vehicle, PO, QD</text>
<line x1="998" y1="1643.2" x2="1031" y2="1643.2" stroke="#1414c8" stroke-width="3" />
<rect x="1010.2" y="1638.9" width="8.6" height="8.6" fill="none" stroke="#1414c8" stroke-width="3" rx="0" />
<text x="1049.2" y="1649" font-size="17.2" stroke="#000" stroke-width="0.29" font-weight="bold" textLength="219.4" lengthAdjust="spacingAndGlyphs">ART812, 100mg/kg, PO, QD</text>
</g>
<g id="panel-k">
<text x="1344.3" y="1593" font-size="42.5" stroke="#000" stroke-width="0.3" font-weight="bold" letter-spacing="1.2">k.</text>
<line x1="1466.4" y1="1684.7" x2="1466.4" y2="1984.2" stroke="#111" stroke-width="1.4" />
<line x1="1465.7" y1="1983.5" x2="1665.3" y2="1983.5" stroke="#111" stroke-width="1.4" />
<line x1="1461.9" y1="1983.5" x2="1466.4" y2="1983.5" stroke="#111" stroke-width="1.3" />
<text x="1459.5" y="1989.8" font-size="17.6" stroke="#000" stroke-width="0.29" text-anchor="end" font-weight="bold">0</text>
<line x1="1461.9" y1="1908.95" x2="1466.4" y2="1908.95" stroke="#111" stroke-width="1.3" />
<text x="1459.5" y="1915.25" font-size="17.6" stroke="#000" stroke-width="0.29" text-anchor="end" font-weight="bold">3000</text>
<line x1="1461.9" y1="1834.4" x2="1466.4" y2="1834.4" stroke="#111" stroke-width="1.3" />
<text x="1459.5" y="1840.7" font-size="17.6" stroke="#000" stroke-width="0.29" text-anchor="end" font-weight="bold">6000</text>
<line x1="1461.9" y1="1759.85" x2="1466.4" y2="1759.85" stroke="#111" stroke-width="1.3" />
<text x="1459.5" y="1766.15" font-size="17.6" stroke="#000" stroke-width="0.29" text-anchor="end" font-weight="bold">9000</text>
<line x1="1461.9" y1="1685.3" x2="1466.4" y2="1685.3" stroke="#111" stroke-width="1.3" />
<text x="1459.5" y="1691.6" font-size="17.6" stroke="#000" stroke-width="0.29" text-anchor="end" font-weight="bold">12000</text>
<line x1="1523.3" y1="1983.5" x2="1523.3" y2="1988.3" stroke="#111" stroke-width="1.3" />
<line x1="1607.8" y1="1983.5" x2="1607.8" y2="1988.3" stroke="#111" stroke-width="1.3" />
<text x="0" y="0" font-size="26.5" stroke="#000" stroke-width="0.35" text-anchor="middle" transform="translate(1392.5 1822) rotate(-90)">Tumour Volume (mm<tspan font-size="17" dy="-9">3</tspan><tspan dy="9">)</tspan></text>
<path d="M1496.9 1982.8V1820.5H1550V1982.8" stroke="#666666" stroke-width="2.5" fill="none" />
<path d="M1523.3 1791.5V1847.5M1517.9 1791.5H1528.7M1517.9 1847.5H1528.7" stroke="#666666" stroke-width="2.3" fill="none"/>
<circle cx="1523.3" cy="1696.7" r="4.3" fill="none" stroke="#666666" stroke-width="2.5" />
<circle cx="1523.3" cy="1746.6" r="4.3" fill="none" stroke="#666666" stroke-width="2.5" />
<circle cx="1523.3" cy="1813.5" r="4.3" fill="none" stroke="#666666" stroke-width="2.5" />
<circle cx="1523.3" cy="1846.8" r="4.3" fill="none" stroke="#666666" stroke-width="2.5" />
<circle cx="1523.3" cy="1857" r="4.3" fill="none" stroke="#666666" stroke-width="2.5" />
<circle cx="1523.3" cy="1875.3" r="4.3" fill="none" stroke="#666666" stroke-width="2.5" />
<circle cx="1523.3" cy="1902.5" r="4.3" fill="none" stroke="#666666" stroke-width="2.5" />
<path d="M1581 1982.8V1961H1634.8V1982.8" stroke="#1414c8" stroke-width="2.5" fill="none" />
<rect x="1580.79" y="1950.1" width="8.2" height="8.2" fill="none" stroke="#1414c8" stroke-width="2.4" rx="0" />
<rect x="1580.79" y="1962.71" width="8.2" height="8.2" fill="none" stroke="#1414c8" stroke-width="2.4" rx="0" />
<rect x="1590.37" y="1956.15" width="8.2" height="8.2" fill="none" stroke="#1414c8" stroke-width="2.4" rx="0" />
<rect x="1599.2" y="1958.67" width="8.2" height="8.2" fill="none" stroke="#1414c8" stroke-width="2.4" rx="0" />
<rect x="1608.03" y="1956.15" width="8.2" height="8.2" fill="none" stroke="#1414c8" stroke-width="2.4" rx="0" />
<rect x="1617.61" y="1962.71" width="8.2" height="8.2" fill="none" stroke="#1414c8" stroke-width="2.4" rx="0" />
<rect x="1627.7" y="1956.15" width="8.2" height="8.2" fill="none" stroke="#1414c8" stroke-width="2.4" rx="0" />
<text x="1607.2" y="1942" font-size="15.5" stroke="#000" stroke-width="0.2" text-anchor="middle">****</text>
<text x="0" y="0" font-size="26.5" stroke="#000" stroke-width="0.35" text-anchor="end" transform="translate(1534.5 2010.5) rotate(-48)">Vehicle</text>
<text x="0" y="0" font-size="26.5" stroke="#000" stroke-width="0.35" text-anchor="end" transform="translate(1621 2010.5) rotate(-48)">ART812</text>
</g>
<g id="panel-l">
<text x="0.5" y="2160.3" font-size="42.5" stroke="#000" stroke-width="0.3" font-weight="bold" letter-spacing="1.2">l.</text>
<text x="298.7" y="2160.7" font-size="26" stroke="#000" stroke-width="0.3" text-anchor="middle" font-weight="bold" textLength="299.5" lengthAdjust="spacingAndGlyphs">Viability assay (14 days)</text>
<line x1="91.1" y1="2187.7" x2="91.1" y2="2462.6" stroke="#111" stroke-width="1.4" />
<line x1="90.4" y1="2461.9" x2="501.8" y2="2461.9" stroke="#111" stroke-width="1.4" />
<line x1="86.6" y1="2461.9" x2="91.1" y2="2461.9" stroke="#111" stroke-width="1.2" />
<text x="84.8" y="2467.8" font-size="16.2" stroke="#000" stroke-width="0.31" text-anchor="end">0.0</text>
<line x1="86.6" y1="2427.7" x2="91.1" y2="2427.7" stroke="#111" stroke-width="1.2" />
<text x="84.8" y="2433.6" font-size="16.2" stroke="#000" stroke-width="0.31" text-anchor="end">0.2</text>
<line x1="86.6" y1="2393.5" x2="91.1" y2="2393.5" stroke="#111" stroke-width="1.2" />
<text x="84.8" y="2399.4" font-size="16.2" stroke="#000" stroke-width="0.31" text-anchor="end">0.4</text>
<line x1="86.6" y1="2359.3" x2="91.1" y2="2359.3" stroke="#111" stroke-width="1.2" />
<text x="84.8" y="2365.2" font-size="16.2" stroke="#000" stroke-width="0.31" text-anchor="end">0.6</text>
<line x1="86.6" y1="2325.1" x2="91.1" y2="2325.1" stroke="#111" stroke-width="1.2" />
<text x="84.8" y="2331" font-size="16.2" stroke="#000" stroke-width="0.31" text-anchor="end">0.8</text>
<line x1="86.6" y1="2290.9" x2="91.1" y2="2290.9" stroke="#111" stroke-width="1.2" />
<text x="84.8" y="2296.8" font-size="16.2" stroke="#000" stroke-width="0.31" text-anchor="end">1.0</text>
<line x1="86.6" y1="2256.7" x2="91.1" y2="2256.7" stroke="#111" stroke-width="1.2" />
<text x="84.8" y="2262.6" font-size="16.2" stroke="#000" stroke-width="0.31" text-anchor="end">1.2</text>
<line x1="86.6" y1="2222.5" x2="91.1" y2="2222.5" stroke="#111" stroke-width="1.2" />
<text x="84.8" y="2228.4" font-size="16.2" stroke="#000" stroke-width="0.31" text-anchor="end">1.4</text>
<line x1="86.6" y1="2188.3" x2="91.1" y2="2188.3" stroke="#111" stroke-width="1.2" />
<text x="84.8" y="2194.2" font-size="16.2" stroke="#000" stroke-width="0.31" text-anchor="end">1.6</text>
<line x1="144.58" y1="2461.9" x2="144.58" y2="2464.7" stroke="#111" stroke-width="1.1" />
<line x1="175.93" y1="2461.9" x2="175.93" y2="2464.7" stroke="#111" stroke-width="1.1" />
<line x1="198.17" y1="2461.9" x2="198.17" y2="2464.7" stroke="#111" stroke-width="1.1" />
<line x1="215.42" y1="2461.9" x2="215.42" y2="2464.7" stroke="#111" stroke-width="1.1" />
<line x1="229.51" y1="2461.9" x2="229.51" y2="2464.7" stroke="#111" stroke-width="1.1" />
<line x1="241.43" y1="2461.9" x2="241.43" y2="2464.7" stroke="#111" stroke-width="1.1" />
<line x1="251.75" y1="2461.9" x2="251.75" y2="2464.7" stroke="#111" stroke-width="1.1" />
<line x1="260.86" y1="2461.9" x2="260.86" y2="2464.7" stroke="#111" stroke-width="1.1" />
<line x1="269" y1="2461.9" x2="269" y2="2466.9" stroke="#111" stroke-width="1.2" />
<line x1="322.58" y1="2461.9" x2="322.58" y2="2464.7" stroke="#111" stroke-width="1.1" />
<line x1="353.93" y1="2461.9" x2="353.93" y2="2464.7" stroke="#111" stroke-width="1.1" />
<line x1="376.17" y1="2461.9" x2="376.17" y2="2464.7" stroke="#111" stroke-width="1.1" />
<line x1="393.42" y1="2461.9" x2="393.42" y2="2464.7" stroke="#111" stroke-width="1.1" />
<line x1="407.51" y1="2461.9" x2="407.51" y2="2464.7" stroke="#111" stroke-width="1.1" />
<line x1="419.43" y1="2461.9" x2="419.43" y2="2464.7" stroke="#111" stroke-width="1.1" />
<line x1="429.75" y1="2461.9" x2="429.75" y2="2464.7" stroke="#111" stroke-width="1.1" />
<line x1="438.86" y1="2461.9" x2="438.86" y2="2464.7" stroke="#111" stroke-width="1.1" />
<line x1="447" y1="2461.9" x2="447" y2="2466.9" stroke="#111" stroke-width="1.2" />
<line x1="500.58" y1="2461.9" x2="500.58" y2="2464.7" stroke="#111" stroke-width="1.1" />
<line x1="91.1" y1="2461.9" x2="91.1" y2="2466.9" stroke="#111" stroke-width="1.2" />
<text x="91.1" y="2484.3" font-size="16.2" stroke="#000" stroke-width="0.31" text-anchor="middle">0</text>
<text x="269" y="2484.3" font-size="16.2" stroke="#000" stroke-width="0.31" text-anchor="middle">1</text>
<text x="447" y="2484.3" font-size="16.2" stroke="#000" stroke-width="0.31" text-anchor="middle">10</text>
<text x="270" y="2505.6" font-size="16.3" stroke="#000" stroke-width="0.32" text-anchor="middle" textLength="97" lengthAdjust="spacingAndGlyphs">[ART558] μM</text>
<text x="0" y="0" font-size="23.3" stroke="#000" stroke-width="0.35" text-anchor="middle" transform="translate(53.5 2322.5) rotate(-90)">Surviving fraction</text>
<path d="M91.1 2276.55 L93.66 2276.51 L96.22 2276.48 L98.78 2276.44 L101.34 2276.41 L103.9 2276.37 L106.46 2276.34 L109.01 2276.3 L111.57 2276.27 L114.13 2276.24 L116.69 2276.21 L119.25 2276.17 L121.81 2276.14 L124.37 2276.11 L126.93 2276.07 L129.49 2276.04 L132.05 2276 L134.61 2275.96 L137.17 2275.92 L139.73 2275.88 L142.29 2275.84 L144.84 2275.79 L147.4 2275.74 L149.96 2275.69 L152.52 2275.64 L155.08 2275.58 L157.64 2275.52 L160.2 2275.46 L162.76 2275.4 L165.32 2275.32 L167.88 2275.25 L170.44 2275.16 L173 2275.07 L175.56 2274.98 L178.12 2274.87 L180.67 2274.76 L183.23 2274.63 L185.79 2274.5 L188.35 2274.35 L190.91 2274.2 L193.47 2274.03 L196.03 2273.86 L198.59 2273.66 L201.15 2273.41 L203.71 2273.1 L206.27 2272.73 L208.83 2272.3 L211.39 2271.83 L213.95 2271.31 L216.5 2270.75 L219.06 2270.17 L221.62 2269.49 L224.18 2268.7 L226.74 2267.8 L229.3 2266.8 L231.86 2265.71 L234.42 2264.55 L236.98 2263.31 L239.54 2262.02 L242.1 2260.6 L244.66 2258.92 L247.22 2257.07 L249.77 2255.13 L252.33 2253.21 L254.89 2251.37 L257.45 2249.48 L260.01 2247.53 L262.57 2245.62 L265.13 2243.84 L267.69 2242.3 L270.25 2240.99 L272.81 2239.72 L275.37 2238.54 L277.93 2237.52 L280.49 2236.72 L283.05 2236.21 L285.6 2235.82 L288.16 2235.47 L290.72 2235.16 L293.28 2234.91 L295.84 2234.72 L298.4 2234.58 L300.96 2234.52 L303.52 2234.47 L306.08 2234.43 L308.64 2234.38 L311.2 2234.35 L313.76 2234.31 L316.32 2234.28 L318.88 2234.26 L321.43 2234.24 L323.99 2234.22 L326.55 2234.2 L329.11 2234.19 L331.67 2234.18 L334.23 2234.18 L336.79 2234.18 L339.35 2234.18 L341.91 2234.18 L344.47 2234.18 L347.03 2234.18 L349.59 2234.18 L352.15 2234.18 L354.7 2234.18 L357.26 2234.18 L359.82 2234.18 L362.38 2234.18 L364.94 2234.18 L367.5 2234.18 L370.06 2234.18 L372.62 2234.18 L375.18 2234.18 L377.74 2234.18 L380.3 2234.18 L382.86 2234.18 L385.42 2234.18 L387.98 2234.18 L390.53 2234.18 L393.09 2234.18 L395.65 2234.18 L398.21 2234.18 L400.77 2234.18 L403.33 2234.18 L405.89 2234.18 L408.45 2234.18 L411.01 2234.18 L413.57 2234.18 L416.13 2234.18 L418.69 2234.18 L421.25 2234.18 L423.81 2234.18 L426.36 2234.18 L428.92 2234.18 L431.48 2234.18 L434.04 2234.18 L436.6 2234.18 L439.16 2234.18 L441.72 2234.18 L444.28 2234.18 L446.84 2234.18 L449.4 2234.18 L451.96 2234.18 L454.52 2234.18 L457.08 2234.18 L459.64 2234.18 L462.19 2234.18 L464.75 2234.18 L467.31 2234.18 L469.87 2234.18 L472.43 2234.18 L474.99 2234.18 L477.55 2234.18 L480.11 2234.18 L482.67 2234.18 L485.23 2234.18 L487.79 2234.18 L490.35 2234.18 L492.91 2234.18 L495.46 2234.18 L498.02 2234.18 L500.58 2234.18" stroke="#1e82f5" stroke-width="1.5" fill="none" stroke-linejoin="round" />
<line x1="91.1" y1="2291.41" x2="500.58" y2="2291.41" stroke="#2a7f47" stroke-width="1.5" />
<path d="M91.1 2291.03 L93.66 2291.23 L96.22 2291.41 L98.78 2291.59 L101.34 2291.77 L103.9 2291.94 L106.46 2292.11 L109.01 2292.28 L111.57 2292.45 L114.13 2292.62 L116.69 2292.8 L119.25 2292.98 L121.81 2293.17 L124.37 2293.36 L126.93 2293.56 L129.49 2293.77 L132.05 2294 L134.61 2294.23 L137.17 2294.48 L139.73 2294.75 L142.29 2295.03 L144.84 2295.36 L147.4 2295.72 L149.96 2296.11 L152.52 2296.53 L155.08 2296.98 L157.64 2297.46 L160.2 2297.95 L162.76 2298.46 L165.32 2298.97 L167.88 2299.5 L170.44 2300.02 L173 2300.55 L175.56 2301.07 L178.12 2301.59 L180.67 2302.11 L183.23 2302.65 L185.79 2303.2 L188.35 2303.77 L190.91 2304.34 L193.47 2304.91 L196.03 2305.5 L198.59 2306.09 L201.15 2306.69 L203.71 2307.3 L206.27 2307.91 L208.83 2308.52 L211.39 2309.13 L213.95 2309.75 L216.5 2310.37 L219.06 2310.99 L221.62 2311.62 L224.18 2312.26 L226.74 2312.91 L229.3 2313.56 L231.86 2314.21 L234.42 2314.87 L236.98 2315.54 L239.54 2316.21 L242.1 2316.88 L244.66 2317.55 L247.22 2318.23 L249.77 2318.91 L252.33 2319.59 L254.89 2320.28 L257.45 2320.98 L260.01 2321.68 L262.57 2322.38 L265.13 2323.1 L267.69 2323.83 L270.25 2324.57 L272.81 2325.32 L275.37 2326.09 L277.93 2326.87 L280.49 2327.65 L283.05 2328.45 L285.6 2329.25 L288.16 2330.05 L290.72 2330.85 L293.28 2331.65 L295.84 2332.44 L298.4 2333.23 L300.96 2334.01 L303.52 2334.8 L306.08 2335.6 L308.64 2336.42 L311.2 2337.23 L313.76 2338.05 L316.32 2338.87 L318.88 2339.67 L321.43 2340.46 L323.99 2341.24 L326.55 2341.99 L329.11 2342.71 L331.67 2343.4 L334.23 2344.05 L336.79 2344.67 L339.35 2345.27 L341.91 2345.85 L344.47 2346.42 L347.03 2346.97 L349.59 2347.51 L352.15 2348.03 L354.7 2348.54 L357.26 2349.04 L359.82 2349.52 L362.38 2349.98 L364.94 2350.44 L367.5 2350.87 L370.06 2351.3 L372.62 2351.71 L375.18 2352.12 L377.74 2352.52 L380.3 2352.91 L382.86 2353.28 L385.42 2353.63 L387.98 2353.96 L390.53 2354.26 L393.09 2354.53 L395.65 2354.77 L398.21 2355.02 L400.77 2355.26 L403.33 2355.49 L405.89 2355.71 L408.45 2355.92 L411.01 2356.11 L413.57 2356.28 L416.13 2356.43 L418.69 2356.55 L421.25 2356.65 L423.81 2356.71 L426.36 2356.76 L428.92 2356.8 L431.48 2356.84 L434.04 2356.87 L436.6 2356.91 L439.16 2356.94 L441.72 2356.97 L444.28 2356.99 L446.84 2357.01 L449.4 2357.03 L451.96 2357.05 L454.52 2357.06 L457.08 2357.06 L459.64 2357.06 L462.19 2357.06 L464.75 2357.05 L467.31 2357.04 L469.87 2357.02 L472.43 2357 L474.99 2356.98 L477.55 2356.96 L480.11 2356.93 L482.67 2356.9 L485.23 2356.88 L487.79 2356.85 L490.35 2356.82 L492.91 2356.79 L495.46 2356.76 L498.02 2356.74 L500.58 2356.72" stroke="#f5821e" stroke-width="1.5" fill="none" stroke-linejoin="round" />
<path d="M91.1 2289 L93.66 2291.62 L96.22 2294.22 L98.78 2296.8 L101.34 2299.41 L103.9 2302.07 L106.46 2304.8 L109.01 2307.64 L111.57 2310.57 L114.13 2313.57 L116.69 2316.64 L119.25 2319.76 L121.81 2322.93 L124.37 2326.13 L126.93 2329.35 L129.49 2332.57 L132.05 2335.8 L134.61 2339.01 L137.17 2342.22 L139.73 2345.48 L142.29 2348.77 L144.84 2352.08 L147.4 2355.39 L149.96 2358.71 L152.52 2362.02 L155.08 2365.31 L157.64 2368.56 L160.2 2371.77 L162.76 2374.94 L165.32 2378.1 L167.88 2381.27 L170.44 2384.44 L173 2387.59 L175.56 2390.71 L178.12 2393.78 L180.67 2396.79 L183.23 2399.73 L185.79 2402.58 L188.35 2405.32 L190.91 2407.99 L193.47 2410.65 L196.03 2413.28 L198.59 2415.87 L201.15 2418.41 L203.71 2420.86 L206.27 2423.22 L208.83 2425.47 L211.39 2427.58 L213.95 2429.55 L216.5 2431.34 L219.06 2433.05 L221.62 2434.7 L224.18 2436.29 L226.74 2437.81 L229.3 2439.25 L231.86 2440.62 L234.42 2441.91 L236.98 2443.1 L239.54 2444.19 L242.1 2445.18 L244.66 2446.07 L247.22 2446.93 L249.77 2447.75 L252.33 2448.54 L254.89 2449.27 L257.45 2449.96 L260.01 2450.6 L262.57 2451.18 L265.13 2451.7 L267.69 2452.15 L270.25 2452.53 L272.81 2452.88 L275.37 2453.22 L277.93 2453.54 L280.49 2453.84 L283.05 2454.12 L285.6 2454.38 L288.16 2454.62 L290.72 2454.82 L293.28 2455 L295.84 2455.14 L298.4 2455.25 L300.96 2455.32 L303.52 2455.39 L306.08 2455.45 L308.64 2455.51 L311.2 2455.56 L313.76 2455.61 L316.32 2455.66 L318.88 2455.7 L321.43 2455.74 L323.99 2455.78 L326.55 2455.82 L329.11 2455.85 L331.67 2455.88 L334.23 2455.9 L336.79 2455.93 L339.35 2455.95 L341.91 2455.96 L344.47 2455.98 L347.03 2455.99 L349.59 2456 L352.15 2456.01 L354.7 2456.01 L357.26 2456.02 L359.82 2456.03 L362.38 2456.03 L364.94 2456.04 L367.5 2456.04 L370.06 2456.05 L372.62 2456.05 L375.18 2456.06 L377.74 2456.06 L380.3 2456.07 L382.86 2456.07 L385.42 2456.08 L387.98 2456.08 L390.53 2456.09 L393.09 2456.09 L395.65 2456.09 L398.21 2456.1 L400.77 2456.1 L403.33 2456.1 L405.89 2456.11 L408.45 2456.11 L411.01 2456.11 L413.57 2456.12 L416.13 2456.12 L418.69 2456.12 L421.25 2456.12 L423.81 2456.13 L426.36 2456.13 L428.92 2456.13 L431.48 2456.13 L434.04 2456.14 L436.6 2456.14 L439.16 2456.14 L441.72 2456.14 L444.28 2456.14 L446.84 2456.15 L449.4 2456.15 L451.96 2456.15 L454.52 2456.15 L457.08 2456.16 L459.64 2456.16 L462.19 2456.16 L464.75 2456.16 L467.31 2456.16 L469.87 2456.17 L472.43 2456.17 L474.99 2456.17 L477.55 2456.17 L480.11 2456.18 L482.67 2456.18 L485.23 2456.18 L487.79 2456.18 L490.35 2456.19 L492.91 2456.19 L495.46 2456.19 L498.02 2456.2 L500.58 2456.2" stroke="#8514f5" stroke-width="1.5" fill="none" stroke-linejoin="round" />
<path d="M91.1 2253.28V2299.45M86.5 2253.28H95.7M86.5 2299.45H95.7" stroke="#1e82f5" stroke-width="1.5" fill="none"/>
<path d="M215.42 2244.73V2300.31M210.82 2244.73H220.02M210.82 2300.31H220.02" stroke="#1e82f5" stroke-width="1.5" fill="none"/>
<path d="M269 2212.24V2275.51M264.4 2212.24H273.6M264.4 2275.51H273.6" stroke="#1e82f5" stroke-width="1.5" fill="none"/>
<path d="M393.42 2204.55V2278.93M388.82 2204.55H398.02M388.82 2278.93H398.02" stroke="#1e82f5" stroke-width="1.5" fill="none"/>
<path d="M447 2193.43V2249.86M442.4 2193.43H451.6M442.4 2249.86H451.6" stroke="#1e82f5" stroke-width="1.5" fill="none"/>
<path d="M500.58 2225.92V2243.02M495.98 2225.92H505.18M495.98 2243.02H505.18" stroke="#1e82f5" stroke-width="1.5" fill="none"/>
<path d="M91.1 2284.06V2302.87M86.5 2284.06H95.7M86.5 2302.87H95.7" stroke="#2a7f47" stroke-width="1.5" fill="none"/>
<path d="M215.42 2285.77V2301.16M210.82 2285.77H220.02M210.82 2301.16H220.02" stroke="#2a7f47" stroke-width="1.5" fill="none"/>
<path d="M269 2274.66V2312.28M264.4 2274.66H273.6M264.4 2312.28H273.6" stroke="#2a7f47" stroke-width="1.5" fill="none"/>
<path d="M393.42 2276.37V2298.6M388.82 2276.37H398.02M388.82 2298.6H398.02" stroke="#2a7f47" stroke-width="1.5" fill="none"/>
<path d="M447 2274.66V2305.43M442.4 2274.66H451.6M442.4 2305.43H451.6" stroke="#2a7f47" stroke-width="1.5" fill="none"/>
<path d="M500.58 2281.49V2308.86M495.98 2281.49H505.18M495.98 2308.86H505.18" stroke="#2a7f47" stroke-width="1.5" fill="none"/>
<path d="M91.1 2282.35V2297.74M86.5 2282.35H95.7M86.5 2297.74H95.7" stroke="#f5821e" stroke-width="1.5" fill="none"/>
<path d="M215.42 2300.31V2331.09M210.82 2300.31H220.02M210.82 2331.09H220.02" stroke="#f5821e" stroke-width="1.5" fill="none"/>
<path d="M269 2302.87V2330.23M264.4 2302.87H273.6M264.4 2330.23H273.6" stroke="#f5821e" stroke-width="1.5" fill="none"/>
<path d="M393.42 2346.47V2370.41M388.82 2346.47H398.02M388.82 2370.41H398.02" stroke="#f5821e" stroke-width="1.5" fill="none"/>
<path d="M447 2337.93V2353.32M442.4 2337.93H451.6M442.4 2353.32H451.6" stroke="#f5821e" stroke-width="1.5" fill="none"/>
<path d="M500.58 2354.17V2375.55M495.98 2354.17H505.18M495.98 2375.55H505.18" stroke="#f5821e" stroke-width="1.5" fill="none"/>
<path d="M393.42 2438.82V2452.49M388.82 2438.82H398.02M388.82 2452.49H398.02" stroke="#8514f5" stroke-width="1.5" fill="none"/>
<path d="M91.1 2287.71L95.5 2295.41L86.7 2295.41Z" fill="#2a7f47"/>
<path d="M215.42 2288.57L219.82 2296.27L211.02 2296.27Z" fill="#2a7f47"/>
<path d="M269 2288.57L273.4 2296.27L264.6 2296.27Z" fill="#2a7f47"/>
<path d="M393.42 2282.58L397.82 2290.28L389.02 2290.28Z" fill="#2a7f47"/>
<path d="M447 2285.14L451.4 2292.85L442.6 2292.85Z" fill="#2a7f47"/>
<path d="M500.58 2290.28L504.98 2297.98L496.18 2297.98Z" fill="#2a7f47"/>
<circle cx="91.1" cy="2276.37" r="4.2" fill="#1e82f5" stroke="none" stroke-width="0" />
<circle cx="215.42" cy="2272.09" r="4.2" fill="#1e82f5" stroke="none" stroke-width="0" />
<circle cx="269" cy="2243.88" r="4.2" fill="#1e82f5" stroke="none" stroke-width="0" />
<circle cx="393.42" cy="2242.16" r="4.2" fill="#1e82f5" stroke="none" stroke-width="0" />
<circle cx="447" cy="2221.64" r="4.2" fill="#1e82f5" stroke="none" stroke-width="0" />
<circle cx="500.58" cy="2234.47" r="4.2" fill="#1e82f5" stroke="none" stroke-width="0" />
<path d="M91.1 2280.67L95.7 2288.72L86.5 2288.72Z" fill="#8514f5"/>
<path d="M215.42 2425.16L220.02 2433.21L210.82 2433.21Z" fill="#8514f5"/>
<path d="M269 2443.98L273.6 2452.03L264.4 2452.03Z" fill="#8514f5"/>
<path d="M393.42 2442.27L398.02 2450.32L388.82 2450.32Z" fill="#8514f5"/>
<path d="M447 2452.53L451.6 2460.57L442.4 2460.57Z" fill="#8514f5"/>
<path d="M500.58 2455.43L505.18 2463.48L495.98 2463.48Z" fill="#8514f5"/>
<rect x="87.2" y="2285.29" width="7.8" height="7.8" fill="#f5821e" stroke="none" stroke-width="0" rx="0" />
<rect x="211.52" y="2311.8" width="7.8" height="7.8" fill="#f5821e" stroke="none" stroke-width="0" rx="0" />
<rect x="265.1" y="2312.65" width="7.8" height="7.8" fill="#f5821e" stroke="none" stroke-width="0" rx="0" />
<rect x="389.52" y="2354.55" width="7.8" height="7.8" fill="#f5821e" stroke="none" stroke-width="0" rx="0" />
<rect x="443.1" y="2341.72" width="7.8" height="7.8" fill="#f5821e" stroke="none" stroke-width="0" rx="0" />
<rect x="496.68" y="2360.53" width="7.8" height="7.8" fill="#f5821e" stroke="none" stroke-width="0" rx="0" />
<line x1="523.6" y1="2181" x2="549.5" y2="2181" stroke="#1e82f5" stroke-width="1.3" />
<circle cx="536.6" cy="2181" r="4.3" fill="#1e82f5" stroke="none" stroke-width="0" />
<text x="564" y="2187.4" font-size="18.4" stroke="#000" stroke-width="0.35">Wildtype</text>
<line x1="523.6" y1="2207.2" x2="549.5" y2="2207.2" stroke="#f5821e" stroke-width="1.3" />
<circle cx="536.6" cy="2207.2" r="4.3" fill="#f5821e" stroke="none" stroke-width="0" />
<text x="564" y="2215" font-size="18.4" stroke="#000" stroke-width="0.35"><tspan font-style="italic">Brca1 </tspan><tspan font-style="italic" font-size="12.5" dy="-6.5">Δ11</tspan></text>
<line x1="523.6" y1="2234.3" x2="549.5" y2="2234.3" stroke="#2a7f47" stroke-width="1.3" />
<circle cx="536.6" cy="2234.3" r="4.3" fill="#2a7f47" stroke="none" stroke-width="0" />
<text x="564" y="2242" font-size="18.4" stroke="#000" stroke-width="0.35"><tspan font-style="italic">Trp53bp1</tspan><tspan font-style="italic" font-size="12.5" dy="-6.5">-/-</tspan></text>
<line x1="523.6" y1="2262.4" x2="549.5" y2="2262.4" stroke="#8514f5" stroke-width="1.3" />
<circle cx="536.6" cy="2262.4" r="4.3" fill="#8514f5" stroke="none" stroke-width="0" />
<text x="564" y="2270.2" font-size="18.4" stroke="#000" stroke-width="0.35"><tspan font-style="italic">Brca1 </tspan><tspan font-style="italic" font-size="12.5" dy="-6.5">Δ11</tspan><tspan font-style="italic" dy="6.5"> Trp53bp1</tspan><tspan font-style="italic" font-size="12.5" dy="-6.5">-/-</tspan></text>
<text x="646" y="2156.7" font-size="18.7" stroke="#000" stroke-width="0.35" textLength="254.4" lengthAdjust="spacingAndGlyphs">Two-way ANOVA vs Wild-type:</text>
<text x="786.9" y="2187" font-size="18.4" stroke="#000" stroke-width="0.35" text-anchor="middle">-</text>
<text x="786.2" y="2215" font-size="18.4" stroke="#000" stroke-width="0.35" text-anchor="middle">&lt;0.0001</text>
<text x="786.2" y="2242" font-size="18.4" stroke="#000" stroke-width="0.35" text-anchor="middle">&lt;0.0001</text>
<text x="786.2" y="2270.2" font-size="18.4" stroke="#000" stroke-width="0.35" text-anchor="middle">&lt;0.0001</text>
</g>
<g id="panel-m">
<text x="960" y="2157.3" font-size="42.5" stroke="#000" stroke-width="0.3" font-weight="bold" letter-spacing="1.2">m.</text>
<text x="1248.6" y="2136.6" font-size="26" stroke="#000" stroke-width="0.3" text-anchor="middle" font-weight="bold" textLength="286.5" lengthAdjust="spacingAndGlyphs">3D tumor growth assay</text>
<text x="1248" y="2173.2" font-size="26" stroke="#000" stroke-width="0.3" text-anchor="middle" font-weight="bold" textLength="348" lengthAdjust="spacingAndGlyphs"><tspan font-style="italic">BRCA1</tspan> low, <tspan font-style="italic">53BP1</tspan> low PDO</text>
<line x1="1081.2" y1="2190" x2="1081.2" y2="2461" stroke="#111" stroke-width="1.4" />
<line x1="1080.5" y1="2460.3" x2="1444.3" y2="2460.3" stroke="#111" stroke-width="1.4" />
<line x1="1077.2" y1="2460.3" x2="1081.2" y2="2460.3" stroke="#111" stroke-width="1.2" />
<text x="1075.2" y="2465.2" font-size="13.6" stroke="#000" stroke-width="0.23" text-anchor="end" font-weight="bold">0.00</text>
<line x1="1077.2" y1="2415.35" x2="1081.2" y2="2415.35" stroke="#111" stroke-width="1.2" />
<text x="1075.2" y="2420.25" font-size="13.6" stroke="#000" stroke-width="0.23" text-anchor="end" font-weight="bold">0.25</text>
<line x1="1077.2" y1="2370.4" x2="1081.2" y2="2370.4" stroke="#111" stroke-width="1.2" />
<text x="1075.2" y="2375.3" font-size="13.6" stroke="#000" stroke-width="0.23" text-anchor="end" font-weight="bold">0.50</text>
<line x1="1077.2" y1="2325.45" x2="1081.2" y2="2325.45" stroke="#111" stroke-width="1.2" />
<text x="1075.2" y="2330.35" font-size="13.6" stroke="#000" stroke-width="0.23" text-anchor="end" font-weight="bold">0.75</text>
<line x1="1077.2" y1="2280.5" x2="1081.2" y2="2280.5" stroke="#111" stroke-width="1.2" />
<text x="1075.2" y="2285.4" font-size="13.6" stroke="#000" stroke-width="0.23" text-anchor="end" font-weight="bold">1.00</text>
<line x1="1077.2" y1="2235.55" x2="1081.2" y2="2235.55" stroke="#111" stroke-width="1.2" />
<text x="1075.2" y="2240.45" font-size="13.6" stroke="#000" stroke-width="0.23" text-anchor="end" font-weight="bold">1.25</text>
<line x1="1077.2" y1="2190.6" x2="1081.2" y2="2190.6" stroke="#111" stroke-width="1.2" />
<text x="1075.2" y="2195.5" font-size="13.6" stroke="#000" stroke-width="0.23" text-anchor="end" font-weight="bold">1.50</text>
<line x1="1102.91" y1="2460.3" x2="1102.91" y2="2462.5" stroke="#111" stroke-width="0.9" />
<line x1="1115.38" y1="2460.3" x2="1115.38" y2="2462.5" stroke="#111" stroke-width="0.9" />
<line x1="1124.23" y1="2460.3" x2="1124.23" y2="2462.5" stroke="#111" stroke-width="0.9" />
<line x1="1131.09" y1="2460.3" x2="1131.09" y2="2462.5" stroke="#111" stroke-width="0.9" />
<line x1="1136.69" y1="2460.3" x2="1136.69" y2="2462.5" stroke="#111" stroke-width="0.9" />
<line x1="1141.43" y1="2460.3" x2="1141.43" y2="2462.5" stroke="#111" stroke-width="0.9" />
<line x1="1145.54" y1="2460.3" x2="1145.54" y2="2462.5" stroke="#111" stroke-width="0.9" />
<line x1="1149.16" y1="2460.3" x2="1149.16" y2="2462.5" stroke="#111" stroke-width="0.9" />
<line x1="1152.4" y1="2460.3" x2="1152.4" y2="2464.8" stroke="#111" stroke-width="1.2" />
<line x1="1173.71" y1="2460.3" x2="1173.71" y2="2462.5" stroke="#111" stroke-width="0.9" />
<line x1="1186.18" y1="2460.3" x2="1186.18" y2="2462.5" stroke="#111" stroke-width="0.9" />
<line x1="1195.03" y1="2460.3" x2="1195.03" y2="2462.5" stroke="#111" stroke-width="0.9" />
<line x1="1201.89" y1="2460.3" x2="1201.89" y2="2462.5" stroke="#111" stroke-width="0.9" />
<line x1="1207.49" y1="2460.3" x2="1207.49" y2="2462.5" stroke="#111" stroke-width="0.9" />
<line x1="1212.23" y1="2460.3" x2="1212.23" y2="2462.5" stroke="#111" stroke-width="0.9" />
<line x1="1216.34" y1="2460.3" x2="1216.34" y2="2462.5" stroke="#111" stroke-width="0.9" />
<line x1="1219.96" y1="2460.3" x2="1219.96" y2="2462.5" stroke="#111" stroke-width="0.9" />
<line x1="1223.2" y1="2460.3" x2="1223.2" y2="2463.5" stroke="#111" stroke-width="1.1" />
<line x1="1244.51" y1="2460.3" x2="1244.51" y2="2462.5" stroke="#111" stroke-width="0.9" />
<line x1="1256.98" y1="2460.3" x2="1256.98" y2="2462.5" stroke="#111" stroke-width="0.9" />
<line x1="1265.83" y1="2460.3" x2="1265.83" y2="2462.5" stroke="#111" stroke-width="0.9" />
<line x1="1272.69" y1="2460.3" x2="1272.69" y2="2462.5" stroke="#111" stroke-width="0.9" />
<line x1="1278.29" y1="2460.3" x2="1278.29" y2="2462.5" stroke="#111" stroke-width="0.9" />
<line x1="1283.03" y1="2460.3" x2="1283.03" y2="2462.5" stroke="#111" stroke-width="0.9" />
<line x1="1287.14" y1="2460.3" x2="1287.14" y2="2462.5" stroke="#111" stroke-width="0.9" />
<line x1="1290.76" y1="2460.3" x2="1290.76" y2="2462.5" stroke="#111" stroke-width="0.9" />
<line x1="1294" y1="2460.3" x2="1294" y2="2464.8" stroke="#111" stroke-width="1.2" />
<line x1="1315.31" y1="2460.3" x2="1315.31" y2="2462.5" stroke="#111" stroke-width="0.9" />
<line x1="1327.78" y1="2460.3" x2="1327.78" y2="2462.5" stroke="#111" stroke-width="0.9" />
<line x1="1336.63" y1="2460.3" x2="1336.63" y2="2462.5" stroke="#111" stroke-width="0.9" />
<line x1="1343.49" y1="2460.3" x2="1343.49" y2="2462.5" stroke="#111" stroke-width="0.9" />
<line x1="1349.09" y1="2460.3" x2="1349.09" y2="2462.5" stroke="#111" stroke-width="0.9" />
<line x1="1353.83" y1="2460.3" x2="1353.83" y2="2462.5" stroke="#111" stroke-width="0.9" />
<line x1="1357.94" y1="2460.3" x2="1357.94" y2="2462.5" stroke="#111" stroke-width="0.9" />
<line x1="1361.56" y1="2460.3" x2="1361.56" y2="2462.5" stroke="#111" stroke-width="0.9" />
<line x1="1364.8" y1="2460.3" x2="1364.8" y2="2463.5" stroke="#111" stroke-width="1.1" />
<line x1="1386.11" y1="2460.3" x2="1386.11" y2="2462.5" stroke="#111" stroke-width="0.9" />
<line x1="1398.58" y1="2460.3" x2="1398.58" y2="2462.5" stroke="#111" stroke-width="0.9" />
<line x1="1407.43" y1="2460.3" x2="1407.43" y2="2462.5" stroke="#111" stroke-width="0.9" />
<line x1="1414.29" y1="2460.3" x2="1414.29" y2="2462.5" stroke="#111" stroke-width="0.9" />
<line x1="1419.89" y1="2460.3" x2="1419.89" y2="2462.5" stroke="#111" stroke-width="0.9" />
<line x1="1424.63" y1="2460.3" x2="1424.63" y2="2462.5" stroke="#111" stroke-width="0.9" />
<line x1="1428.74" y1="2460.3" x2="1428.74" y2="2462.5" stroke="#111" stroke-width="0.9" />
<line x1="1432.36" y1="2460.3" x2="1432.36" y2="2462.5" stroke="#111" stroke-width="0.9" />
<line x1="1435.6" y1="2460.3" x2="1435.6" y2="2464.8" stroke="#111" stroke-width="1.2" />
<text x="1152.3" y="2480.4" font-size="13.6" stroke="#000" stroke-width="0.23" text-anchor="middle" font-weight="bold">0.01</text>
<text x="1294" y="2480.4" font-size="13.6" stroke="#000" stroke-width="0.23" text-anchor="middle" font-weight="bold">1</text>
<text x="1435.6" y="2480.4" font-size="13.6" stroke="#000" stroke-width="0.23" text-anchor="middle" font-weight="bold">100</text>
<text x="1294.4" y="2503.3" font-size="14" stroke="#000" stroke-width="0.27" text-anchor="middle">[Drug], μM</text>
<text x="0" y="0" font-size="22.5" stroke="#000" stroke-width="0.35" text-anchor="middle" transform="translate(1027.5 2336) rotate(-90)">Surviving fraction</text>
<path d="M1130.81 2280.1 L1133.62 2280.15 L1136.44 2280.2 L1139.25 2280.24 L1142.06 2280.28 L1144.88 2280.32 L1147.69 2280.36 L1150.5 2280.4 L1153.32 2280.44 L1156.13 2280.48 L1158.94 2280.52 L1161.76 2280.56 L1164.57 2280.61 L1167.39 2280.66 L1170.2 2280.72 L1173.01 2280.78 L1175.83 2280.85 L1178.64 2280.93 L1181.45 2281.01 L1184.27 2281.11 L1187.08 2281.24 L1189.89 2281.42 L1192.71 2281.63 L1195.52 2281.89 L1198.33 2282.18 L1201.15 2282.49 L1203.96 2282.83 L1206.77 2283.2 L1209.59 2283.58 L1212.4 2283.97 L1215.21 2284.4 L1218.03 2284.91 L1220.84 2285.48 L1223.65 2286.12 L1226.47 2286.81 L1229.28 2287.54 L1232.1 2288.31 L1234.91 2289.11 L1237.72 2289.93 L1240.54 2290.81 L1243.35 2291.76 L1246.16 2292.8 L1248.98 2293.9 L1251.79 2295.07 L1254.6 2296.31 L1257.42 2297.62 L1260.23 2299.05 L1263.04 2300.6 L1265.86 2302.26 L1268.67 2304.02 L1271.48 2305.88 L1274.3 2307.82 L1277.11 2309.91 L1279.92 2312.14 L1282.74 2314.5 L1285.55 2316.96 L1288.36 2319.52 L1291.18 2322.15 L1293.99 2324.86 L1296.8 2327.69 L1299.62 2330.64 L1302.43 2333.73 L1305.25 2336.98 L1308.06 2340.42 L1310.87 2344.14 L1313.69 2348.23 L1316.5 2352.58 L1319.31 2357.05 L1322.13 2361.53 L1324.94 2365.89 L1327.75 2370.22 L1330.57 2374.58 L1333.38 2378.96 L1336.19 2383.32 L1339.01 2387.65 L1341.82 2391.93 L1344.63 2396.16 L1347.45 2400.47 L1350.26 2404.78 L1353.07 2408.97 L1355.89 2412.92 L1358.7 2416.5 L1361.51 2419.82 L1364.33 2423.05 L1367.14 2426.14 L1369.96 2429.05 L1372.77 2431.76 L1375.58 2434.21 L1378.4 2436.37 L1381.21 2438.27 L1384.02 2439.99 L1386.84 2441.58 L1389.65 2443.04 L1392.46 2444.38 L1395.28 2445.63 L1398.09 2446.79 L1400.9 2447.83 L1403.72 2448.77 L1406.53 2449.66 L1409.34 2450.53 L1412.16 2451.44" stroke="#ff0d0d" stroke-width="1.6" fill="none" stroke-linejoin="round" />
<path d="M1152.23 2280.1 L1153.17 2280.1 L1154.12 2280.1 L1155.06 2280.1 L1156 2280.1 L1156.95 2280.1 L1157.89 2280.1 L1158.84 2280.1 L1159.78 2280.1 L1160.73 2280.1 L1161.67 2280.1 L1162.61 2280.1 L1163.56 2280.1 L1164.5 2280.1 L1165.45 2280.1 L1166.39 2280.1 L1167.34 2280.1 L1168.28 2280.1 L1169.23 2280.1 L1170.17 2280.1 L1171.11 2280.1 L1172.06 2280.1 L1173 2280.1 L1173.95 2280.1 L1174.89 2280.1 L1175.84 2280.1 L1176.78 2280.1 L1177.72 2280.1 L1178.67 2280.1 L1179.61 2280.1 L1180.56 2280.1 L1181.5 2280.1 L1182.45 2280.1 L1183.39 2280.1 L1184.33 2280.1 L1185.28 2280.1 L1186.22 2280.1 L1187.17 2280.1 L1188.11 2280.1 L1189.06 2280.1 L1190 2280.1 L1190.94 2280.1 L1191.89 2280.1 L1192.83 2280.1 L1193.78 2280.1 L1194.72 2280.1 L1195.67 2280.1 L1196.61 2280.1 L1197.55 2280.1 L1198.5 2280.1 L1199.44 2280.1 L1200.39 2280.1 L1201.33 2280.1 L1202.28 2280.1 L1203.22 2280.1 L1204.16 2280.1 L1205.11 2280.1 L1206.05 2280.1 L1207 2280.1 L1207.94 2280.1 L1208.89 2280.1 L1209.83 2280.1 L1210.77 2280.1 L1211.72 2280.1 L1212.66 2280.1 L1213.61 2280.1 L1214.55 2280.1 L1215.5 2280.1 L1216.44 2280.1 L1217.39 2280.1 L1218.33 2280.1 L1219.27 2280.1 L1220.22 2280.1 L1221.16 2280.1 L1222.11 2280.1 L1223.05 2280.1 L1224 2280.1 L1224.94 2280.1 L1225.88 2280.1 L1226.83 2280.1 L1227.77 2280.1 L1228.72 2280.1 L1229.66 2280.1 L1230.61 2280.1 L1231.55 2280.1 L1232.49 2280.1 L1233.44 2280.1 L1234.38 2280.1 L1235.33 2280.1 L1236.27 2280.1 L1237.22 2280.1 L1238.16 2280.1 L1239.1 2280.1 L1240.05 2280.1 L1240.99 2280.1 L1241.94 2280.1 L1242.88 2280.1 L1243.83 2280.1 L1244.77 2280.1 L1245.71 2280.1 L1246.66 2280.1 L1247.6 2280.1 L1248.55 2280.1 L1249.49 2280.1 L1250.44 2280.1 L1251.38 2280.1 L1252.32 2280.1 L1253.27 2280.1 L1254.21 2280.1 L1255.16 2280.1 L1256.1 2280.1 L1257.05 2280.1 L1257.99 2280.1 L1258.93 2280.1 L1259.88 2280.1 L1260.82 2280.1 L1261.77 2280.1 L1262.71 2280.1 L1263.66 2280.1 L1264.6 2280.1 L1265.55 2280.1 L1266.49 2280.1 L1267.43 2280.1 L1268.38 2280.1 L1269.32 2280.1 L1270.27 2280.1 L1271.21 2280.1 L1272.16 2280.1 L1273.1 2280.1 L1274.04 2280.1 L1274.99 2280.1 L1275.93 2280.1 L1276.88 2280.1 L1277.82 2280.1 L1278.77 2280.1 L1279.71 2280.1 L1280.65 2280.1 L1281.6 2280.1 L1282.54 2280.1 L1283.49 2280.1 L1284.43 2280.1 L1285.38 2280.1 L1286.32 2280.1 L1287.26 2280.1 L1288.21 2280.1 L1289.15 2280.1 L1290.1 2280.1 L1291.04 2280.1 L1291.99 2280.1 L1292.93 2280.1 L1293.87 2280.1 L1294.82 2280.1 L1295.76 2280.1 L1296.71 2280.1 L1297.65 2280.1 L1298.6 2280.1 L1299.54 2280.1 L1300.48 2280.1 L1301.43 2280.1 L1302.37 2280.1 L1303.32 2280.1 L1304.26 2280.1 L1305.21 2280.1 L1306.15 2280.1 L1307.1 2280.1 L1308.04 2280.1 L1308.98 2280.1 L1309.93 2280.1 L1310.87 2280.1 L1311.82 2280.1 L1312.76 2280.1 L1313.71 2280.1 L1314.65 2280.1 L1315.59 2280.1 L1316.54 2280.1 L1317.48 2280.1 L1318.43 2280.1 L1319.37 2280.1 L1320.32 2280.1 L1321.26 2280.1 L1322.2 2280.1 L1323.15 2280.1 L1324.09 2280.1 L1325.04 2280.1 L1325.98 2280.1 L1326.93 2280.1 L1327.87 2280.1 L1328.81 2280.1 L1329.76 2280.1 L1330.7 2280.1 L1331.65 2280.1 L1332.59 2280.1 L1333.54 2280.1 L1334.48 2280.1 L1335.42 2280.1 L1336.37 2280.1 L1337.31 2280.1 L1338.26 2280.1 L1339.2 2280.1 L1340.15 2280.1 L1341.09 2280.1 L1342.03 2280.1 L1342.98 2280.1 L1343.92 2280.1 L1344.87 2280.1 L1345.81 2280.1 L1346.76 2280.1 L1347.7 2280.1 L1348.64 2280.1 L1349.59 2280.1 L1350.53 2280.1 L1351.48 2280.1 L1352.42 2280.1 L1353.37 2280.1 L1354.31 2280.1 L1355.26 2280.1 L1356.2 2280.1 L1357.14 2280.1 L1358.09 2280.1 L1359.03 2280.1 L1359.98 2280.1 L1360.92 2280.1 L1361.87 2280.1 L1362.81 2280.1 L1363.75 2280.1 L1364.7 2280.1 L1365.64 2280.1 L1366.59 2280.1 L1367.53 2280.1 L1368.48 2280.1 L1369.42 2280.1 L1370.36 2280.1 L1371.31 2280.1 L1372.25 2280.1 L1373.2 2280.1 L1374.14 2280.1 L1375.09 2280.1 L1376.03 2280.1 L1376.97 2280.1 L1377.92 2280.1 L1378.86 2280.11 L1379.81 2280.13 L1380.75 2280.16 L1381.7 2280.21 L1382.64 2280.28 L1383.58 2280.36 L1384.53 2280.45 L1385.47 2280.56 L1386.42 2280.69 L1387.36 2280.83 L1388.31 2280.99 L1389.25 2281.19 L1390.19 2281.64 L1391.14 2282.36 L1392.08 2283.35 L1393.03 2284.62 L1393.97 2286.16 L1394.92 2288.1 L1395.86 2292.27 L1396.8 2298.55 L1397.75 2306.15 L1398.69 2317.25 L1399.64 2330.81 L1400.58 2346.75 L1401.53 2364.32 L1402.47 2383.33 L1403.42 2402.16 L1404.36 2420.35 L1405.3 2435.4 L1406.25 2445.7 L1407.19 2452.51 L1408.14 2455.66 L1409.08 2457.91 L1410.03 2459.13 L1410.97 2459.53 L1411.91 2459.83 L1412.86 2460.04 L1413.8 2460.17 L1414.75 2460.2 L1415.69 2460.2 L1416.64 2460.2 L1417.58 2460.2 L1418.52 2460.2 L1419.47 2460.2 L1420.41 2460.2 L1421.36 2460.2 L1422.3 2460.2 L1423.25 2460.2 L1424.19 2460.2 L1425.13 2460.2 L1426.08 2460.2 L1427.02 2460.2 L1427.97 2460.2 L1428.91 2460.2 L1429.86 2460.2 L1430.8 2460.2 L1431.74 2460.2 L1432.69 2460.2 L1433.63 2460.2 L1434.58 2460.2 L1435.52 2460.2" stroke="#108a10" stroke-width="1.6" fill="none" stroke-linejoin="round" />
<path d="M1115.23 2280.1 L1116.18 2280.1 L1117.13 2280.1 L1118.07 2280.1 L1119.02 2280.1 L1119.96 2280.1 L1120.91 2280.1 L1121.86 2280.1 L1122.8 2280.1 L1123.75 2280.1 L1124.69 2280.1 L1125.64 2280.1 L1126.58 2280.1 L1127.53 2280.1 L1128.48 2280.1 L1129.42 2280.1 L1130.37 2280.1 L1131.31 2280.1 L1132.26 2280.1 L1133.21 2280.1 L1134.15 2280.1 L1135.1 2280.1 L1136.04 2280.1 L1136.99 2280.1 L1137.94 2280.1 L1138.88 2280.1 L1139.83 2280.1 L1140.77 2280.1 L1141.72 2280.1 L1142.67 2280.1 L1143.61 2280.1 L1144.56 2280.1 L1145.5 2280.1 L1146.45 2280.1 L1147.4 2280.1 L1148.34 2280.1 L1149.29 2280.1 L1150.23 2280.1 L1151.18 2280.1 L1152.13 2280.1 L1153.07 2280.1 L1154.02 2280.1 L1154.96 2280.1 L1155.91 2280.1 L1156.85 2280.1 L1157.8 2280.1 L1158.75 2280.1 L1159.69 2280.1 L1160.64 2280.1 L1161.58 2280.1 L1162.53 2280.1 L1163.48 2280.1 L1164.42 2280.1 L1165.37 2280.1 L1166.31 2280.1 L1167.26 2280.1 L1168.21 2280.1 L1169.15 2280.1 L1170.1 2280.1 L1171.04 2280.1 L1171.99 2280.1 L1172.94 2280.1 L1173.88 2280.1 L1174.83 2280.1 L1175.77 2280.1 L1176.72 2280.1 L1177.67 2280.1 L1178.61 2280.1 L1179.56 2280.1 L1180.5 2280.1 L1181.45 2280.1 L1182.4 2280.1 L1183.34 2280.1 L1184.29 2280.1 L1185.23 2280.1 L1186.18 2280.1 L1187.12 2280.1 L1188.07 2280.1 L1189.02 2280.1 L1189.96 2280.1 L1190.91 2280.1 L1191.85 2280.1 L1192.8 2280.1 L1193.75 2280.1 L1194.69 2280.1 L1195.64 2280.1 L1196.58 2280.1 L1197.53 2280.1 L1198.48 2280.1 L1199.42 2280.1 L1200.37 2280.1 L1201.31 2280.1 L1202.26 2280.1 L1203.21 2280.1 L1204.15 2280.1 L1205.1 2280.1 L1206.04 2280.1 L1206.99 2280.1 L1207.94 2280.1 L1208.88 2280.1 L1209.83 2280.1 L1210.77 2280.1 L1211.72 2280.1 L1212.67 2280.1 L1213.61 2280.1 L1214.56 2280.1 L1215.5 2280.1 L1216.45 2280.1 L1217.39 2280.1 L1218.34 2280.1 L1219.29 2280.1 L1220.23 2280.1 L1221.18 2280.1 L1222.12 2280.1 L1223.07 2280.1 L1224.02 2280.1 L1224.96 2280.1 L1225.91 2280.1 L1226.85 2280.1 L1227.8 2280.1 L1228.75 2280.1 L1229.69 2280.1 L1230.64 2280.1 L1231.58 2280.1 L1232.53 2280.1 L1233.48 2280.1 L1234.42 2280.1 L1235.37 2280.1 L1236.31 2280.1 L1237.26 2280.1 L1238.21 2280.1 L1239.15 2280.1 L1240.1 2280.1 L1241.04 2280.1 L1241.99 2280.1 L1242.94 2280.1 L1243.88 2280.1 L1244.83 2280.1 L1245.77 2280.1 L1246.72 2280.1 L1247.66 2280.1 L1248.61 2280.1 L1249.56 2280.1 L1250.5 2280.1 L1251.45 2280.1 L1252.39 2280.1 L1253.34 2280.1 L1254.29 2280.1 L1255.23 2280.1 L1256.18 2280.1 L1257.12 2280.1 L1258.07 2280.1 L1259.02 2280.1 L1259.96 2280.1 L1260.91 2280.1 L1261.85 2280.1 L1262.8 2280.1 L1263.75 2280.1 L1264.69 2280.1 L1265.64 2280.1 L1266.58 2280.1 L1267.53 2280.1 L1268.48 2280.1 L1269.42 2280.1 L1270.37 2280.1 L1271.31 2280.1 L1272.26 2280.1 L1273.21 2280.1 L1274.15 2280.1 L1275.1 2280.1 L1276.04 2280.1 L1276.99 2280.1 L1277.93 2280.1 L1278.88 2280.1 L1279.83 2280.1 L1280.77 2280.1 L1281.72 2280.1 L1282.66 2280.1 L1283.61 2280.1 L1284.56 2280.1 L1285.5 2280.1 L1286.45 2280.1 L1287.39 2280.1 L1288.34 2280.1 L1289.29 2280.1 L1290.23 2280.1 L1291.18 2280.1 L1292.12 2280.1 L1293.07 2280.1 L1294.02 2280.1 L1294.96 2280.1 L1295.91 2280.1 L1296.85 2280.1 L1297.8 2280.1 L1298.75 2280.1 L1299.69 2280.1 L1300.64 2280.1 L1301.58 2280.1 L1302.53 2280.1 L1303.48 2280.1 L1304.42 2280.1 L1305.37 2280.1 L1306.31 2280.1 L1307.26 2280.1 L1308.2 2280.1 L1309.15 2280.1 L1310.1 2280.1 L1311.04 2280.1 L1311.99 2280.1 L1312.93 2280.1 L1313.88 2280.1 L1314.83 2280.1 L1315.77 2280.1 L1316.72 2280.1 L1317.66 2280.1 L1318.61 2280.1 L1319.56 2280.1 L1320.5 2280.1 L1321.45 2280.1 L1322.39 2280.1 L1323.34 2280.1 L1324.29 2280.1 L1325.23 2280.1 L1326.18 2280.1 L1327.12 2280.1 L1328.07 2280.1 L1329.02 2280.1 L1329.96 2280.1 L1330.91 2280.1 L1331.85 2280.1 L1332.8 2280.1 L1333.75 2280.1 L1334.69 2280.1 L1335.64 2280.1 L1336.58 2280.1 L1337.53 2280.1 L1338.47 2280.1 L1339.42 2280.1 L1340.37 2280.1 L1341.31 2280.1 L1342.26 2280.1 L1343.2 2280.1 L1344.15 2280.1 L1345.1 2280.1 L1346.04 2280.1 L1346.99 2280.1 L1347.93 2280.1 L1348.88 2280.1 L1349.83 2280.1 L1350.77 2280.1 L1351.72 2280.1 L1352.66 2280.1 L1353.61 2280.1 L1354.56 2280.1 L1355.5 2280.1 L1356.45 2280.1 L1357.39 2280.1 L1358.34 2280.1 L1359.29 2280.1 L1360.23 2280.1 L1361.18 2280.1 L1362.12 2280.1 L1363.07 2280.1 L1364.02 2280.1 L1364.96 2280.1 L1365.91 2280.1 L1366.85 2280.1 L1367.8 2280.1 L1368.74 2280.1 L1369.69 2280.1 L1370.64 2280.1 L1371.58 2280.1 L1372.53 2280.1 L1373.47 2280.1 L1374.42 2280.1 L1375.37 2280.1 L1376.31 2280.1 L1377.26 2280.12 L1378.2 2280.15 L1379.15 2280.19 L1380.1 2280.25 L1381.04 2280.32 L1381.99 2280.41 L1382.93 2280.51 L1383.88 2280.62 L1384.83 2280.75 L1385.77 2280.89 L1386.72 2281.05 L1387.66 2281.32 L1388.61 2281.87 L1389.56 2282.7 L1390.5 2283.8 L1391.45 2285.18 L1392.39 2286.83 L1393.34 2289.43 L1394.29 2294.54 L1395.23 2301.42 L1396.18 2310.02 L1397.12 2322.4 L1398.07 2337.49 L1399.01 2355.55" stroke="#14148c" stroke-width="1.6" fill="none" stroke-linejoin="round" />
<path d="M1115.23 2236.45V2274.21M1111.83 2236.45H1118.63M1111.83 2274.21H1118.63" stroke="#14148c" stroke-width="1.5" fill="none"/>
<circle cx="1115.23" cy="2255.33" r="3.8" fill="#14148c" stroke="none" stroke-width="0" />
<path d="M1150.77 2233.75V2276.9M1147.37 2233.75H1154.17M1147.37 2276.9H1154.17" stroke="#14148c" stroke-width="1.5" fill="none"/>
<circle cx="1150.77" cy="2255.33" r="3.8" fill="#14148c" stroke="none" stroke-width="0" />
<path d="M1186.3 2257.13V2278.7M1182.9 2257.13H1189.7M1182.9 2278.7H1189.7" stroke="#14148c" stroke-width="1.5" fill="none"/>
<circle cx="1186.3" cy="2268.81" r="3.8" fill="#14148c" stroke="none" stroke-width="0" />
<path d="M1221.35 2246.34V2278.7M1217.95 2246.34H1224.75M1217.95 2278.7H1224.75" stroke="#14148c" stroke-width="1.5" fill="none"/>
<circle cx="1221.35" cy="2262.52" r="3.8" fill="#14148c" stroke="none" stroke-width="0" />
<path d="M1256.88 2230.16V2264.32M1253.48 2230.16H1260.28M1253.48 2264.32H1260.28" stroke="#14148c" stroke-width="1.5" fill="none"/>
<circle cx="1256.88" cy="2247.24" r="3.8" fill="#14148c" stroke="none" stroke-width="0" />
<path d="M1327.95 2260.72V2275.11M1324.55 2260.72H1331.35M1324.55 2275.11H1331.35" stroke="#14148c" stroke-width="1.5" fill="none"/>
<circle cx="1327.95" cy="2267.91" r="3.8" fill="#14148c" stroke="none" stroke-width="0" />
<path d="M1362.99 2224.76V2266.12M1359.59 2224.76H1366.39M1359.59 2266.12H1366.39" stroke="#14148c" stroke-width="1.5" fill="none"/>
<circle cx="1362.99" cy="2246.34" r="3.8" fill="#14148c" stroke="none" stroke-width="0" />
<path d="M1398.53 2330.84V2365.01M1395.13 2330.84H1401.93M1395.13 2365.01H1401.93" stroke="#14148c" stroke-width="1.5" fill="none"/>
<circle cx="1398.53" cy="2347.93" r="3.8" fill="#14148c" stroke="none" stroke-width="0" />
<path d="M1152.23 2190.6V2257.13M1148.83 2257.13H1155.63" stroke="#108a10" stroke-width="1.5" fill="none"/>
<path d="M1152.23 2213.98L1156.63 2206.28L1147.83 2206.28Z" fill="#108a10"/>
<path d="M1187.76 2253.53V2280.5M1184.36 2253.53H1191.16M1184.36 2280.5H1191.16" stroke="#108a10" stroke-width="1.5" fill="none"/>
<path d="M1187.76 2269.72L1192.16 2262.02L1183.36 2262.02Z" fill="#108a10"/>
<path d="M1223.29 2222.96V2262.52M1219.89 2222.96H1226.69M1219.89 2262.52H1226.69" stroke="#108a10" stroke-width="1.5" fill="none"/>
<path d="M1223.29 2246.34L1227.69 2238.64L1218.89 2238.64Z" fill="#108a10"/>
<path d="M1258.83 2269.71V2325.45M1255.43 2269.71H1262.23M1255.43 2325.45H1262.23" stroke="#108a10" stroke-width="1.5" fill="none"/>
<path d="M1258.83 2301.18L1263.23 2293.48L1254.43 2293.48Z" fill="#108a10"/>
<path d="M1293.87 2261.62V2300.28M1290.47 2261.62H1297.27M1290.47 2300.28H1297.27" stroke="#108a10" stroke-width="1.5" fill="none"/>
<path d="M1293.87 2284.1L1298.27 2276.4L1289.47 2276.4Z" fill="#108a10"/>
<path d="M1329.41 2218.47V2262.52M1326.01 2218.47H1332.81M1326.01 2262.52H1332.81" stroke="#108a10" stroke-width="1.5" fill="none"/>
<path d="M1329.41 2243.64L1333.81 2235.94L1325.01 2235.94Z" fill="#108a10"/>
<path d="M1364.94 2190.6V2235.55M1361.54 2235.55H1368.34" stroke="#108a10" stroke-width="1.5" fill="none"/>
<path d="M1364.94 2215.78L1369.34 2208.08L1360.54 2208.08Z" fill="#108a10"/>
<path d="M1400.48 2352.42V2374M1397.08 2352.42H1403.88M1397.08 2374H1403.88" stroke="#108a10" stroke-width="1.5" fill="none"/>
<path d="M1400.48 2365.91L1404.88 2358.21L1396.08 2358.21Z" fill="#108a10"/>
<path d="M1435.52 2463L1439.92 2455.3L1431.12 2455.3Z" fill="#108a10"/>
<path d="M1130.81 2255.33V2285M1127.41 2255.33H1134.21M1127.41 2285H1134.21" stroke="#ff0d0d" stroke-width="1.5" fill="none"/>
<rect x="1127.31" y="2267.11" width="7" height="7" fill="#ff0d0d" stroke="none" stroke-width="0" rx="0" />
<path d="M1166.34 2258.03V2290.39M1162.94 2258.03H1169.74M1162.94 2290.39H1169.74" stroke="#ff0d0d" stroke-width="1.5" fill="none"/>
<rect x="1162.84" y="2270.71" width="7" height="7" fill="#ff0d0d" stroke="none" stroke-width="0" rx="0" />
<path d="M1201.88 2249.93V2273.31M1198.48 2249.93H1205.28M1198.48 2273.31H1205.28" stroke="#ff0d0d" stroke-width="1.5" fill="none"/>
<rect x="1198.38" y="2258.12" width="7" height="7" fill="#ff0d0d" stroke="none" stroke-width="0" rx="0" />
<path d="M1237.41 2254.43V2297.58M1234.01 2254.43H1240.81M1234.01 2297.58H1240.81" stroke="#ff0d0d" stroke-width="1.5" fill="none"/>
<rect x="1233.91" y="2272.51" width="7" height="7" fill="#ff0d0d" stroke="none" stroke-width="0" rx="0" />
<path d="M1272.94 2307.47V2328.15M1269.54 2307.47H1276.34M1269.54 2328.15H1276.34" stroke="#ff0d0d" stroke-width="1.5" fill="none"/>
<rect x="1269.44" y="2313.86" width="7" height="7" fill="#ff0d0d" stroke="none" stroke-width="0" rx="0" />
<path d="M1308.48 2332.64V2356.91M1305.08 2332.64H1311.88M1305.08 2356.91H1311.88" stroke="#ff0d0d" stroke-width="1.5" fill="none"/>
<rect x="1304.98" y="2340.83" width="7" height="7" fill="#ff0d0d" stroke="none" stroke-width="0" rx="0" />
<path d="M1343.52 2383.89V2405.46M1340.12 2383.89H1346.92M1340.12 2405.46H1346.92" stroke="#ff0d0d" stroke-width="1.5" fill="none"/>
<rect x="1340.02" y="2392.07" width="7" height="7" fill="#ff0d0d" stroke="none" stroke-width="0" rx="0" />
<rect x="1375.56" y="2426.23" width="7" height="7" fill="#ff0d0d" stroke="none" stroke-width="0" rx="0" />
<rect x="1411.09" y="2456.26" width="7" height="7" fill="#ff0d0d" stroke="none" stroke-width="0" rx="0" />
<path d="M1429.3 2270.4 L1442.6 2271.6 V2394.8 L1429.3 2396" stroke="#000" stroke-width="2.5" fill="none" stroke-linejoin="round"/>
<text x="1464.3" y="2335.2" font-size="22.9" stroke="#1f3a6e" stroke-width="0.3" font-weight="bold" fill="#1f3a6e">olaparib</text>
<text x="1464.3" y="2362" font-size="22.7" stroke="#3ca24e" stroke-width="0.3" font-weight="bold" fill="#3ca24e">carboplatin</text>
<text x="1239.4" y="2400.2" font-size="22.6" stroke="#ff0d0d" stroke-width="0.3" font-weight="bold" fill="#ff0d0d">ART558</text>
</g>
</svg>
</body>
</html>
